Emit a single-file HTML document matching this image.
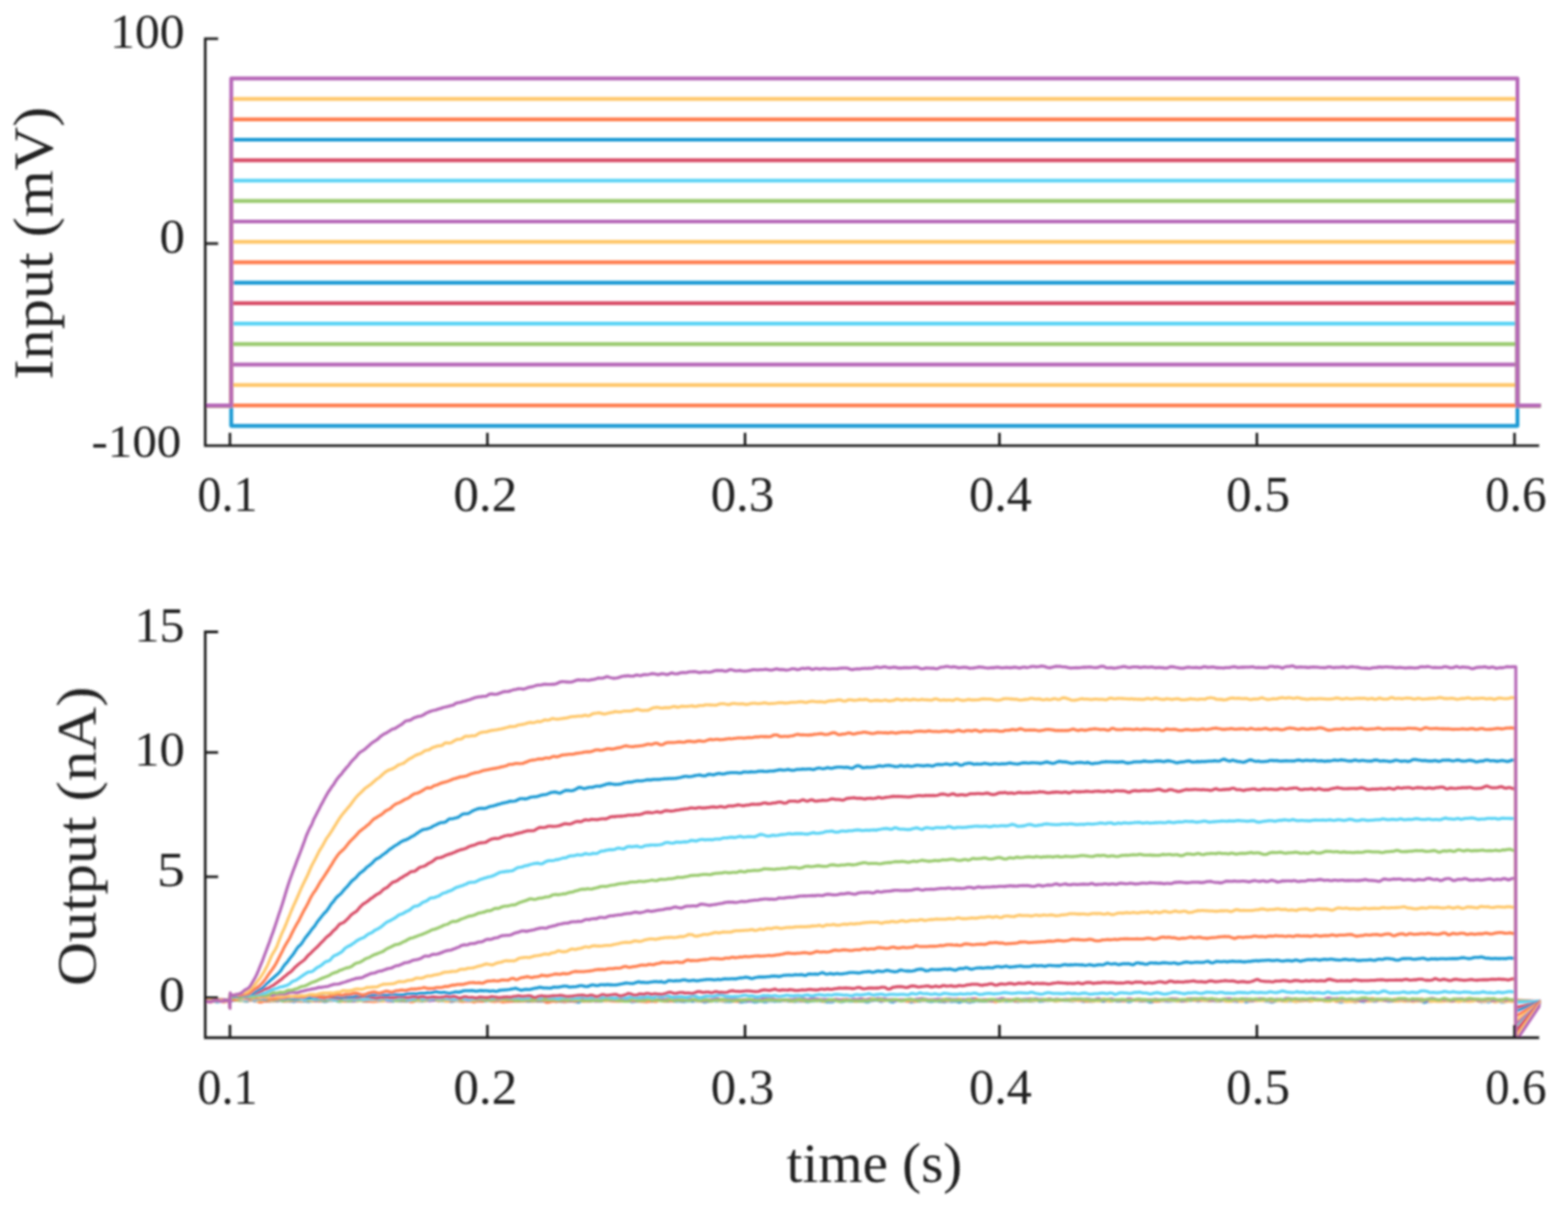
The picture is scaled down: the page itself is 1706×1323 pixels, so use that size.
<!DOCTYPE html><html><head><meta charset="utf-8"><title>Voltage clamp</title><style>html,body{margin:0;padding:0;background:#fff;}svg{display:block;}text{font-family:"Liberation Serif",serif;fill:#222;}</style></head><body>
<svg width="1706" height="1323" viewBox="0 0 1706 1323">
<rect width="1706" height="1323" fill="#fff"/>
<defs><clipPath id="ct"><rect x="223.3" y="0" width="1452.8" height="486.9"/></clipPath><clipPath id="cb"><rect x="223.3" y="667.5" width="1452.8" height="461.5"/></clipPath><filter id="bl" x="-1%" y="-1%" width="102%" height="102%"><feGaussianBlur stdDeviation="1.0"/></filter></defs>
<g filter="url(#bl)">
<g clip-path="url(#ct)" fill="none" stroke-width="4.2" stroke-linejoin="round" stroke-linecap="butt">
<path stroke="#1a9ad4" d="M221.3 441.1H251.6V463.3H1651.0V441.1H1678.6"/>
<path stroke="#ff7f4f" d="M221.3 441.1H251.6V441.1H1651.0V441.1H1678.6"/>
<path stroke="#ffc86c" d="M221.3 441.1H251.6V418.8H1651.0V441.1H1678.6"/>
<path stroke="#b668b8" d="M221.3 441.1H251.6V396.6H1651.0V441.1H1678.6"/>
<path stroke="#9aca6e" d="M221.3 441.1H251.6V374.4H1651.0V441.1H1678.6"/>
<path stroke="#5ad3f5" d="M221.3 441.1H251.6V352.1H1651.0V441.1H1678.6"/>
<path stroke="#d84d68" d="M221.3 441.1H251.6V329.9H1651.0V441.1H1678.6"/>
<path stroke="#1a9ad4" d="M221.3 441.1H251.6V307.7H1651.0V441.1H1678.6"/>
<path stroke="#ff7f4f" d="M221.3 441.1H251.6V285.4H1651.0V441.1H1678.6"/>
<path stroke="#ffc86c" d="M221.3 441.1H251.6V263.2H1651.0V441.1H1678.6"/>
<path stroke="#b668b8" d="M221.3 441.1H251.6V241.0H1651.0V441.1H1678.6"/>
<path stroke="#9aca6e" d="M221.3 441.1H251.6V218.7H1651.0V441.1H1678.6"/>
<path stroke="#5ad3f5" d="M221.3 441.1H251.6V196.5H1651.0V441.1H1678.6"/>
<path stroke="#d84d68" d="M221.3 441.1H251.6V174.3H1651.0V441.1H1678.6"/>
<path stroke="#1a9ad4" d="M221.3 441.1H251.6V152.0H1651.0V441.1H1678.6"/>
<path stroke="#ff7f4f" d="M221.3 441.1H251.6V129.8H1651.0V441.1H1678.6"/>
<path stroke="#ffc86c" d="M221.3 441.1H251.6V107.6H1651.0V441.1H1678.6"/>
<path stroke="#b668b8" d="M221.3 441.1H251.6V85.3H1651.0V441.1H1678.6"/>
</g>
<g clip-path="url(#cb)" fill="none" stroke-width="3.3" stroke-linejoin="round">
<path stroke="#1a9ad4" d="M221.3 1088.7l2 -0.0 2 -0.3 2 -0.3 2 -0.2 2 0.2 2 0.6 2 0.3 2 -0.3 2 -0.2 2 0.3 2 0.2 2 -0.4 2 -0.2 2 0.1 1.5 0.6 0.4 -0.1 2 -0.3 2 -0.6 2 -0.1 2 -0.3 2 0.4 2 0.2 2 0.5 2 0.2 2 0.3 2 -0.8 2 -0.4 2 0.2 2 0.8 2 -0.3 2 -0.3 2 -0.2 2 0.1 2 0.4 2 0.2 2 0.0 2 0.0 2 0.1 2 -0.2 2 -0.2 2 0.2 2 -0.3 2 -0.1 2 0.5 2 0.0 2 -0.1 2 -0.1 2 0.2 2 0.2 2 0.4 2 -0.3 2 -0.7 2 0.1 2 0.3 2 0.1 2 -0.1 2 0.2 2 0.3 2 -0.1 2 -0.3 2 -0.4 2 0.2 2 -0.3 2 -0.1 2 -0.0 2 0.6 2 0.6 2 -0.3 2 -0.7 2 -0.1 2 -0.1 2 -0.1 2 -0.1 2 0.9 2 0.4 2 -0.1 2 -0.5 2 -0.3 2 0.5 2 0.1 2 -0.2 2 -0.3 2 0.1 2 -0.0 2 -0.4 2 -0.1 2 0.0 2 0.6 2 0.3 2 0.1 2 -0.2 2 -0.2 2 0.2 2 -0.1 2 0.2 2 -0.6 2 -0.1 2 -0.5 2 -0.4 2 -0.2 2 0.4 2 0.5 2 0.8 2 0.2 2 -0.5 2 -0.5 2 0.4 2 0.1 2 -0.2 2 0.1 2 0.3 2 -0.2 2 -0.4 2 -0.0 2 0.0 2 -0.0 2 -0.1 2 0.4 2 0.1 2 0.2 2 -0.4 2 -0.1 2 -0.5 2 -0.3 2 0.2 2 0.1 2 0.3 2 -0.3 2 0.5 2 -0.2 2 0.5 2 -0.0 2 -0.2 2 -0.0 2 0.6 2 0.4 2 -0.5 2 -0.5 2 -0.2 2 0.3 2 0.1 2 0.1 2 -0.5 2 -0.1 2 -0.3 2 0.5 2 0.4 2 0.5 2 -0.2 2 -0.2 2 -0.4 2 -0.1 2 0.2 2 0.0 2 0.0 2 -0.4 2 -0.2 2 0.6 2 0.4 2 -0.3 2 -0.4 2 0.7 2 -0.0 2 -0.4 2 -0.4 2 -0.1 2 0.2 2 0.4 2 0.4 2 -0.4 2 0.1 2 -0.1 2 0.1 2 -0.4 2 -0.3 2 0.4 2 0.4 2 0.2 2 -0.3 2 -0.0 2 -0.3 2 0.2 2 0.1 2 0.0 2 -0.2 2 0.4 2 0.3 2 0.1 2 -0.5 2 -0.6 2 0.1 2 0.6 2 0.3 2 -0.2 2 0.0 2 0.3 2 0.1 2 -0.3 2 0.1 2 -0.4 2 0.1 2 -0.1 2 0.5 2 0.3 2 0.4 2 -0.6 2 -1.2 2 -0.2 2 0.3 2 0.3 2 0.1 2 -0.1 2 -0.8 2 -0.2 2 0.7 2 0.5 2 -0.1 2 -0.2 2 -0.4 2 -0.1 2 0.1 2 -0.1 2 0.1 2 0.4 2 0.5 2 -0.4 2 -0.3 2 -0.3 2 -0.0 2 0.2 2 0.2 2 0.2 2 0.1 2 0.8 2 -0.3 2 -0.2 2 -0.4 2 0.3 2 -0.6 2 -0.2 2 0.3 2 0.5 2 0.1 2 -0.3 2 0.3 2 0.1 2 -0.6 2 -0.7 2 -0.4 2 -0.4 2 -0.1 2 1.1 2 1.1 2 -0.3 2 -0.7 2 0.3 2 0.5 2 0.2 2 -0.3 2 -0.0 2 0.2 2 0.2 2 0.0 2 -0.5 2 -0.1 2 -0.1 2 0.5 2 -0.3 2 -0.1 2 -0.2 2 -0.0 2 0.4 2 0.7 2 0.2 2 -0.4 2 -0.2 2 -0.6 2 -0.4 2 0.1 2 0.7 2 -0.3 2 -0.2 2 0.0 2 0.6 2 0.3 2 -0.0 2 0.1 2 -0.1 2 -0.3 2 -0.9 2 0.4 2 0.7 2 0.7 2 -0.2 2 -0.3 2 -0.2 2 -0.2 2 -0.1 2 -0.0 2 0.5 2 0.3 2 -0.1 2 -0.6 2 -0.4 2 0.4 2 0.5 2 0.1 2 -0.6 2 -0.5 2 -0.1 2 0.4 2 0.3 2 -0.2 2 -0.3 2 0.1 2 -0.3 2 -0.2 2 -0.1 2 0.6 2 0.0 2 0.2 2 0.3 2 0.2 2 -0.5 2 -0.4 2 0.2 2 -0.1 2 -0.0 2 0.7 2 0.3 2 -0.4 2 -0.8 2 0.1 2 -0.2 2 -0.2 2 0.3 2 0.3 2 0.4 2 0.2 2 0.4 2 -0.3 2 0.1 2 0.0 2 -0.5 2 -0.9 2 -0.0 2 0.7 2 0.8 2 -0.3 2 -0.8 2 -0.4 2 0.4 2 0.2 2 0.1 2 0.0 2 -0.0 2 -0.1 2 -0.0 2 0.1 2 0.1 2 0.5 2 0.3 2 -0.2 2 -1.0 2 -0.2 2 -0.4 2 -0.1 2 0.2 2 0.9 2 0.3 2 -0.8 2 -0.4 2 -0.0 2 0.6 2 0.8 2 0.4 2 -0.6 2 -1.0 2 -0.1 2 0.3 2 -0.0 2 -0.0 2 -0.1 2 0.5 2 0.5 2 0.6 2 -0.4 2 -0.3 2 -0.2 2 -0.0 2 -0.3 2 -0.3 2 -0.4 2 0.3 2 0.5 2 0.4 2 0.1 2 -0.3 2 -0.5 2 -0.1 2 0.7 2 0.1 2 0.2 2 0.1 2 -0.3 2 -0.7 2 0.2 2 0.6 2 -0.3 2 -0.1 2 0.3 2 0.8 2 -0.4 2 -0.4 2 -0.7 2 0.7 2 0.4 2 0.5 2 -0.7 2 -0.1 2 -0.8 2 -0.1 2 0.3 2 0.2 2 0.2 2 0.0 2 -0.0 2 -0.5 2 -0.2 2 0.3 2 0.0 2 -0.1 2 -0.1 2 -0.1 2 -0.2 2 0.0 2 0.6 2 0.0 2 -0.2 2 -0.3 2 0.1 2 0.2 2 0.2 2 0.5 2 -0.3 2 0.0 2 -0.4 2 -0.0 2 0.0 2 0.1 2 0.3 2 -0.1 2 -0.3 2 -0.3 2 0.1 2 0.6 2 -0.1 2 -0.2 2 -0.6 2 0.3 2 -0.1 2 -0.2 2 -0.3 2 0.7 2 0.2 2 -0.5 2 -0.5 2 0.1 2 0.4 2 0.1 2 0.0 2 0.1 2 0.1 2 0.2 2 -0.3 2 -0.2 2 -0.6 2 0.7 2 0.6 2 0.4 2 -0.5 2 0.1 2 -0.0 2 0.5 2 -0.2 2 -0.7 2 -0.8 2 -0.0 2 0.6 2 0.7 2 0.1 2 -0.7 2 -0.4 2 0.7 2 -0.2 2 -0.1 2 -0.4 2 0.9 2 -0.2 2 0.0 2 -0.6 2 -0.1 2 0.5 2 0.8 2 0.1 2 -0.7 2 -0.8 2 -0.1 2 0.4 2 0.5 2 0.1 2 -0.3 2 -0.1 2 0.1 2 0.7 2 0.6 2 0.0 2 -0.7 2 -0.6 2 -0.1 2 -0.0 2 -0.0 2 -0.1 2 0.3 2 0.1 2 0.3 2 -0.2 2 -0.2 2 -0.4 2 -0.0 2 0.1 2 0.3 2 0.1 2 -0.2 2 -0.2 2 -0.2 2 0.1 2 -0.0 2 -0.2 2 0.0 2 0.3 2 0.5 2 -0.2 2 -0.2 2 -0.2 2 -0.0 2 0.0 2 0.3 2 -0.2 2 0.1 2 0.1 2 0.3 2 -0.2 2 0.1 2 -0.3 2 0.0 2 0.1 2 0.5 2 -0.0 2 -0.2 2 -0.2 2 0.1 2 0.4 2 0.1 2 -0.6 2 -0.1 2 0.4 2 0.7 2 -0.1 2 -0.8 2 -0.2 2 0.1 2 -0.4 2 -0.4 2 -0.1 2 0.2 2 -0.3 2 0.8 2 0.4 2 0.1 2 0.2 2 0.7 2 -0.1 2 -0.7 2 -0.8 2 -0.3 2 0.2 2 0.5 2 0.2 2 0.1 2 -0.2 2 -0.2 2 -0.0 2 0.4 2 0.3 2 -0.0 2 -0.3 2 -0.3 2 -0.3 2 -0.5 2 0.0 2 0.5 2 0.5 2 -0.6 2 -0.3 2 -0.1 2 0.2 2 -0.5 2 -0.1 2 0.6 2 0.8 2 -0.1 2 -0.3 2 0.2 2 -0.5 2 -0.3 2 0.2 2 1.0 2 0.5 2 0.3 2 -0.2 2 -0.5 2 -0.1 2 -0.2 2 -0.2 2 0.1 2 0.8 2 0.1 2 -0.4 2 -0.5 2 0.4 2 0.1 2 0.2 2 -0.5 2 -0.3 2 -0.4 2 0.5 2 0.4 2 -0.3 2 -0.7 2 -0.1 2 0.3 2 -0.3 2 0.1 2 0.5 2 0.5 2 -0.4 2 0.1 2 -0.1 2 0.3 2 -0.4 2 -0.3 2 -0.2 2 0.2 2 0.3 2 0.1 2 -0.1 2 -0.3 2 -0.1 2 0.5 2 -0.1 2 -0.2 2 0.1 2 0.9 2 0.8 2 -0.3 2 -0.7 2 -0.1 2 0.1 2 -0.5 2 -0.5 2 0.3 2 0.1 2 -0.6 2 -0.6 2 0.4 2 0.4 2 0.2 2 -0.1 2 0.4 2 -0.0 2 -0.0 2 -0.3 2 -0.1 2 -0.4 2 0.5 2 0.3 2 -0.0 2 -0.5 2 -0.0 2 0.4 2 -0.3 2 -0.4 2 -0.2 2 1.2 2 0.8 2 -0.1 2 -0.6 2 0.4 2 0.1 2 -0.5 2 -0.2 2 0.3 2 0.2 2 -0.4 2 0.3 2 0.5 2 0.3 2 -0.4 2 -1.0 2 -0.2 2 0.0 2 0.6 2 -0.1 2 0.0 0 -0.5 27.8 1.5"/>
<path stroke="#ff7f4f" d="M221.3 1088.8l2 -0.5 2 -0.2 2 0.1 2 0.3 2 -0.2 2 0.1 2 -0.5 2 0.3 2 0.5 2 0.8 2 0.3 2 0.0 2 -1.0 2 -0.7 1.5 0.6 0.4 -0.6 2 -0.2 2 0.3 2 -0.2 2 0.0 2 -0.2 2 0.5 2 0.0 2 0.3 2 -0.1 2 -0.1 2 -0.1 2 -0.4 2 0.0 2 0.8 2 1.2 2 0.4 2 -0.4 2 -0.8 2 -0.1 2 -0.0 2 0.0 2 -0.5 2 0.0 2 -0.1 2 0.0 2 -0.3 2 -0.1 2 0.7 2 0.5 2 -0.2 2 -0.5 2 0.3 2 -0.2 2 -0.4 2 0.1 2 0.5 2 0.0 2 0.2 2 -0.1 2 -0.2 2 -0.5 2 0.5 2 -0.4 2 -0.4 2 -0.4 2 0.7 2 0.5 2 0.5 2 -0.5 2 -0.2 2 -0.2 2 0.2 2 -0.1 2 -0.1 2 -0.5 2 -0.3 2 -0.0 2 0.3 2 0.3 2 0.6 2 0.6 2 -0.0 2 -0.7 2 -0.8 2 -0.1 2 0.1 2 0.3 2 0.2 2 -0.3 2 -0.0 2 0.4 2 0.6 2 -0.1 2 0.2 2 -0.0 2 0.3 2 0.1 2 0.0 2 -0.2 2 -0.5 2 -0.3 2 -0.1 2 0.4 2 -0.3 2 0.4 2 0.2 2 -0.1 2 -1.0 2 -0.1 2 0.4 2 0.3 2 0.0 2 -0.1 2 0.3 2 -0.1 2 0.0 2 0.2 2 1.0 2 -0.1 2 -0.7 2 -0.9 2 0.5 2 -0.0 2 -0.1 2 -0.2 2 0.1 2 -0.2 2 -0.1 2 -0.3 2 -0.3 2 0.1 2 0.7 2 0.4 2 -0.4 2 -0.3 2 0.4 2 0.7 2 0.1 2 -0.5 2 -0.1 2 0.0 2 -0.2 2 -0.4 2 0.6 2 0.6 2 0.4 2 -0.4 2 0.0 2 -0.3 2 -0.1 2 0.5 2 0.6 2 -0.2 2 -0.8 2 -0.1 2 0.5 2 -0.0 2 -0.7 2 -0.5 2 0.3 2 0.5 2 0.4 2 0.2 2 0.1 2 -0.6 2 -0.0 2 0.5 2 0.6 2 -0.3 2 -0.6 2 0.3 2 -0.2 2 -0.3 2 -0.3 2 0.5 2 -0.1 2 -0.1 2 -0.2 2 0.1 2 -0.1 2 -0.3 2 -0.1 2 0.4 2 0.1 2 -0.2 2 0.0 2 0.1 2 -0.0 2 -0.4 2 0.5 2 0.8 2 0.9 2 -0.4 2 -0.6 2 -0.4 2 0.0 2 0.2 2 -0.3 2 -0.0 2 -0.2 2 0.6 2 -0.1 2 -0.3 2 -0.4 2 0.2 2 0.2 2 -0.0 2 -0.3 2 -0.7 2 -0.0 2 0.6 2 0.6 2 -0.3 2 0.1 2 -0.1 2 -0.3 2 -0.4 2 0.5 2 -0.1 2 0.1 2 -0.3 2 -0.1 2 -0.0 2 0.4 2 -0.2 2 -0.5 2 0.4 2 0.8 2 0.0 2 -0.3 2 -0.1 2 -0.0 2 -0.1 2 -0.1 2 -0.0 2 -0.3 2 0.0 2 0.2 2 -0.0 2 -0.2 2 0.3 2 0.3 2 0.3 2 0.1 2 0.1 2 0.3 2 -0.4 2 -0.2 2 -0.6 2 0.6 2 0.4 2 -0.5 2 -1.1 2 -0.2 2 0.9 2 0.5 2 -0.2 2 -0.2 2 0.0 2 0.0 2 0.1 2 -0.7 2 -0.1 2 -0.3 2 0.7 2 -0.1 2 -0.1 2 -0.2 2 -0.1 2 -0.1 2 -0.5 2 0.2 2 0.5 2 0.7 2 0.0 2 0.0 2 -0.2 2 -0.1 2 -0.1 2 0.3 2 -0.0 2 -0.3 2 -0.3 2 0.1 2 -0.2 2 0.2 2 0.0 2 0.2 2 -0.4 2 0.1 2 0.1 2 0.1 2 0.4 2 0.2 2 0.4 2 -0.2 2 -0.4 2 -0.7 2 -0.1 2 0.3 2 0.1 2 -0.2 2 -0.5 2 -0.2 2 -0.4 2 0.4 2 0.1 2 0.3 2 -0.2 2 0.3 2 -0.1 2 -0.6 2 -0.4 2 -0.1 2 0.1 2 0.8 2 0.5 2 0.2 2 -0.6 2 0.2 2 -0.1 2 0.3 2 0.1 2 0.6 2 0.2 2 -0.3 2 -0.7 2 0.0 2 0.0 2 0.4 2 -0.1 2 0.5 2 -0.6 2 -0.4 2 -0.1 2 0.5 2 -0.2 2 -0.3 2 -0.2 2 0.1 2 0.9 2 0.9 2 -0.4 2 -1.1 2 -0.4 2 0.6 2 0.1 2 -0.2 2 -0.0 2 0.6 2 0.1 2 -0.7 2 -0.7 2 -0.1 2 -0.2 2 0.5 2 0.3 2 0.6 2 0.4 2 0.6 2 -0.5 2 -0.5 2 0.2 2 0.1 2 -0.7 2 -0.4 2 -0.2 2 0.5 2 -0.3 2 -0.2 2 -0.4 2 0.7 2 0.3 2 0.2 2 0.0 2 0.2 2 -0.5 2 -0.2 2 -0.3 2 0.5 2 0.1 2 -0.0 2 -0.3 2 0.2 2 0.5 2 -0.1 2 0.2 2 0.8 2 -0.2 2 -0.8 2 0.2 2 0.8 2 -0.2 2 -0.8 2 -0.4 2 -0.1 2 -0.1 2 0.3 2 0.1 2 -0.1 2 -0.5 2 0.0 2 -0.0 2 0.2 2 0.4 2 0.5 2 0.1 2 -0.2 2 -0.1 2 -0.2 2 -0.2 2 0.2 2 -0.2 2 0.3 2 0.0 2 -0.0 2 -0.6 2 -0.2 2 0.2 2 0.0 2 0.4 2 -0.1 2 -0.6 2 -0.6 2 -0.2 2 0.5 2 0.7 2 0.8 2 -0.4 2 -0.7 2 0.4 2 0.7 2 0.1 2 -0.2 2 0.7 2 0.5 2 -0.4 2 -0.7 2 -0.2 2 -0.2 2 -0.5 2 -0.2 2 0.0 2 0.2 2 0.1 2 0.9 2 -0.0 2 -0.3 2 -0.6 2 0.3 2 0.4 2 -0.0 2 -0.5 2 -0.8 2 -0.2 2 0.4 2 0.6 2 -0.1 2 -0.3 2 0.1 2 0.4 2 -0.0 2 -0.2 2 -0.6 2 -0.3 2 0.6 2 0.1 2 -0.1 2 -0.2 2 0.5 2 -0.2 2 -0.1 2 0.2 2 0.2 2 -0.5 2 -0.2 2 -0.1 2 0.3 2 0.1 2 0.5 2 0.4 2 -0.2 2 -0.0 2 0.2 2 0.5 2 0.1 2 -0.3 2 -0.5 2 -0.2 2 -0.2 2 -0.1 2 -0.2 2 0.2 2 -0.5 2 -0.2 2 0.2 2 0.8 2 0.6 2 -0.0 2 -0.4 2 -0.5 2 0.1 2 0.1 2 0.3 2 0.4 2 0.2 2 -0.7 2 -0.8 2 -0.3 2 0.0 2 0.6 2 0.7 2 -0.2 2 -0.3 2 0.5 2 0.4 2 -0.5 2 -0.5 2 0.2 2 0.4 2 0.4 2 0.3 2 0.1 2 0.0 2 -0.1 2 -0.8 2 -0.6 2 0.0 2 0.3 2 0.2 2 -0.1 2 -0.3 2 0.1 2 0.5 2 0.2 2 -0.2 2 0.2 2 0.0 2 -1.0 2 -0.7 2 -0.1 2 0.4 2 0.2 2 0.6 2 0.2 2 -0.5 2 0.2 2 0.3 2 -0.2 2 -0.6 2 0.4 2 0.2 2 0.0 2 -0.1 2 -0.2 2 -0.2 2 0.4 2 0.1 2 -0.1 2 -0.1 2 0.9 2 -0.0 2 0.1 2 -0.6 2 0.0 2 -0.2 2 0.3 2 0.4 2 -0.1 2 -0.5 2 -0.6 2 0.1 2 0.4 2 0.5 2 0.0 2 0.0 2 0.1 2 -0.0 2 -0.8 2 -0.9 2 -0.4 2 0.8 2 0.4 2 0.5 2 -0.1 2 0.6 2 0.0 2 -0.2 2 -0.6 2 -0.3 2 0.1 2 -0.1 2 -0.1 2 0.4 2 -0.2 2 -0.2 2 -0.5 2 0.4 2 0.3 2 0.3 2 0.1 2 -0.6 2 0.1 2 -0.1 2 0.4 2 -0.1 2 -0.6 2 -0.6 2 0.2 2 1.2 2 0.4 2 -0.1 2 -0.8 2 0.2 2 0.7 2 0.4 2 -0.6 2 -0.9 2 0.1 2 1.0 2 0.8 2 -0.1 2 -0.5 2 -0.5 2 -0.1 2 -0.3 2 -0.0 2 -0.2 2 0.6 2 0.2 2 -0.0 2 -0.4 2 -0.6 2 -0.1 2 0.1 2 -0.1 2 -0.4 2 0.1 2 -0.1 2 -0.1 2 -0.3 2 0.5 2 0.6 2 1.0 2 -0.3 2 -0.6 2 -0.2 2 0.5 2 -0.0 2 0.2 2 0.2 2 -0.4 2 -0.9 2 0.2 2 0.5 2 -0.0 2 -0.5 2 0.1 2 0.7 2 0.1 2 -0.1 2 0.1 2 -0.3 2 -0.5 2 0.1 2 0.4 2 -0.6 2 -0.3 2 0.5 2 1.1 2 -0.4 2 0.2 2 -0.3 2 0.5 2 -0.2 2 0.6 2 -0.2 2 -0.7 2 -0.2 2 -0.1 2 -0.5 2 0.4 2 0.9 2 1.0 2 -0.9 2 -0.0 2 0.2 2 0.7 2 -0.4 2 -0.9 2 -0.6 2 -0.5 2 -0.3 2 0.1 2 0.5 2 0.3 2 0.0 2 0.8 2 0.6 2 -0.0 2 -0.3 2 -0.4 2 -0.3 2 -0.0 2 -0.0 2 -0.2 2 -0.5 2 0.3 2 0.6 2 0.3 2 -0.2 2 -0.6 2 -0.2 2 -0.4 2 0.6 2 1.2 2 0.5 2 -0.6 2 0.0 0 -0.8 27.8 1.5"/>
<path stroke="#ffc86c" d="M221.3 1088.5l2 0.0 2 0.3 2 -0.0 2 0.1 2 -0.1 2 -0.2 2 -0.3 2 -0.6 2 -0.1 2 -0.2 2 0.3 2 -0.0 2 0.3 2 0.1 1.5 -0.2 0.4 -0.2 2 -0.4 2 -0.3 2 0.6 2 0.8 2 0.6 2 -0.4 2 -0.2 2 -0.5 2 0.2 2 -0.3 2 -0.5 2 0.1 2 1.1 2 0.4 2 -0.9 2 -0.4 2 0.3 2 -0.4 2 -0.3 2 0.2 2 0.6 2 0.5 2 -0.0 2 0.5 2 -0.3 2 -0.2 2 -1.1 2 -0.3 2 0.3 2 0.5 2 0.3 2 -0.2 2 -0.1 2 -0.3 2 -0.1 2 0.1 2 0.3 2 0.4 2 -0.0 2 -0.6 2 -0.1 2 0.2 2 0.5 2 0.7 2 0.4 2 -0.5 2 -0.8 2 -0.5 2 -0.3 2 -0.2 2 0.1 2 0.2 2 0.5 2 0.1 2 -0.0 2 -0.5 2 0.5 2 0.4 2 0.7 2 -0.1 2 0.2 2 -0.5 2 -0.2 2 0.4 2 -0.1 2 -0.2 2 -0.1 2 0.5 2 -0.2 2 -0.1 2 -0.2 2 -0.3 2 -0.5 2 -0.1 2 -0.3 2 0.2 2 0.3 2 0.3 2 -0.3 2 0.3 2 0.5 2 0.5 2 -0.7 2 -0.4 2 -0.0 2 0.3 2 -0.5 2 -0.1 2 0.9 2 0.2 2 -0.4 2 -0.4 2 0.4 2 0.1 2 -0.3 2 -0.2 2 0.1 2 0.4 2 -0.3 2 -0.4 2 -0.0 2 0.5 2 -0.1 2 0.1 2 -0.6 2 0.2 2 -0.1 2 -0.4 2 -0.4 2 -0.0 2 0.5 2 0.5 2 0.2 2 -0.4 2 -0.0 2 0.6 2 0.6 2 -0.2 2 -0.4 2 -0.6 2 0.3 2 0.6 2 -0.0 2 -0.4 2 -0.3 2 -0.2 2 0.5 2 0.3 2 -0.3 2 -0.8 2 0.3 2 0.6 2 0.1 2 -0.5 2 -0.2 2 -0.4 2 -0.3 2 0.2 2 0.5 2 0.3 2 0.2 2 0.4 2 -0.2 2 0.2 2 0.2 2 -0.2 2 -0.5 2 0.0 2 -0.2 2 -0.3 2 -0.1 2 -0.3 2 -0.2 2 0.1 2 0.4 2 -0.4 2 -0.1 2 0.2 2 0.5 2 -0.2 2 0.1 2 -0.2 2 0.1 2 0.3 2 0.3 2 -0.3 2 -0.0 2 0.2 2 -0.1 2 -0.2 2 0.4 2 -0.5 2 -0.6 2 -0.4 2 0.3 2 -0.0 2 0.1 2 0.4 2 0.1 2 0.2 2 0.1 2 0.1 2 -0.1 2 0.4 2 0.4 2 -0.3 2 -0.6 2 -0.3 2 0.2 2 0.4 2 0.1 2 -0.3 2 0.1 2 0.2 2 -0.0 2 -0.5 2 -0.2 2 -0.2 2 0.9 2 0.4 2 -0.2 2 -0.8 2 0.1 2 0.4 2 0.3 2 0.6 2 0.0 2 0.2 2 -0.4 2 0.0 2 -0.8 2 -0.3 2 -0.1 2 0.3 2 -0.6 2 0.1 2 0.2 2 0.3 2 -0.3 2 0.1 2 0.2 2 -0.2 2 -0.3 2 -0.0 2 0.5 2 0.1 2 -0.3 2 -0.3 2 0.1 2 0.5 2 0.1 2 0.2 2 0.1 2 0.1 2 -0.3 2 -0.5 2 -0.5 2 -0.6 2 0.3 2 0.5 2 0.2 2 0.1 2 -0.4 2 0.1 2 -0.2 2 0.2 2 -0.2 2 0.1 2 -0.3 2 -0.2 2 0.3 2 0.6 2 0.5 2 -0.3 2 -0.5 2 -0.4 2 0.4 2 -0.2 2 0.4 2 0.0 2 0.2 2 -0.3 2 0.5 2 0.4 2 0.1 2 -0.2 2 0.2 2 0.2 2 -0.1 2 -0.1 2 -0.2 2 -0.1 2 -0.6 2 -0.2 2 0.2 2 -0.0 2 0.1 2 0.1 2 0.4 2 -0.8 2 -0.3 2 0.3 2 0.5 2 -0.1 2 -0.7 2 0.2 2 0.1 2 0.8 2 -0.5 2 0.1 2 -0.1 2 0.6 2 -0.3 2 -0.3 2 0.4 2 0.3 2 -0.3 2 -0.7 2 -0.0 2 0.4 2 0.7 2 0.1 2 -1.0 2 -0.2 2 0.8 2 0.7 2 -0.0 2 -0.5 2 -0.4 2 -0.6 2 -0.3 2 0.3 2 0.4 2 0.8 2 0.0 2 -0.2 2 -0.5 2 0.6 2 0.4 2 -0.7 2 -0.5 2 0.4 2 0.3 2 -0.5 2 -0.1 2 0.3 2 -0.2 2 -0.5 2 -0.2 2 0.3 2 0.2 2 0.5 2 0.2 2 -0.5 2 -0.4 2 0.2 2 0.6 2 0.1 2 -0.3 2 -0.5 2 -0.1 2 0.0 2 -0.5 2 -0.1 2 0.4 2 0.3 2 -0.6 2 -0.3 2 -0.2 2 0.3 2 0.5 2 -0.2 2 0.1 2 -0.1 2 0.2 2 -0.0 2 0.5 2 -0.2 2 0.2 2 0.1 2 0.2 2 -0.3 2 0.6 2 -0.1 2 0.1 2 -0.4 2 0.3 2 -0.3 2 -0.1 2 0.2 2 0.5 2 -0.0 2 0.1 2 0.2 2 -0.4 2 -0.5 2 -0.3 2 0.4 2 0.3 2 0.2 2 -0.6 2 -0.3 2 0.2 2 -0.1 2 0.0 2 -0.4 2 -0.1 2 -0.1 2 0.5 2 0.2 2 -0.2 2 0.1 2 0.0 2 0.1 2 -0.6 2 -0.3 2 0.3 2 0.2 2 0.2 2 0.3 2 0.6 2 0.4 2 -0.3 2 -0.7 2 -0.2 2 0.4 2 0.5 2 -0.2 2 0.1 2 0.0 2 0.2 2 -0.2 2 -0.1 2 -0.1 2 -0.1 2 0.2 2 -0.1 2 0.3 2 -0.1 2 0.2 2 -0.4 2 -0.1 2 0.3 2 0.1 2 -0.5 2 -0.8 2 0.0 2 1.0 2 0.5 2 0.2 2 -0.8 2 -0.1 2 0.1 2 0.8 2 -0.2 2 -0.2 2 -0.3 2 -0.1 2 -0.3 2 -0.1 2 -0.4 2 -0.0 2 0.5 2 0.5 2 -0.6 2 0.2 2 0.4 2 0.5 2 0.0 2 -0.2 2 -0.2 2 -0.3 2 0.0 2 -0.2 2 0.1 2 0.3 2 0.2 2 -0.1 2 -0.4 2 0.0 2 -0.1 2 -0.2 2 -0.1 2 0.1 2 0.1 2 -0.1 2 0.6 2 0.6 2 0.2 2 -0.6 2 0.2 2 0.2 2 -0.2 2 -0.5 2 0.0 2 0.4 2 0.0 2 0.4 2 -0.4 2 -0.1 2 -0.7 2 0.6 2 -0.0 2 0.1 2 -0.2 2 0.5 2 -0.3 2 -0.6 2 -0.6 2 0.2 2 0.2 2 0.3 2 -0.2 2 -0.1 2 -0.1 2 0.3 2 0.6 2 -0.2 2 -0.5 2 -0.4 2 0.6 2 -0.1 2 -0.1 2 -0.3 2 0.4 2 0.2 2 0.2 2 -0.1 2 -0.0 2 -0.4 2 -0.1 2 0.3 2 0.4 2 0.1 2 0.4 2 -0.2 2 -0.7 2 0.1 2 0.9 2 -0.0 2 -0.9 2 -0.6 2 0.1 2 -0.1 2 0.1 2 -0.1 2 -0.0 2 0.2 2 0.4 2 0.2 2 -0.0 2 0.5 2 -0.1 2 -0.3 2 -0.4 2 0.5 2 0.4 2 -0.2 2 -0.6 2 0.1 2 0.5 2 0.5 2 0.3 2 -0.3 2 -0.7 2 -0.7 2 0.1 2 0.2 2 1.1 2 0.2 2 -0.8 2 -1.1 2 0.1 2 0.3 2 -0.2 2 -0.1 2 0.5 2 0.3 2 -0.2 2 0.1 2 0.0 2 -0.0 2 -0.6 2 -0.1 2 0.4 2 0.1 2 -0.0 2 0.2 2 0.4 2 -0.0 2 -0.4 2 0.3 2 0.5 2 0.3 2 -0.9 2 -0.8 2 0.3 2 1.1 2 0.4 2 -0.1 2 -0.5 2 -0.3 2 -0.3 2 0.3 2 -0.3 2 0.1 2 0.5 2 0.1 2 -0.8 2 -0.3 2 0.3 2 -0.4 2 -0.0 2 0.5 2 0.5 2 0.3 2 0.2 2 -0.3 2 -0.6 2 -0.2 2 -0.1 2 0.1 2 0.2 2 -0.0 2 0.4 2 0.6 2 0.3 2 -0.3 2 -0.1 2 0.2 2 -0.1 2 0.2 2 -0.5 2 -0.3 2 -0.8 2 0.1 2 0.3 2 0.8 2 -0.0 2 -0.3 2 -0.4 2 -0.1 2 -0.4 2 0.1 2 -0.2 2 0.2 2 0.2 2 0.3 2 -0.4 2 -0.4 2 0.6 2 0.2 2 0.5 2 -0.1 2 0.2 2 -0.8 2 0.0 2 0.8 2 0.1 2 -0.6 2 -0.1 2 0.5 2 0.6 2 -0.3 2 -0.2 2 -0.8 2 0.6 2 -0.0 2 -0.5 2 -0.7 2 0.3 2 1.1 2 0.1 2 -0.2 2 -0.3 2 0.6 2 0.1 2 -0.0 2 -0.2 2 -0.1 2 -0.3 2 -0.1 2 -0.2 2 0.2 2 -0.2 2 0.3 2 0.2 2 0.3 2 -0.6 2 -0.4 2 0.2 2 0.5 2 0.2 2 0.1 2 -0.3 2 -0.2 2 -0.6 2 0.2 2 0.2 2 0.3 2 0.1 2 0.3 2 -0.7 2 -0.6 2 -0.3 2 0.9 2 0.9 2 0.4 2 -0.5 2 -0.7 2 0.2 2 0.2 2 0.4 2 -0.3 2 0.0 2 -0.4 2 0.1 2 -0.3 2 0.0 0 0.8 27.8 1.2"/>
<path stroke="#b668b8" d="M221.3 1089.2l2 -0.3 2 -0.7 2 -0.3 2 0.3 2 0.5 2 -0.1 2 -0.1 2 0.0 2 0.5 2 -0.0 2 0.2 2 0.1 2 0.0 2 -0.4 0.9 0.6 0.3 -2.1 0.3 0.3 0.4 0.7 2 -0.4 2 -0.1 2 -0.3 2 0.3 2 -0.6 2 -0.5 2 -0.1 2 0.2 2 0.6 2 -0.2 2 0.4 2 0.2 2 0.2 2 -0.6 2 -0.3 2 -0.2 2 0.0 2 0.3 2 0.3 2 -0.3 2 -0.2 2 -0.1 2 0.4 2 0.7 2 0.6 2 -0.2 2 -1.0 2 -0.7 2 -0.4 2 0.6 2 0.4 2 0.3 2 -0.3 2 0.2 2 0.4 2 0.1 2 -0.3 2 -0.6 2 0.4 2 -0.0 2 -0.3 2 -0.6 2 -0.1 2 0.4 2 1.2 2 0.3 2 -0.2 2 -0.5 2 -0.1 2 -0.5 2 -0.1 2 0.1 2 0.6 2 -0.2 2 -0.1 2 -0.2 2 0.4 2 -0.1 2 0.2 2 0.3 2 0.0 2 -0.0 2 -0.6 2 0.0 2 0.7 2 0.9 2 -0.2 2 -1.0 2 -0.5 2 -0.4 2 0.2 2 0.3 2 0.1 2 -0.0 2 -0.7 2 0.0 2 0.2 2 0.3 2 -0.2 2 0.5 2 0.1 2 -0.4 2 -0.7 2 0.7 2 1.0 2 0.4 2 -0.7 2 -0.8 2 0.2 2 0.1 2 0.3 2 0.3 2 0.3 2 -0.3 2 -0.1 2 0.4 2 -0.4 2 -0.1 2 -0.3 2 -0.1 2 -0.3 2 0.1 2 -0.1 2 -0.5 2 -0.3 2 0.7 2 1.2 2 0.5 2 -0.2 2 -0.6 2 -0.3 2 -0.2 2 -0.1 2 -0.4 2 -0.0 2 0.3 2 -0.1 2 0.0 2 0.1 2 0.5 2 0.0 2 -0.1 2 -0.3 2 -0.0 2 -0.1 2 -0.2 2 0.3 2 0.5 2 0.4 2 -0.6 2 -0.5 2 -0.3 2 0.5 2 0.0 2 -0.1 2 0.2 2 0.3 2 -0.2 2 0.0 2 0.4 2 0.1 2 -0.3 2 -0.3 2 0.3 2 -0.1 2 -0.1 2 -0.5 2 -0.1 2 0.2 2 0.2 2 0.2 2 -0.2 2 -1.1 2 -0.3 2 -0.0 2 0.9 2 0.5 2 0.7 2 -0.2 2 -0.4 2 -0.1 2 -0.0 2 -0.1 2 -0.2 2 0.4 2 0.3 2 0.4 2 -0.3 2 -0.1 2 -0.3 2 0.2 2 0.3 2 0.1 2 -0.4 2 -0.5 2 0.4 2 0.3 2 -0.0 2 -0.1 2 0.5 2 0.2 2 -0.6 2 0.3 2 0.2 2 0.1 2 -0.7 2 -0.6 2 -0.6 2 0.2 2 0.6 2 0.3 2 -0.5 2 -0.6 2 -0.0 2 0.0 2 0.5 2 0.6 2 1.2 2 0.1 2 -0.6 2 -1.1 2 -1.2 2 -0.2 2 0.4 2 1.2 2 0.4 2 0.2 2 -0.2 2 -0.0 2 0.3 2 -0.3 2 -0.5 2 -0.7 2 0.6 2 0.7 2 0.5 2 -0.8 2 -0.5 2 -0.1 2 0.3 2 -0.1 2 0.2 2 -0.1 2 0.2 2 0.0 2 -0.0 2 -0.3 2 -0.2 2 0.3 2 0.1 2 0.1 2 -0.3 2 -0.4 2 0.1 2 0.0 2 0.4 2 0.0 2 -0.2 2 -0.6 2 -0.2 2 0.3 2 -0.1 2 0.3 2 0.3 2 0.3 2 -0.3 2 0.1 2 -0.2 2 0.0 2 0.1 2 0.3 2 -0.2 2 -0.5 2 -0.0 2 0.3 2 0.2 2 -0.3 2 0.0 2 0.9 2 0.3 2 -0.3 2 -0.5 2 -0.6 2 -0.3 2 -0.1 2 1.0 2 0.1 2 -0.2 2 -0.5 2 0.2 2 0.1 2 -0.0 2 -0.4 2 -0.0 2 0.3 2 1.0 2 0.4 2 -0.2 2 -0.3 2 0.2 2 0.4 2 0.0 2 -0.4 2 -0.5 2 -0.2 2 0.1 2 -0.0 2 -0.3 2 -0.7 2 -0.4 2 -0.2 2 0.5 2 0.4 2 0.1 2 0.0 2 0.4 2 0.5 2 0.2 2 0.4 2 -0.3 2 -0.4 2 -0.2 2 0.4 2 -0.0 2 -0.3 2 -0.4 2 -0.5 2 -0.0 2 0.1 2 -0.1 2 -0.2 2 0.2 2 0.5 2 0.3 2 -0.6 2 -0.4 2 -0.2 2 0.5 2 0.1 2 0.3 2 0.1 2 0.1 2 -0.2 2 0.2 2 -0.1 2 0.2 2 0.1 2 0.1 2 -0.3 2 0.0 2 0.3 2 0.3 2 -0.0 2 -0.1 2 -0.2 2 0.2 2 -0.1 2 -0.7 2 -0.2 2 0.3 2 0.1 2 -0.5 2 -0.2 2 0.8 2 0.5 2 -0.3 2 -0.6 2 -0.1 2 0.9 2 -0.2 2 -0.8 2 -0.6 2 0.4 2 0.5 2 -0.6 2 0.1 2 0.8 2 0.2 2 -0.1 2 -0.3 2 1.0 2 0.1 2 -0.1 2 -0.4 2 0.1 2 -0.2 2 -0.2 2 -0.2 2 -0.4 2 0.2 2 0.4 2 0.1 2 -0.5 2 -0.2 2 -0.4 2 -0.2 2 0.4 2 0.4 2 0.5 2 0.1 2 -0.0 2 -0.1 2 -0.2 2 -0.2 2 -0.3 2 0.5 2 0.2 2 0.2 2 -0.7 2 -0.2 2 -0.1 2 0.5 2 0.1 2 -0.1 2 -0.0 2 0.4 2 0.0 2 -0.1 2 -0.1 2 -0.1 2 -0.3 2 -0.1 2 -0.1 2 -0.0 2 0.6 2 0.7 2 -0.0 2 -0.1 2 -0.2 2 0.0 2 -0.2 2 0.1 2 0.5 2 0.0 2 -0.6 2 -0.4 2 0.0 2 0.1 2 -1.2 2 0.1 2 0.7 2 1.0 2 -0.0 2 0.3 2 -0.2 2 -0.2 2 -0.6 2 -0.2 2 0.1 2 0.4 2 -0.3 2 -0.3 2 -0.0 2 0.1 2 -0.0 2 0.1 2 -0.3 2 -0.5 2 0.6 2 0.3 2 0.1 2 -0.2 2 0.6 2 -0.4 2 -0.4 2 -0.1 2 0.6 2 -0.0 2 -0.5 2 0.0 2 0.7 2 0.4 2 -0.5 2 -0.3 2 0.0 2 0.4 2 -0.4 2 -0.2 2 -0.1 2 0.0 2 -0.1 2 0.2 2 0.2 2 0.0 2 -0.3 2 -0.1 2 0.1 2 0.5 2 0.3 2 -0.4 2 -0.7 2 -0.3 2 0.6 2 1.0 2 0.3 2 -0.5 2 -0.5 2 -0.2 2 -0.3 2 0.4 2 0.7 2 0.4 2 -0.5 2 0.4 2 -0.0 2 0.0 2 -0.7 2 -0.7 2 0.0 2 0.9 2 0.5 2 -0.4 2 -0.4 2 -0.3 2 0.3 2 0.3 2 0.2 2 -0.3 2 0.1 2 0.1 2 0.1 2 -0.6 2 -0.2 2 0.5 2 0.3 2 -0.4 2 -0.3 2 0.5 2 0.2 2 -0.7 2 -0.3 2 -0.3 2 0.1 2 0.0 2 0.4 2 0.4 2 0.8 2 0.5 2 -0.2 2 -1.1 2 -0.5 2 -0.5 2 0.1 2 -0.1 2 0.1 2 0.1 2 0.1 2 -0.3 2 -0.3 2 0.4 2 0.6 2 0.6 2 0.2 2 -0.1 2 -0.2 2 -0.6 2 0.5 2 0.5 2 0.2 2 -1.1 2 -0.3 2 -0.3 2 -0.1 2 0.2 2 0.7 2 0.0 2 0.0 2 -0.2 2 0.0 2 -0.3 2 -0.0 2 0.0 2 -0.0 2 0.6 2 -0.0 2 0.6 2 -0.6 2 0.0 2 -0.7 2 -0.2 2 -0.1 2 0.6 2 0.1 2 0.1 2 -0.2 2 0.2 2 -0.1 2 0.4 2 -0.5 2 0.1 2 0.3 2 0.3 2 -0.8 2 -0.7 2 -0.3 2 0.5 2 0.5 2 -0.0 2 -0.4 2 0.6 2 0.4 2 -0.2 2 -0.1 2 0.4 2 0.1 2 -0.6 2 -0.6 2 -0.4 2 0.1 2 0.4 2 0.4 2 0.3 2 0.1 2 -0.1 2 -0.4 2 -0.8 2 -0.3 2 0.2 2 0.4 2 0.1 2 -0.0 2 -0.2 2 0.1 2 0.5 2 0.1 2 0.1 2 0.0 2 -0.2 2 -0.2 2 0.7 2 0.3 2 0.1 2 0.0 2 0.6 2 -0.5 2 -0.0 2 -0.1 2 -0.0 2 -0.6 2 0.1 2 0.2 2 -0.0 2 0.2 2 -0.1 2 -0.4 2 -0.2 2 0.6 2 0.6 2 -0.5 2 -0.1 2 0.0 2 0.7 2 -0.5 2 -0.3 2 -0.4 2 -0.1 2 -0.4 2 0.5 2 0.5 2 -0.1 2 -0.1 2 0.5 2 0.5 2 -0.4 2 -0.4 2 0.1 2 0.1 2 -0.3 2 -0.1 2 0.7 2 -0.0 2 -1.2 2 -0.9 2 0.1 2 0.7 2 0.6 2 0.3 2 -0.2 2 -0.2 2 -0.1 2 0.1 2 -0.1 2 0.9 2 0.5 2 -0.2 2 -1.1 2 -0.4 2 -0.2 2 -0.0 2 0.0 2 0.7 2 0.2 2 -0.1 2 -0.6 2 -0.3 2 0.2 2 0.4 2 0.6 2 -0.0 2 0.2 2 -0.1 2 0.1 2 -0.9 2 -0.6 2 0.3 2 1.1 2 0.5 2 -0.1 2 -0.4 2 -0.3 2 -0.4 2 0.3 2 0.3 2 0.1 2 -0.4 2 0.0 2 0.2 2 0.1 2 0.0 0 0.9 27.8 1.1"/>
<path stroke="#9aca6e" d="M221.3 1088.8l2 0.3 2 0.1 2 -0.1 2 0.3 2 -0.1 2 -0.4 2 -0.5 2 -0.3 2 -0.7 2 0.5 2 -0.0 2 0.5 2 -0.3 2 0.4 0.9 1.7 0.3 -3.2 0.3 0.5 0.4 -0.4 2 0.1 2 0.5 2 0.6 2 0.1 2 -0.1 2 -0.6 2 -0.0 2 -0.1 2 -0.0 2 -0.3 2 -0.0 2 0.2 2 0.2 2 -0.1 2 -0.3 2 0.1 2 -0.2 2 -0.2 2 0.3 2 -0.1 2 -0.4 2 -0.1 2 0.4 2 0.7 2 -0.5 2 0.4 2 0.1 2 1.0 2 -0.5 2 -0.4 2 -0.4 2 0.2 2 -0.2 2 -0.0 2 0.1 2 0.1 2 -0.2 2 -0.2 2 -0.0 2 0.3 2 0.3 2 -0.1 2 -0.5 2 -0.2 2 0.2 2 0.0 2 0.1 2 0.4 2 -0.1 2 0.3 2 -0.1 2 0.3 2 -0.3 2 -0.3 2 -0.5 2 0.2 2 0.5 2 0.9 2 0.3 2 -0.3 2 -0.7 2 -0.3 2 -0.0 2 0.4 2 0.3 2 -0.3 2 -0.7 2 0.1 2 0.5 2 0.0 2 -0.1 2 -0.1 2 -0.2 2 -0.4 2 -0.4 2 0.2 2 0.1 2 0.2 2 -0.4 2 0.5 2 0.3 2 0.1 2 -0.6 2 -0.2 2 -0.3 2 0.4 2 0.3 2 0.4 2 0.4 2 0.2 2 0.0 2 -0.5 2 -0.2 2 0.1 2 0.4 2 -0.3 2 -0.2 2 0.1 2 0.6 2 -0.1 2 -0.5 2 -0.7 2 0.4 2 0.7 2 -0.2 2 -0.5 2 -0.0 2 -0.2 2 -0.8 2 -0.4 2 0.6 2 0.8 2 0.3 2 -0.0 2 0.2 2 -0.5 2 -0.4 2 -0.2 2 0.2 2 -0.1 2 0.3 2 0.3 2 -0.3 2 -0.2 2 0.7 2 0.3 2 -0.6 2 -0.5 2 0.6 2 0.6 2 -0.4 2 -0.0 2 -0.1 2 -0.2 2 -0.5 2 0.2 2 0.5 2 0.4 2 0.0 2 0.0 2 -0.1 2 0.2 2 -0.6 2 -0.7 2 -0.0 2 0.2 2 0.1 2 -0.1 2 0.3 2 -0.1 2 0.4 2 -0.4 2 0.0 2 0.6 2 0.8 2 -0.4 2 -0.4 2 0.6 2 -0.2 2 -0.4 2 -0.4 2 0.4 2 0.1 2 0.2 2 -0.2 2 -0.1 2 -0.3 2 -0.1 2 -0.1 2 0.2 2 -0.1 2 0.4 2 0.2 2 -0.2 2 -0.2 2 0.1 2 0.3 2 -0.2 2 0.2 2 -0.1 2 -0.2 2 -0.1 2 0.6 2 -0.3 2 -0.4 2 -0.2 2 0.4 2 -0.5 2 0.4 2 0.5 2 0.7 2 -0.2 2 -0.0 2 -0.5 2 0.1 2 0.3 2 0.0 2 -0.2 2 -0.3 2 0.3 2 0.3 2 -0.4 2 -0.7 2 -0.1 2 0.2 2 -0.0 2 -0.3 2 0.0 2 0.3 2 0.6 2 0.1 2 0.4 2 -0.1 2 0.7 2 0.0 2 -0.0 2 -1.0 2 -1.1 2 -0.4 2 0.4 2 1.3 2 -0.2 2 0.2 2 -0.3 2 0.4 2 -1.1 2 -0.2 2 -0.0 2 0.8 2 0.1 2 -0.3 2 -0.0 2 0.4 2 0.4 2 0.0 2 0.1 2 -0.2 2 -0.7 2 -0.8 2 0.4 2 0.8 2 0.3 2 -0.5 2 -0.2 2 0.0 2 0.0 2 -0.2 2 0.5 2 0.4 2 -0.1 2 -1.0 2 -0.3 2 0.4 2 0.7 2 0.1 2 -0.3 2 -0.3 2 -0.3 2 0.3 2 0.4 2 0.9 2 -0.4 2 -0.4 2 -0.4 2 0.2 2 -0.4 2 -0.6 2 0.1 2 0.6 2 0.3 2 0.2 2 0.3 2 0.1 2 -0.3 2 -0.4 2 0.0 2 0.3 2 0.1 2 -0.1 2 -0.3 2 -0.5 2 -0.5 2 0.3 2 0.7 2 0.7 2 -0.1 2 -0.0 2 0.0 2 0.3 2 -0.4 2 -0.6 2 -0.2 2 -0.1 2 0.1 2 0.4 2 0.2 2 0.3 2 -0.1 2 -0.1 2 -0.6 2 -0.1 2 0.1 2 0.2 2 0.6 2 0.2 2 0.0 2 -0.5 2 -0.6 2 -0.3 2 -0.1 2 0.6 2 0.2 2 0.6 2 0.1 2 0.2 2 -0.4 2 -0.2 2 -0.1 2 0.2 2 -0.2 2 -0.2 2 0.6 2 0.4 2 -0.4 2 -0.9 2 -0.4 2 0.3 2 0.4 2 0.4 2 0.2 2 0.8 2 -0.3 2 -0.5 2 -0.3 2 0.3 2 -0.2 2 -0.2 2 0.3 2 0.2 2 0.0 2 -0.1 2 0.2 2 -0.0 2 -0.3 2 0.2 2 0.1 2 -0.2 2 -0.8 2 -0.3 2 -0.2 2 0.2 2 0.3 2 -0.3 2 -0.2 2 0.3 2 0.7 2 -0.3 2 0.1 2 -0.0 2 -0.3 2 -0.7 2 0.2 2 0.7 2 0.7 2 0.1 2 -0.7 2 -0.6 2 -0.3 2 0.3 2 -0.2 2 0.1 2 0.4 2 0.5 2 0.0 2 -0.4 2 -0.5 2 -0.3 2 0.6 2 0.8 2 0.0 2 -0.1 2 -0.2 2 0.4 2 -0.0 2 -0.1 2 -0.3 2 -0.2 2 -0.3 2 -0.6 2 0.2 2 0.4 2 0.3 2 -0.2 2 0.4 2 0.1 2 -0.3 2 -0.1 2 0.7 2 0.3 2 -0.9 2 -0.7 2 0.2 2 0.6 2 0.5 2 -0.4 2 -0.1 2 -0.4 2 0.6 2 -0.0 2 0.3 2 -0.4 2 -0.5 2 -0.6 2 0.0 2 0.1 2 0.6 2 0.7 2 0.4 2 -0.7 2 -0.5 2 -0.2 2 0.6 2 0.3 2 0.2 2 -0.5 2 -0.7 2 -0.5 2 -0.1 2 0.6 2 0.4 2 0.1 2 -0.3 2 0.4 2 0.1 2 -0.4 2 -0.5 2 0.1 2 0.1 2 0.2 2 0.7 2 -0.3 2 -0.5 2 -0.3 2 0.5 2 -0.1 2 -0.1 2 0.3 2 0.0 2 -0.1 2 -0.2 2 0.2 2 -0.0 2 0.2 2 0.1 2 0.0 2 -0.3 2 -0.3 2 -0.4 2 -0.3 2 0.3 2 0.1 2 -0.1 2 -0.0 2 0.5 2 -0.2 2 0.2 2 0.2 2 0.3 2 -0.2 2 0.1 2 -0.2 2 0.2 2 -0.1 2 -0.2 2 -0.3 2 0.1 2 -0.2 2 -0.0 2 1.0 2 -0.0 2 -0.4 2 -0.4 2 0.3 2 -0.4 2 -0.2 2 0.2 2 0.4 2 0.2 2 0.3 2 -0.0 2 -0.3 2 -0.6 2 -0.3 2 0.1 2 0.2 2 0.0 2 -0.2 2 0.4 2 0.8 2 0.2 2 -0.5 2 -0.6 2 0.4 2 0.1 2 0.0 2 -0.4 2 -0.1 2 -0.3 2 0.1 2 -0.1 2 0.3 2 -0.0 2 0.5 2 -0.1 2 0.1 2 -0.5 2 -0.0 2 -0.2 2 0.2 2 -0.1 2 0.3 2 -0.5 2 -0.2 2 -0.4 2 0.7 2 -0.4 2 -0.2 2 -0.7 2 0.9 2 0.2 2 0.2 2 -0.5 2 -0.2 2 -0.2 2 0.5 2 0.5 2 0.3 2 -0.2 2 -0.1 2 -0.3 2 0.2 2 0.6 2 0.3 2 -0.2 2 -0.7 2 -0.4 2 0.3 2 0.1 2 -0.3 2 -0.4 2 0.3 2 0.7 2 -0.4 2 -0.2 2 -0.1 2 0.4 2 -0.4 2 -0.0 2 0.8 2 0.0 2 -0.8 2 -0.2 2 0.9 2 0.4 2 -1.0 2 -0.2 2 0.4 2 0.8 2 -0.3 2 -0.2 2 -0.5 2 0.4 2 0.7 2 -0.5 2 -1.0 2 0.2 2 0.7 2 -0.3 2 -0.6 2 0.2 2 0.3 2 -0.1 2 -0.1 2 -0.1 2 0.2 2 -0.1 2 -0.1 2 -0.1 2 0.6 2 0.3 2 -0.1 2 -0.3 2 0.1 2 0.3 2 0.1 2 0.3 2 0.2 2 -0.2 2 -0.7 2 -0.2 2 0.3 2 0.1 2 -0.7 2 -0.8 2 0.1 2 0.8 2 0.7 2 -0.4 2 -0.1 2 -0.2 2 0.3 2 -0.1 2 -0.1 2 -0.4 2 -0.7 2 -0.2 2 -0.2 2 0.6 2 0.5 2 0.7 2 0.1 2 -0.2 2 -0.2 2 -0.1 2 0.3 2 0.1 2 -0.2 2 -0.3 2 0.0 2 0.2 2 0.2 2 0.6 2 0.1 2 -0.5 2 -1.1 2 -0.1 2 0.2 2 -0.0 2 -0.0 2 0.5 2 0.4 2 -0.3 2 -0.4 2 0.4 2 -0.2 2 -0.0 2 0.4 2 0.6 2 0.0 2 -0.5 2 -0.4 2 -0.2 2 0.3 2 0.1 2 -0.0 2 0.3 2 0.6 2 -0.5 2 -0.8 2 -0.7 2 0.7 2 0.7 2 0.6 2 -0.5 2 -0.6 2 -0.2 2 0.4 2 0.1 2 -0.1 2 0.2 2 0.3 2 -0.4 2 -0.9 2 -0.2 2 0.5 2 0.5 2 -0.1 2 -0.2 2 0.2 2 0.2 2 0.2 2 -0.4 2 -0.3 2 0.0 2 0.1 2 -0.3 2 -0.2 2 0.7 2 0.5 2 0.4 2 -0.2 2 -0.3 2 -0.8 2 -0.2 2 0.5 2 0.6 2 0.3 2 -0.4 2 0.0 0 1.3 27.8 1.0"/>
<path stroke="#5ad3f5" d="M221.3 1088.9l2 -0.1 2 -0.2 2 0.2 2 0.2 2 0.1 2 -0.1 2 -0.4 2 -0.3 2 -0.3 2 0.4 2 -0.3 2 -0.1 2 0.5 2 0.8 0.9 1.3 0.3 -4.2 0.3 0.6 0.4 -0.4 2 -0.1 2 0.5 2 0.4 2 0.0 2 -0.3 2 -0.1 2 0.6 2 0.3 2 -0.3 2 -1.0 2 0.1 2 0.3 2 0.3 2 -0.0 2 -0.6 2 -0.2 2 0.1 2 0.2 2 -0.5 2 -0.2 2 -0.0 2 0.4 2 -0.2 2 0.1 2 0.2 2 0.1 2 -0.3 2 -0.2 2 0.5 2 -0.4 2 -0.2 2 -0.5 2 0.4 2 0.4 2 0.4 2 0.0 2 -0.4 2 0.6 2 0.5 2 0.4 2 -0.9 2 -0.8 2 0.0 2 0.5 2 0.1 2 -0.2 2 -0.2 2 0.1 2 0.1 2 0.4 2 -0.3 2 0.0 2 -0.2 2 0.3 2 0.3 2 0.5 2 -0.1 2 -0.2 2 -1.0 2 -0.2 2 0.1 2 0.7 2 -0.3 2 -0.3 2 -0.3 2 0.3 2 0.9 2 0.0 2 -0.6 2 -0.0 2 0.1 2 0.6 2 -0.1 2 -0.2 2 -0.4 2 0.6 2 -0.1 2 -0.1 2 -0.3 2 0.6 2 -0.4 2 -0.5 2 -0.4 2 0.5 2 1.0 2 0.4 2 -0.1 2 -0.7 2 -0.7 2 -0.3 2 -0.1 2 0.0 2 -0.6 2 0.1 2 0.3 2 1.4 2 0.4 2 -0.3 2 -0.7 2 -0.4 2 -0.2 2 -0.6 2 0.6 2 0.6 2 0.1 2 -0.6 2 0.2 2 0.5 2 0.1 2 -0.5 2 -0.4 2 -0.1 2 0.5 2 0.0 2 -0.5 2 0.0 2 0.2 2 0.4 2 -0.1 2 0.4 2 0.2 2 0.2 2 -0.1 2 -0.7 2 -0.5 2 -0.0 2 0.8 2 0.6 2 0.4 2 -0.3 2 -0.5 2 -0.4 2 -0.0 2 -0.2 2 -0.6 2 0.2 2 -0.1 2 0.2 2 -0.5 2 0.4 2 -0.2 2 0.4 2 -0.6 2 -0.1 2 0.2 2 0.4 2 -0.0 2 -0.4 2 -0.5 2 -0.1 2 0.5 2 0.3 2 -0.1 2 -0.2 2 -0.1 2 -0.2 2 0.1 2 0.8 2 -0.2 2 0.0 2 -0.2 2 -0.1 2 -0.9 2 -0.1 2 0.6 2 0.5 2 0.2 2 0.1 2 -0.5 2 -1.1 2 -0.0 2 0.3 2 0.7 2 0.1 2 -0.1 2 0.2 2 0.5 2 0.5 2 -0.8 2 -0.6 2 -0.3 2 0.2 2 -0.2 2 0.2 2 0.3 2 0.4 2 -0.3 2 0.2 2 0.1 2 -0.7 2 -0.8 2 0.1 2 1.0 2 0.2 2 -0.2 2 -0.4 2 0.2 2 0.1 2 -0.1 2 -0.4 2 0.2 2 0.1 2 -0.4 2 -0.1 2 0.1 2 0.4 2 0.0 2 0.5 2 0.2 2 -0.3 2 -0.5 2 -0.6 2 0.5 2 0.4 2 0.6 2 -0.5 2 -0.8 2 -0.1 2 0.4 2 0.4 2 -0.4 2 0.1 2 0.1 2 -0.5 2 -0.1 2 -0.1 2 0.1 2 0.2 2 0.6 2 -0.1 2 -1.1 2 -0.4 2 0.4 2 0.5 2 -0.5 2 -0.5 2 -0.3 2 0.3 2 0.6 2 0.7 2 -0.3 2 -0.3 2 -0.1 2 0.1 2 -0.2 2 0.4 2 0.4 2 0.1 2 -0.6 2 -0.2 2 -0.7 2 -0.1 2 0.4 2 1.1 2 0.4 2 -0.2 2 -0.6 2 -0.6 2 -0.3 2 0.2 2 0.0 2 0.2 2 -0.3 2 -0.5 2 -0.6 2 -0.1 2 0.0 2 0.6 2 0.6 2 0.3 2 0.0 2 0.5 2 -0.2 2 -0.1 2 -0.1 2 0.0 2 -0.3 2 -0.5 2 -0.4 2 -0.1 2 0.6 2 0.2 2 -0.1 2 0.1 2 0.6 2 0.3 2 0.0 2 -0.5 2 -0.5 2 -0.3 2 0.1 2 -0.1 2 0.3 2 0.2 2 -0.3 2 -0.4 2 0.7 2 0.4 2 0.0 2 -0.5 2 -0.3 2 -0.5 2 0.0 2 0.7 2 0.0 2 0.2 2 -0.5 2 -0.0 2 -0.2 2 0.5 2 0.1 2 -0.7 2 -0.3 2 -0.2 2 1.0 2 0.1 2 0.1 2 -1.0 2 -0.2 2 -0.4 2 0.5 2 0.2 2 0.4 2 -0.4 2 -0.2 2 0.2 2 0.1 2 -0.6 2 -0.3 2 0.1 2 0.2 2 0.2 2 0.2 2 0.2 2 -0.3 2 0.5 2 0.3 2 0.0 2 -0.6 2 -0.6 2 0.1 2 0.4 2 -0.1 2 -0.1 2 -0.5 2 -0.1 2 -0.7 2 0.8 2 0.6 2 0.3 2 -0.8 2 0.2 2 -0.5 2 -0.1 2 0.5 2 0.6 2 -0.3 2 -0.4 2 -0.1 2 -0.1 2 0.1 2 0.3 2 0.0 2 -0.4 2 -0.0 2 -0.0 2 0.4 2 0.2 2 -0.2 2 -1.2 2 -0.2 2 0.5 2 0.4 2 -0.9 2 -0.6 2 0.6 2 0.4 2 -0.0 2 -0.2 2 0.7 2 0.2 2 -0.2 2 -0.5 2 0.4 2 0.5 2 0.1 2 -0.9 2 -0.6 2 0.2 2 0.3 2 0.3 2 0.1 2 0.2 2 -0.1 2 0.1 2 -0.3 2 -0.4 2 0.5 2 0.1 2 -0.4 2 -0.3 2 0.4 2 -0.2 2 -0.7 2 0.1 2 0.6 2 0.8 2 -0.1 2 -0.1 2 -0.6 2 -0.2 2 -0.4 2 0.2 2 0.2 2 0.5 2 -0.3 2 -0.1 2 -0.2 2 -0.2 2 -0.5 2 -0.2 2 0.1 2 0.2 2 0.4 2 0.1 2 -0.1 2 -0.0 2 -0.5 2 -0.0 2 -0.1 2 0.2 2 -0.0 2 0.3 2 -0.3 2 -0.6 2 -0.1 2 0.7 2 0.6 2 0.3 2 0.3 2 0.1 2 -0.3 2 -0.7 2 -0.5 2 -0.1 2 0.4 2 0.4 2 0.1 2 -0.1 2 0.1 2 0.1 2 0.1 2 -0.1 2 -0.2 2 -0.4 2 -0.0 2 0.4 2 0.2 2 -0.3 2 0.5 2 0.1 2 -0.2 2 -0.5 2 -0.1 2 -0.0 2 0.5 2 0.7 2 0.0 2 -0.4 2 -0.2 2 0.0 2 -0.1 2 -0.3 2 -0.3 2 0.3 2 0.3 2 0.1 2 -0.8 2 -0.0 2 0.7 2 1.0 2 -0.5 2 -1.0 2 -0.3 2 -0.1 2 0.3 2 -0.1 2 0.4 2 0.3 2 -0.4 2 -0.5 2 -0.4 2 0.1 2 -0.3 2 0.2 2 0.7 2 -0.1 2 0.1 2 0.5 2 0.6 2 -0.3 2 -0.6 2 -0.5 2 -0.1 2 0.3 2 0.5 2 0.6 2 0.2 2 -0.3 2 -0.3 2 -0.5 2 -0.7 2 -0.5 2 0.2 2 0.5 2 0.1 2 0.5 2 0.4 2 0.3 2 -0.7 2 -0.4 2 0.1 2 -0.2 2 -0.3 2 0.1 2 0.4 2 0.3 2 0.2 2 -0.3 2 -0.6 2 -0.5 2 0.3 2 -0.1 2 0.3 2 0.1 2 0.4 2 -0.2 2 -0.6 2 0.1 2 0.3 2 0.6 2 -0.2 2 0.1 2 0.1 2 0.1 2 0.1 2 -0.8 2 -0.1 2 -0.2 2 0.3 2 -0.2 2 0.2 2 0.5 2 -0.4 2 -0.4 2 -0.5 2 0.7 2 0.0 2 0.2 2 -0.4 2 0.2 2 0.2 2 0.0 2 -0.3 2 -0.6 2 0.0 2 0.4 2 0.3 2 0.1 2 -0.6 2 -0.6 2 -0.7 2 0.5 2 0.6 2 0.4 2 0.1 2 0.2 2 -0.0 2 -0.4 2 -0.6 2 0.7 2 0.0 2 -0.1 2 0.0 2 0.9 2 -0.3 2 -0.5 2 0.2 2 0.6 2 -0.2 2 -0.2 2 -0.1 2 0.5 2 0.2 2 -0.1 2 -0.9 2 -0.4 2 0.7 2 0.7 2 -0.1 2 0.1 2 -0.3 2 -0.1 2 -0.6 2 0.2 2 -0.2 2 0.6 2 -0.1 2 -0.4 2 -0.8 2 0.3 2 0.2 2 0.5 2 -0.3 2 -0.1 2 0.2 2 0.4 2 0.2 2 -0.1 2 -0.1 2 -0.7 2 0.0 2 0.4 2 0.6 2 -0.7 2 -0.8 2 -0.8 2 0.3 2 0.8 2 0.9 2 0.2 2 -0.3 2 0.1 2 -0.0 2 -0.0 2 -0.1 2 -0.5 2 -0.4 2 0.5 2 0.6 2 -0.1 2 -0.5 2 -0.1 2 0.3 2 0.2 2 -0.3 2 -1.2 2 -0.3 2 -0.0 2 0.2 2 0.4 2 1.0 2 -0.0 2 -0.2 2 0.2 2 0.3 2 -0.1 2 -0.4 2 -0.3 2 -0.6 2 0.1 2 0.6 2 0.2 2 -0.2 2 -0.5 2 0.4 2 0.3 2 0.4 2 -0.1 2 -0.4 2 -0.4 2 0.3 2 0.1 2 0.1 2 0.6 2 0.2 2 -0.3 2 -0.1 2 0.1 2 -0.4 2 -0.7 2 0.3 2 0.5 2 0.3 2 -0.2 2 0.2 2 0.4 2 -0.4 2 -0.6 2 -0.1 2 0.6 2 -0.0 2 -0.3 2 -0.4 2 -0.4 2 0.0 2 0.1 2 0.4 2 -0.0 0 11.3 27.8 -1.5"/>
<path stroke="#d84d68" d="M221.3 1088.5l2 -0.3 2 -0.3 2 -0.1 2 0.3 2 0.3 2 0.3 2 -0.4 2 0.0 2 -0.5 2 0.0 2 -0.1 2 0.6 2 0.3 2 0.1 0.9 2.5 0.3 -5.3 0.3 0.8 0.4 0.1 2 0.1 2 0.1 2 -0.1 2 -0.2 2 -0.4 2 -0.2 2 -0.1 2 0.0 2 0.2 2 0.3 2 -0.3 2 -0.8 2 -0.4 2 0.1 2 0.6 2 -0.0 2 -0.2 2 -0.1 2 0.0 2 -0.1 2 0.3 2 0.7 2 0.2 2 -0.5 2 -0.7 2 -0.1 2 0.1 2 0.3 2 -0.3 2 -0.1 2 -0.1 2 0.2 2 0.4 2 0.2 2 -0.6 2 -0.8 2 -0.5 2 0.2 2 0.5 2 0.7 2 0.0 2 -0.2 2 -0.2 2 -0.3 2 -0.5 2 -0.0 2 0.8 2 0.2 2 0.3 2 0.2 2 0.3 2 -0.5 2 -0.5 2 -0.0 2 0.2 2 0.2 2 0.2 2 0.2 2 0.1 2 -0.3 2 -0.3 2 -0.0 2 -0.4 2 -0.0 2 0.1 2 0.0 2 0.4 2 -0.0 2 -0.3 2 -0.5 2 -0.2 2 -0.2 2 -0.4 2 0.2 2 0.2 2 0.6 2 0.6 2 0.3 2 0.2 2 -0.1 2 -0.4 2 -0.1 2 -0.2 2 -0.2 2 0.1 2 0.5 2 0.2 2 -0.3 2 0.1 2 -0.4 2 -0.4 2 -0.4 2 0.3 2 -0.0 2 0.6 2 0.3 2 -0.1 2 -0.5 2 -0.4 2 0.1 2 0.3 2 0.4 2 -0.6 2 -0.4 2 0.2 2 0.7 2 0.4 2 -0.4 2 -0.2 2 -0.3 2 0.3 2 0.0 2 0.4 2 -0.2 2 -0.2 2 -0.4 2 -0.4 2 0.1 2 0.5 2 -0.1 2 -0.5 2 0.1 2 0.9 2 0.6 2 0.2 2 -0.9 2 -0.6 2 0.1 2 0.6 2 0.1 2 -0.2 2 0.3 2 0.4 2 -0.0 2 -0.9 2 0.1 2 0.1 2 0.3 2 0.1 2 -0.1 2 -0.5 2 -0.5 2 0.3 2 0.1 2 0.6 2 0.1 2 -0.2 2 -0.3 2 -0.2 2 -0.2 2 0.3 2 0.1 2 -0.3 2 -0.6 2 -0.0 2 -0.6 2 0.2 2 0.3 2 0.2 2 -0.4 2 -0.1 2 -0.2 2 0.1 2 1.0 2 0.7 2 -0.0 2 -1.1 2 -0.4 2 -0.4 2 0.5 2 0.1 2 0.2 2 -0.2 2 -0.1 2 -0.5 2 0.1 2 -0.1 2 -0.1 2 -0.3 2 0.2 2 0.3 2 0.4 2 0.3 2 -0.1 2 -0.3 2 0.1 2 -0.5 2 -0.2 2 -0.3 2 0.0 2 -0.2 2 0.2 2 0.4 2 0.3 2 -0.5 2 -0.5 2 0.4 2 1.0 2 0.3 2 -0.5 2 -0.8 2 -0.9 2 0.1 2 0.8 2 0.1 2 -0.5 2 -0.2 2 -0.3 2 -0.3 2 0.4 2 1.2 2 0.1 2 -0.2 2 -0.6 2 -0.5 2 -1.2 2 0.2 2 0.4 2 1.1 2 0.0 2 -0.1 2 -1.2 2 0.1 2 0.1 2 0.2 2 -1.0 2 0.1 2 0.5 2 0.4 2 -0.4 2 -0.2 2 0.4 2 0.0 2 0.2 2 -0.2 2 -0.4 2 -0.7 2 -0.7 2 -0.3 2 0.5 2 0.9 2 -0.1 2 -0.3 2 -0.6 2 -0.1 2 0.1 2 0.7 2 -0.2 2 -0.1 2 0.4 2 0.1 2 -0.3 2 -0.9 2 -0.7 2 -0.1 2 0.6 2 0.5 2 -0.4 2 -0.2 2 0.1 2 0.7 2 0.0 2 -0.9 2 -0.3 2 0.4 2 0.5 2 -0.3 2 0.4 2 -0.0 2 -0.2 2 -1.1 2 -0.4 2 -0.3 2 0.4 2 0.3 2 -0.0 2 0.3 2 -0.2 2 -0.2 2 -0.4 2 -0.0 2 0.1 2 0.2 2 0.2 2 0.2 2 -0.0 2 -0.1 2 -0.8 2 -0.6 2 -0.4 2 0.2 2 0.3 2 0.3 2 -0.5 2 -0.5 2 -0.6 2 0.9 2 0.4 2 0.1 2 -0.7 2 0.3 2 0.1 2 0.2 2 -0.8 2 0.2 2 0.3 2 0.6 2 -0.0 2 -0.2 2 -0.4 2 -0.2 2 0.2 2 -0.1 2 -0.3 2 -0.3 2 0.2 2 0.3 2 0.1 2 0.2 2 -0.6 2 -0.4 2 0.0 2 0.4 2 -0.6 2 -0.2 2 0.5 2 -0.0 2 -0.4 2 -0.3 2 -0.3 2 -0.3 2 0.2 2 -0.0 2 -0.2 2 -0.1 2 0.2 2 0.1 2 0.4 2 -0.1 2 -0.5 2 -0.7 2 0.0 2 0.8 2 0.7 2 -0.2 2 -0.3 2 -0.5 2 0.2 2 -0.2 2 0.3 2 -0.1 2 -0.0 2 -0.3 2 -0.5 2 -0.1 2 0.2 2 1.5 2 0.4 2 -0.6 2 -1.5 2 -0.1 2 -0.3 2 -0.2 2 -0.2 2 0.2 2 0.4 2 0.4 2 0.1 2 -0.8 2 -0.7 2 -0.3 2 0.2 2 0.6 2 0.4 2 -0.1 2 -0.4 2 -0.1 2 -0.4 2 -0.1 2 0.4 2 0.8 2 -0.2 2 -0.7 2 -0.0 2 0.7 2 -0.3 2 -0.8 2 -0.4 2 0.7 2 -0.1 2 -0.1 2 -0.3 2 0.7 2 0.1 2 -0.2 2 -0.8 2 0.1 2 0.3 2 -0.3 2 -0.4 2 -0.5 2 -0.1 2 -0.4 2 -0.1 2 -0.0 2 0.1 2 0.4 2 0.5 2 0.2 2 -0.6 2 -0.1 2 -0.4 2 -0.5 2 -0.1 2 0.9 2 0.7 2 -0.3 2 -0.7 2 -0.5 2 0.2 2 0.2 2 -0.2 2 -0.6 2 -0.2 2 0.4 2 0.6 2 -0.1 2 -0.7 2 -0.3 2 0.5 2 0.0 2 -0.1 2 -0.7 2 -0.2 2 0.2 2 0.9 2 0.0 2 -0.5 2 -0.0 2 0.3 2 -0.1 2 -0.1 2 0.2 2 0.4 2 0.1 2 -0.3 2 -0.5 2 -0.2 2 -0.2 2 -0.4 2 0.3 2 0.1 2 0.3 2 0.0 2 0.3 2 -0.2 2 0.1 2 0.3 2 -0.2 2 -0.4 2 -0.4 2 0.6 2 0.5 2 -0.3 2 -0.8 2 -0.4 2 0.2 2 0.2 2 0.8 2 -0.3 2 -0.2 2 -0.3 2 0.2 2 -0.5 2 -0.2 2 0.1 2 0.3 2 -0.2 2 0.1 2 -0.1 2 0.6 2 -0.1 2 0.3 2 -0.2 2 0.1 2 -0.3 2 -0.5 2 -0.2 2 0.3 2 0.8 2 -0.6 2 -0.6 2 -0.1 2 0.3 2 -0.2 2 0.4 2 0.9 2 -0.3 2 -0.4 2 0.1 2 0.4 2 -0.3 2 -0.3 2 -0.5 2 -0.4 2 0.1 2 0.4 2 0.6 2 -0.2 2 -0.9 2 -0.8 2 0.3 2 0.8 2 0.1 2 -0.3 2 0.2 2 -0.0 2 0.2 2 -0.4 2 -0.3 2 0.1 2 -0.4 2 -0.3 2 -0.1 2 0.7 2 0.3 2 -0.1 2 -0.1 2 0.3 2 0.2 2 -0.2 2 -0.9 2 -0.2 2 0.2 2 0.6 2 0.2 2 -0.4 2 -0.1 2 -0.4 2 -0.1 2 -0.2 2 0.2 2 0.1 2 -0.0 2 -0.1 2 0.4 2 0.6 2 0.4 2 -0.5 2 -0.1 2 -0.0 2 0.3 2 0.4 2 -0.2 2 -0.5 2 -0.6 2 -0.9 2 -0.8 2 0.2 2 1.2 2 0.3 2 0.2 2 0.3 2 0.0 2 -0.1 2 0.3 2 0.2 2 -0.8 2 -0.2 2 0.0 2 -0.0 2 -0.4 2 -0.1 2 0.3 2 0.3 2 0.4 2 -0.1 2 -0.5 2 -0.5 2 0.1 2 0.2 2 0.7 2 -0.0 2 -0.3 2 -0.5 2 0.4 2 0.1 2 -0.5 2 -0.1 2 0.3 2 0.3 2 -0.2 2 -0.2 2 0.1 2 0.3 2 -1.0 2 -0.8 2 -0.2 2 0.8 2 0.3 2 0.5 2 0.3 2 -0.1 2 -0.3 2 0.3 2 0.0 2 -0.2 2 0.0 2 0.4 2 -0.8 2 -0.5 2 0.0 2 0.4 2 0.2 2 0.3 2 -0.1 2 -0.1 2 0.1 2 0.0 2 -0.2 2 -0.0 2 -0.1 2 -0.3 2 -0.1 2 -0.1 2 -0.3 2 0.3 2 0.4 2 0.2 2 -0.4 2 0.0 2 0.0 2 0.0 2 -0.2 2 0.2 2 -0.1 2 0.3 2 -0.6 2 -0.4 2 0.1 2 0.7 2 -0.0 2 -0.2 2 -0.2 2 0.1 2 -0.6 2 -0.1 2 -0.0 2 0.7 2 0.5 2 -0.0 2 0.1 2 -0.2 2 -0.5 2 -1.2 2 0.5 2 0.9 2 0.3 2 -0.7 2 -0.3 2 0.5 2 0.4 2 0.6 2 -0.3 2 -0.8 2 -0.5 2 0.2 2 0.5 2 0.2 2 0.2 2 0.2 2 -0.3 2 -0.2 2 -0.3 2 -0.1 2 0.4 2 0.3 2 0.1 2 -0.3 2 -0.1 2 -0.1 2 -0.0 2 -0.1 2 0.1 2 -0.4 2 -0.1 2 0.0 2 0.1 2 -0.3 2 -0.2 2 0.4 2 0.0 2 0.1 2 0.3 2 0.4 2 -0.7 2 -0.6 2 0.1 2 -0.0 0 31.0 27.8 -5.9"/>
<path stroke="#1a9ad4" d="M221.3 1088.9l2 0.2 2 0.0 2 0.1 2 -0.4 2 -0.4 2 -0.2 2 0.1 2 0.3 2 0.2 2 -0.1 2 -0.2 2 0.0 2 -0.3 2 -0.2 0.9 3.7 0.3 -6.4 0.3 0.9 0.4 -0.5 2 -0.1 2 0.2 2 0.1 2 -0.2 2 0.2 2 0.3 2 -0.3 2 -0.4 2 -0.2 2 0.8 2 0.1 2 -0.0 2 -0.5 2 0.1 2 0.0 2 0.4 2 0.2 2 0.1 2 -0.1 2 -0.3 2 0.0 2 0.1 2 0.4 2 -0.7 2 -0.2 2 -0.0 2 0.0 2 0.3 2 0.3 2 -0.1 2 -0.7 2 0.1 2 0.4 2 0.1 2 -0.0 2 0.1 2 -0.5 2 -0.8 2 -0.6 2 0.3 2 0.6 2 0.5 2 -0.4 2 -0.7 2 0.1 2 0.2 2 -0.1 2 -0.2 2 -0.4 2 -0.0 2 0.2 2 0.5 2 -0.5 2 -0.5 2 -0.4 2 0.3 2 0.2 2 0.1 2 0.4 2 0.4 2 -0.3 2 -0.9 2 0.0 2 0.3 2 0.3 2 0.1 2 -0.1 2 -0.7 2 -0.5 2 -0.1 2 -0.3 2 -0.2 2 0.4 2 0.2 2 -0.1 2 -0.4 2 -0.3 2 0.3 2 -0.3 2 -0.2 2 -0.2 2 0.3 2 0.1 2 0.3 2 0.1 2 -0.4 2 -0.6 2 0.2 2 0.0 2 0.2 2 0.2 2 0.1 2 0.1 2 -0.2 2 -0.6 2 -0.5 2 0.0 2 -0.1 2 0.0 2 0.1 2 0.3 2 -0.7 2 -0.2 2 -0.0 2 0.1 2 -0.1 2 -0.7 2 0.2 2 -0.1 2 -0.3 2 -0.8 2 0.1 2 0.7 2 0.1 2 0.1 2 -0.4 2 0.6 2 0.3 2 0.6 2 -0.8 2 -0.3 2 -0.7 2 0.2 2 0.1 2 -0.3 2 -0.8 2 -0.5 2 -0.1 2 -0.0 2 0.0 2 -0.1 2 0.1 2 0.5 2 -0.0 2 -0.4 2 -0.2 2 0.3 2 -0.2 2 0.1 2 0.3 2 0.3 2 -0.4 2 0.1 2 0.4 2 -0.2 2 -0.9 2 -0.2 2 -0.1 2 -0.1 2 -0.3 2 -0.1 2 -0.3 2 -0.5 2 -0.2 2 -0.5 2 0.8 2 0.8 2 0.7 2 -0.7 2 -0.3 2 -0.0 2 0.1 2 -0.1 2 -0.7 2 -0.4 2 -0.4 2 -0.3 2 -0.6 2 0.2 2 0.6 2 -0.1 2 0.0 2 0.3 2 0.1 2 -0.9 2 -0.5 2 0.3 2 0.0 2 -0.5 2 -0.3 2 -0.4 2 0.0 2 0.3 2 0.6 2 -0.0 2 -0.2 2 -0.0 2 -0.3 2 -0.5 2 -0.4 2 -0.1 2 0.5 2 0.5 2 0.1 2 -0.8 2 -0.8 2 -0.3 2 0.5 2 0.3 2 -0.2 2 -0.7 2 -0.0 2 0.1 2 0.0 2 -0.3 2 0.3 2 0.0 2 0.2 2 -0.1 2 -0.1 2 -0.4 2 -0.4 2 -0.4 2 -0.5 2 -0.3 2 0.2 2 0.1 2 0.3 2 0.0 2 -0.9 2 -0.5 2 -0.5 2 0.6 2 -0.2 2 0.3 2 0.3 2 -0.2 2 -0.4 2 -0.3 2 -0.2 2 -0.1 2 0.2 2 0.2 2 -0.5 2 0.7 2 0.3 2 -0.7 2 -1.3 2 -0.0 2 0.3 2 0.1 2 -0.3 2 0.1 2 -0.1 2 -0.3 2 -0.5 2 -0.0 2 0.5 2 0.4 2 -0.1 2 -0.4 2 -0.1 2 0.6 2 -0.1 2 -0.3 2 -0.4 2 -0.2 2 -0.3 2 -0.1 2 0.0 2 -0.1 2 0.2 2 0.4 2 -0.3 2 -0.4 2 0.3 2 -0.2 2 -0.4 2 -0.4 2 0.3 2 -0.0 2 -0.2 2 0.0 2 0.1 2 -0.2 2 -0.4 2 -0.4 2 -0.2 2 -0.2 2 -0.4 2 0.1 2 0.5 2 0.8 2 0.0 2 -0.9 2 -0.3 2 -0.4 2 -0.1 2 0.1 2 -0.0 2 -0.1 2 -0.3 2 0.1 2 -0.6 2 -0.1 2 -0.1 2 0.3 2 0.3 2 -0.3 2 -0.7 2 -0.4 2 -0.0 2 -0.3 2 0.0 2 0.3 2 -0.3 2 -0.4 2 0.2 2 0.1 2 -0.4 2 0.2 2 0.8 2 -0.3 2 -1.1 2 -0.3 2 0.2 2 0.1 2 -0.2 2 0.4 2 -0.6 2 -0.8 2 -0.5 2 1.0 2 0.7 2 -0.3 2 -0.4 2 0.3 2 0.3 2 -0.4 2 -0.2 2 0.4 2 0.1 2 -0.2 2 -0.4 2 -0.3 2 -0.5 2 -0.1 2 0.0 2 0.0 2 0.1 2 0.2 2 0.2 2 -0.7 2 -0.3 2 -0.3 2 0.0 2 -0.5 2 0.4 2 0.5 2 -0.1 2 -0.9 2 -0.3 2 0.1 2 0.6 2 -0.3 2 -0.7 2 -0.6 2 0.5 2 0.5 2 0.2 2 0.5 2 -0.1 2 -0.6 2 -1.1 2 -0.0 2 0.5 2 0.4 2 0.1 2 -0.2 2 0.3 2 -0.2 2 -0.5 2 -0.8 2 -0.5 2 -0.3 2 0.2 2 0.8 2 1.0 2 -0.1 2 -0.6 2 -0.9 2 0.1 2 0.3 2 0.0 2 -0.2 2 0.1 2 -0.4 2 -0.3 2 0.0 2 0.3 2 -0.4 2 0.4 2 0.6 2 0.5 2 -0.8 2 -0.9 2 -0.3 2 0.1 2 -0.3 2 -0.8 2 0.7 2 0.7 2 0.5 2 -0.6 2 -0.5 2 -0.4 2 0.0 2 -0.1 2 0.3 2 -0.2 2 -0.3 2 -0.1 2 0.2 2 0.2 2 -0.5 2 -0.7 2 -0.2 2 -0.1 2 0.7 2 -0.4 2 -0.4 2 -0.3 2 0.7 2 0.5 2 -0.5 2 -0.1 2 -0.3 2 -0.1 2 -0.4 2 0.2 2 0.3 2 0.1 2 0.1 2 0.0 2 -0.3 2 -0.7 2 -0.3 2 0.3 2 0.3 2 -0.4 2 0.1 2 0.3 2 0.4 2 -0.7 2 -0.4 2 -0.0 2 0.4 2 0.0 2 0.2 2 -0.3 2 0.3 2 -0.7 2 -0.5 2 -0.2 2 0.3 2 0.2 2 -0.3 2 0.2 2 -0.4 2 0.1 2 0.0 2 0.2 2 -0.1 2 0.5 2 0.2 2 -0.4 2 -0.5 2 0.3 2 0.5 2 0.2 2 -0.5 2 -0.3 2 -0.0 2 0.2 2 -0.4 2 -1.1 2 -0.5 2 0.6 2 0.5 2 -0.4 2 -0.3 2 0.7 2 0.6 2 -0.5 2 -0.5 2 -0.1 2 0.2 2 -0.3 2 0.3 2 0.8 2 0.1 2 -1.3 2 -0.7 2 0.1 2 0.6 2 -0.1 2 0.7 2 0.3 2 -0.6 2 -0.9 2 0.0 2 0.1 2 -0.1 2 0.3 2 0.2 2 -0.4 2 -0.4 2 0.1 2 0.2 2 0.2 2 0.2 2 -0.2 2 -0.4 2 0.4 2 0.8 2 -0.2 2 -0.5 2 -0.6 2 -0.6 2 -0.2 2 0.4 2 0.5 2 -0.2 2 -0.1 2 -0.3 2 0.0 2 0.2 2 0.1 2 -0.0 2 -0.7 2 -0.5 2 0.2 2 1.1 2 0.3 2 -0.6 2 -0.9 2 -0.1 2 0.4 2 -0.1 2 -0.2 2 0.1 2 0.5 2 -0.5 2 -0.2 2 -0.4 2 0.5 2 0.1 2 -0.1 2 -0.2 2 0.5 2 0.1 2 0.0 2 -0.4 2 -0.1 2 -0.2 2 -0.3 2 -0.2 2 -0.1 2 0.5 2 -0.6 2 -0.0 2 -0.2 2 -0.1 2 -0.2 2 -0.0 2 0.6 2 -0.0 2 -0.2 2 -0.5 2 0.4 2 0.4 2 0.3 2 -0.1 2 -0.4 2 -0.2 2 0.3 2 0.3 2 -0.2 2 -0.9 2 0.2 2 0.7 2 0.5 2 -0.6 2 -0.4 2 -0.4 2 -0.3 2 0.1 2 0.1 2 -0.4 2 -0.1 2 0.4 2 0.3 2 -0.0 2 -0.7 2 -0.1 2 0.1 2 0.2 2 -0.5 2 0.1 2 0.3 2 0.5 2 -0.1 2 0.3 2 -0.2 2 -0.4 2 -0.3 2 0.1 2 0.5 2 -0.0 2 -0.1 2 0.0 2 0.5 2 0.3 2 -0.0 2 -0.2 2 -0.1 2 -0.0 2 -0.0 2 -0.3 2 -0.3 2 0.5 2 0.2 2 -0.3 2 -0.8 2 -0.0 2 0.1 2 -0.2 2 -0.7 2 -0.1 2 0.1 2 0.4 2 0.1 2 0.7 2 0.5 2 0.1 2 -0.6 2 -0.9 2 -0.4 2 0.2 2 -0.2 2 0.0 2 0.2 2 0.7 2 -0.1 2 -0.1 2 -0.4 2 -0.1 2 -0.5 2 0.1 2 0.7 2 0.6 2 -0.1 2 -0.7 2 0.2 2 -0.1 2 0.3 2 -0.2 2 -0.1 2 -0.1 2 0.1 2 0.2 2 -0.2 2 -0.0 2 -0.2 2 -0.0 2 -0.0 2 0.0 2 -0.3 2 -0.4 2 -0.3 2 0.1 2 0.4 2 0.5 2 -0.2 2 -0.2 2 -0.8 2 -0.1 2 -0.1 2 0.0 2 -0.4 2 0.2 2 0.8 2 0.4 2 -0.3 2 0.5 2 0.2 2 -0.2 2 -0.2 2 0.4 2 0.0 2 -0.2 2 0.0 2 0.2 2 -0.2 2 -0.4 2 -0.0 2 0.1 2 0.2 2 -0.0 0 57.5 27.8 -11.0"/>
<path stroke="#ff7f4f" d="M221.3 1088.0l2 0.3 2 0.3 2 0.1 2 -0.0 2 0.2 2 -0.5 2 -0.2 2 0.4 2 0.7 2 0.3 2 -0.1 2 -0.1 2 0.0 2 -0.0 0.9 2.9 0.3 -7.4 0.3 1.1 0.4 0.4 2 0.6 2 0.3 2 -0.1 2 -0.2 2 -0.5 2 -0.4 2 0.0 2 0.3 2 -0.3 2 0.2 2 0.1 2 -0.3 2 -0.4 2 0.1 2 -0.0 2 -0.4 2 -0.3 2 -0.0 2 0.2 2 0.4 2 0.7 2 0.3 2 -0.1 2 -0.3 2 -0.0 2 -0.4 2 -0.3 2 -0.2 2 -0.0 2 -0.4 2 -0.3 2 -0.1 2 -0.3 2 0.1 2 0.2 2 0.2 2 -0.1 2 0.2 2 -0.2 2 -0.3 2 -0.7 2 -0.7 2 -0.6 2 0.8 2 0.3 2 0.3 2 0.1 2 0.4 2 0.0 2 0.2 2 0.3 2 0.0 2 -0.3 2 -0.7 2 -0.7 2 -0.3 2 -0.3 2 -0.7 2 0.6 2 0.4 2 -0.0 2 -0.9 2 0.0 2 -0.1 2 -0.1 2 -0.5 2 -0.5 2 -0.2 2 0.3 2 0.9 2 0.5 2 0.2 2 -0.5 2 -0.6 2 -1.0 2 -0.4 2 -0.6 2 -0.1 2 0.5 2 0.7 2 0.1 2 -0.6 2 -0.7 2 -0.7 2 -0.1 2 0.5 2 0.6 2 -0.2 2 -0.8 2 -0.7 2 -0.0 2 -0.4 2 -0.2 2 0.1 2 0.3 2 -0.5 2 -0.4 2 -0.7 2 0.2 2 -0.2 2 0.0 2 -0.5 2 -0.1 2 -0.4 2 -0.6 2 0.4 2 0.5 2 0.2 2 -0.1 2 -0.1 2 -0.3 2 -0.7 2 0.1 2 -0.1 2 -0.2 2 -0.6 2 -0.3 2 0.1 2 -0.6 2 -0.6 2 -0.5 2 0.2 2 -0.7 2 -0.0 2 -0.1 2 0.1 2 -0.5 2 -0.5 2 -0.4 2 -0.5 2 -0.1 2 -0.1 2 0.3 2 0.1 2 -0.2 2 0.3 2 0.1 2 -0.7 2 -1.1 2 -0.5 2 0.1 2 -0.2 2 -0.3 2 0.3 2 0.2 2 -0.2 2 -0.8 2 -0.3 2 0.2 2 0.1 2 0.1 2 -1.4 2 -0.6 2 0.1 2 1.2 2 -0.2 2 -1.1 2 -0.8 2 -0.2 2 -0.3 2 -0.7 2 0.3 2 0.7 2 0.2 2 -0.8 2 -0.0 2 -0.4 2 -0.3 2 -1.2 2 0.3 2 0.2 2 0.3 2 -0.5 2 -0.4 2 -0.4 2 -0.7 2 -0.1 2 0.2 2 0.2 2 -0.6 2 -0.3 2 0.3 2 0.0 2 -0.4 2 -0.8 2 -0.8 2 -0.5 2 0.0 2 0.2 2 -0.1 2 -0.0 2 0.0 2 -0.2 2 -0.2 2 -0.2 2 -0.3 2 -0.3 2 -0.7 2 -0.1 2 -0.4 2 0.3 2 -0.4 2 0.4 2 -0.3 2 -0.6 2 -0.3 2 0.0 2 0.0 2 -0.5 2 0.0 2 0.1 2 -0.2 2 -0.9 2 -0.7 2 -0.1 2 0.8 2 0.2 2 -0.4 2 -0.4 2 -0.2 2 -0.3 2 -0.5 2 -0.6 2 -0.1 2 0.1 2 0.1 2 -0.8 2 -0.3 2 0.4 2 0.1 2 -0.7 2 -0.5 2 -0.3 2 -0.7 2 -0.5 2 0.2 2 0.3 2 -0.2 2 0.1 2 -0.1 2 -0.2 2 -0.4 2 0.1 2 0.3 2 0.2 2 -0.2 2 -1.3 2 -1.0 2 -0.2 2 0.8 2 -0.3 2 0.1 2 0.1 2 -0.0 2 -0.6 2 -0.3 2 -0.2 2 -0.1 2 -0.1 2 -0.4 2 -0.6 2 -0.0 2 -0.0 2 0.3 2 -0.2 2 0.4 2 -0.0 2 -0.2 2 -0.8 2 0.0 2 0.1 2 -0.6 2 -0.5 2 0.6 2 -0.1 2 -0.3 2 -0.5 2 0.2 2 -0.4 2 -0.3 2 0.2 2 0.2 2 -0.4 2 -0.1 2 -0.4 2 0.0 2 -0.3 2 0.5 2 -0.1 2 0.0 2 -0.4 2 -0.1 2 -0.2 2 0.4 2 -0.4 2 -0.2 2 -0.4 2 0.0 2 -0.6 2 -0.2 2 -0.5 2 -0.5 2 -0.1 2 0.0 2 0.4 2 -0.1 2 0.2 2 -0.4 2 0.0 2 -0.2 2 -0.3 2 -0.3 2 0.3 2 0.4 2 0.3 2 -0.3 2 -0.6 2 -1.0 2 -0.2 2 0.4 2 0.2 2 -0.2 2 0.1 2 0.1 2 -0.2 2 -0.3 2 -0.7 2 -0.7 2 -0.2 2 0.5 2 -0.1 2 -0.2 2 -0.5 2 0.1 2 0.1 2 0.4 2 0.2 2 -0.1 2 -0.4 2 -0.3 2 -0.1 2 0.2 2 -0.7 2 -0.5 2 -0.2 2 0.9 2 -0.3 2 -0.3 2 -0.0 2 0.1 2 -0.8 2 -0.6 2 -0.2 2 0.5 2 -0.1 2 0.6 2 0.0 2 -0.2 2 -0.8 2 -0.4 2 0.2 2 0.6 2 0.2 2 -0.1 2 -0.6 2 -0.1 2 0.4 2 -0.0 2 -0.2 2 -0.2 2 -0.2 2 -1.1 2 -0.6 2 0.7 2 0.4 2 0.0 2 -0.1 2 0.1 2 -0.0 2 -0.4 2 0.1 2 -0.2 2 0.3 2 -0.3 2 -0.3 2 -0.4 2 0.3 2 -0.4 2 -0.4 2 -0.4 2 0.1 2 0.1 2 0.2 2 0.1 2 -0.3 2 0.6 2 0.0 2 -0.5 2 -1.0 2 -0.3 2 0.3 2 0.3 2 0.4 2 0.0 2 -0.1 2 -0.3 2 -0.1 2 -0.1 2 0.1 2 0.2 2 -0.3 2 -0.9 2 -0.6 2 0.2 2 -0.2 2 -0.2 2 0.2 2 0.5 2 -0.3 2 0.2 2 0.7 2 0.1 2 -0.3 2 0.0 2 -0.3 2 0.1 2 -0.3 2 -0.2 2 -1.0 2 0.1 2 -0.2 2 0.1 2 0.3 2 0.4 2 -0.2 2 0.0 2 -0.2 2 0.0 2 -0.4 2 0.1 2 -0.3 2 0.0 2 -0.1 2 -0.3 2 -0.3 2 0.1 2 0.2 2 -0.3 2 -0.5 2 -0.2 2 0.2 2 0.2 2 0.2 2 -0.2 2 -0.2 2 -0.4 2 -0.8 2 -0.2 2 0.1 2 0.3 2 -0.3 2 0.5 2 0.0 2 0.2 2 -0.2 2 -0.1 2 -0.6 2 0.2 2 0.6 2 0.6 2 0.3 2 0.0 2 -0.3 2 -0.6 2 -0.1 2 -0.2 2 -0.3 2 0.4 2 -0.2 2 -0.1 2 -0.3 2 0.5 2 -0.4 2 -0.3 2 -0.1 2 -0.1 2 -0.1 2 0.1 2 0.1 2 0.1 2 -0.1 2 0.1 2 -0.3 2 0.3 2 -0.1 2 0.1 2 -0.4 2 -0.4 2 -0.3 2 0.3 2 0.5 2 0.5 2 -0.2 2 -0.4 2 -0.7 2 -0.7 2 -0.4 2 0.3 2 0.2 2 -0.4 2 0.3 2 0.4 2 -0.1 2 0.4 2 0.6 2 0.1 2 -0.5 2 -0.2 2 0.3 2 -0.4 2 -0.5 2 -0.5 2 0.3 2 0.6 2 -0.2 2 -0.3 2 -0.3 2 0.6 2 0.5 2 0.0 2 0.3 2 -0.3 2 -0.3 2 -0.3 2 0.1 2 -0.3 2 -0.4 2 -0.1 2 -0.3 2 -0.1 2 -0.2 2 0.3 2 -0.1 2 0.8 2 0.6 2 0.7 2 -0.7 2 -0.8 2 -0.0 2 0.2 2 0.2 2 -0.5 2 0.1 2 -0.2 2 0.0 2 -0.7 2 -0.2 2 0.2 2 0.4 2 -0.1 2 0.0 2 0.2 2 0.3 2 -0.8 2 -0.2 2 0.0 2 0.2 2 -0.7 2 0.1 2 0.3 2 -0.0 2 -0.1 2 0.3 2 0.2 2 -0.4 2 0.0 2 0.2 2 0.4 2 -0.8 2 -0.4 2 0.2 2 0.3 2 0.1 2 -0.3 2 0.4 2 -0.3 2 0.6 2 -0.3 2 -0.4 2 -0.5 2 0.2 2 0.5 2 0.2 2 -0.3 2 -0.2 2 0.0 2 0.2 2 -0.5 2 -0.5 2 0.2 2 0.6 2 0.0 2 -0.7 2 0.0 2 0.0 2 0.1 2 -0.4 2 -0.2 2 -0.1 2 0.3 2 0.8 2 0.7 2 0.0 2 -0.4 2 -0.2 2 -0.1 2 -0.7 2 0.1 2 0.2 2 0.0 2 -0.5 2 0.0 2 -0.2 2 0.2 2 0.5 2 0.1 2 -0.7 2 -0.4 2 -0.2 2 0.0 2 0.4 2 1.2 2 0.3 2 -0.8 2 -0.6 2 -0.6 2 -0.2 2 0.3 2 1.0 2 -0.3 2 -1.1 2 -0.0 2 0.6 2 0.2 2 -0.2 2 -0.1 2 -0.5 2 -0.0 2 0.2 2 0.1 2 -0.6 2 0.2 2 0.2 2 0.4 2 -0.0 2 0.4 2 -0.2 2 -0.3 2 -0.9 2 -0.3 2 0.4 2 1.5 2 0.1 2 -0.9 2 -0.7 2 0.6 2 0.1 2 -0.2 2 -0.5 2 -0.1 2 0.3 2 1.0 2 0.1 2 -0.5 2 -0.3 2 0.4 2 0.2 2 -0.4 2 -0.3 2 0.2 2 0.0 2 -0.6 2 -0.2 2 0.4 2 0.6 2 -0.1 2 -0.4 2 -0.5 2 -0.3 2 -0.2 2 -0.0 2 0.2 2 0.5 2 -0.1 2 -0.1 2 -0.4 2 0.7 2 0.2 2 -0.0 0 89.9 27.8 -16.2"/>
<path stroke="#ffc86c" d="M221.3 1088.6l2 0.1 2 0.1 2 -0.1 2 0.1 2 0.4 2 0.5 2 -0.0 2 -0.0 2 -0.5 2 -0.7 2 -0.1 2 0.1 2 0.4 2 -0.1 0.9 4.0 0.3 -8.5 0.3 1.2 0.4 -0.2 2 -0.3 2 0.2 2 0.7 2 0.2 2 -0.2 2 0.1 2 -0.1 2 -0.4 2 -0.7 2 0.4 2 0.3 2 0.0 2 -0.9 2 -0.3 2 0.5 2 0.4 2 -0.2 2 -0.2 2 -0.2 2 -0.1 2 0.0 2 0.1 2 -0.4 2 -0.2 2 0.2 2 0.0 2 -0.1 2 0.0 2 -0.3 2 -0.4 2 -0.0 2 0.5 2 0.5 2 -0.5 2 -0.3 2 -0.1 2 0.1 2 -0.4 2 -0.1 2 0.4 2 -0.5 2 -0.5 2 -0.5 2 -0.0 2 -0.0 2 0.2 2 -0.4 2 -0.7 2 -0.3 2 -0.3 2 -0.0 2 -0.1 2 0.1 2 -0.3 2 0.3 2 -0.1 2 -0.6 2 -0.3 2 -0.2 2 -0.5 2 -1.1 2 0.1 2 0.2 2 0.2 2 -0.5 2 -0.4 2 -0.6 2 -0.6 2 -0.1 2 0.1 2 0.3 2 -0.5 2 -0.7 2 -1.0 2 0.2 2 -0.3 2 -0.1 2 -0.1 2 0.0 2 -0.5 2 -1.2 2 -0.7 2 -0.8 2 0.1 2 -0.1 2 -0.1 2 -0.2 2 -0.1 2 -0.4 2 -0.8 2 -0.9 2 -0.4 2 0.4 2 0.0 2 -0.5 2 -1.0 2 -0.1 2 -0.3 2 -0.3 2 -1.1 2 -0.8 2 0.1 2 0.2 2 -0.2 2 -0.8 2 -0.9 2 -0.6 2 0.0 2 -0.1 2 -0.7 2 -0.4 2 -0.4 2 -0.3 2 -0.5 2 -0.9 2 -0.7 2 -0.3 2 -0.0 2 -0.3 2 -0.3 2 -0.1 2 -0.1 2 -0.2 2 -1.0 2 -1.0 2 -0.1 2 0.1 2 -0.5 2 -0.7 2 -0.1 2 -0.1 2 -0.2 2 -0.7 2 -0.7 2 -0.6 2 -0.2 2 -0.9 2 -0.6 2 -0.6 2 0.4 2 0.3 2 0.4 2 -0.5 2 -1.0 2 -0.7 2 -0.5 2 -0.2 2 -0.8 2 -0.6 2 -0.4 2 0.4 2 -0.1 2 -0.0 2 0.1 2 -0.7 2 -1.3 2 -1.2 2 -0.1 2 -0.4 2 -0.1 2 -0.0 2 0.1 2 -0.3 2 -0.7 2 -0.6 2 -0.4 2 -0.2 2 -0.3 2 -0.3 2 -0.8 2 -0.3 2 0.2 2 0.2 2 -1.1 2 -0.6 2 -0.2 2 -0.9 2 -1.0 2 0.2 2 0.7 2 0.1 2 -0.2 2 -0.4 2 -1.2 2 -1.0 2 -0.2 2 0.5 2 -0.2 2 -0.7 2 -0.3 2 -0.4 2 -0.9 2 -0.5 2 0.4 2 0.2 2 -0.9 2 -0.5 2 -0.3 2 0.4 2 -0.1 2 0.1 2 -0.2 2 -0.3 2 -0.2 2 0.0 2 0.0 2 -0.2 2 -0.7 2 -0.3 2 -0.4 2 -0.4 2 -0.6 2 -0.4 2 -0.2 2 -0.2 2 0.2 2 -0.1 2 -0.4 2 -0.9 2 -0.3 2 0.2 2 0.5 2 -0.2 2 -0.7 2 -0.8 2 -0.4 2 -0.4 2 -0.4 2 0.1 2 0.1 2 0.4 2 -0.6 2 -0.1 2 -0.8 2 0.1 2 -0.5 2 0.0 2 -0.2 2 -0.1 2 -0.1 2 0.3 2 -0.2 2 -0.3 2 -0.5 2 -0.1 2 0.1 2 -0.6 2 -0.8 2 -1.1 2 0.2 2 0.1 2 1.3 2 0.3 2 0.0 2 -0.7 2 -0.4 2 -0.7 2 -0.0 2 0.1 2 -0.4 2 -0.5 2 -0.6 2 -0.6 2 -0.2 2 0.5 2 -0.2 2 -0.5 2 -0.3 2 0.1 2 0.1 2 -0.0 2 -0.1 2 -0.7 2 -0.6 2 -0.1 2 -0.1 2 0.0 2 -0.3 2 -0.0 2 -0.1 2 -0.0 2 -0.3 2 -0.5 2 0.1 2 0.9 2 -0.3 2 -0.6 2 -0.8 2 0.7 2 -0.1 2 -0.9 2 -0.2 2 -0.0 2 0.3 2 -0.8 2 -0.3 2 -0.2 2 0.5 2 0.5 2 -0.2 2 -0.4 2 -0.4 2 -0.0 2 -0.2 2 0.1 2 -0.3 2 -0.3 2 -0.2 2 0.1 2 -0.3 2 0.2 2 -0.1 2 0.1 2 -0.4 2 0.3 2 -0.8 2 0.1 2 -0.1 2 -0.1 2 -0.7 2 0.7 2 0.5 2 -0.6 2 -1.0 2 0.2 2 -0.0 2 -0.3 2 -0.4 2 0.8 2 0.1 2 0.1 2 -0.7 2 -0.4 2 -0.2 2 0.4 2 -0.4 2 -0.4 2 0.1 2 0.2 2 -0.3 2 -0.1 2 -0.1 2 -0.4 2 -0.4 2 -0.1 2 -0.3 2 -0.0 2 -0.3 2 0.1 2 0.0 2 0.0 2 0.0 2 0.6 2 0.6 2 -0.8 2 -0.5 2 -0.2 2 0.2 2 -0.6 2 -0.2 2 0.3 2 0.3 2 -0.3 2 -0.7 2 -0.4 2 0.2 2 0.7 2 -0.2 2 -0.5 2 -0.6 2 -0.0 2 -0.0 2 0.3 2 -0.3 2 -0.7 2 0.1 2 0.6 2 0.2 2 -0.5 2 -0.4 2 -0.1 2 -0.0 2 -0.4 2 -0.3 2 0.4 2 0.0 2 0.0 2 0.0 2 -0.1 2 -0.5 2 -0.2 2 0.3 2 0.2 2 -0.4 2 -0.8 2 0.0 2 0.5 2 0.3 2 -0.2 2 0.3 2 -0.4 2 -0.1 2 -0.5 2 0.3 2 0.1 2 -0.2 2 -0.4 2 -0.4 2 0.2 2 -0.2 2 -0.3 2 -0.4 2 0.1 2 0.6 2 0.0 2 -0.8 2 0.2 2 0.7 2 0.3 2 -1.0 2 -0.6 2 -0.1 2 0.0 2 0.4 2 0.1 2 0.2 2 -0.8 2 -0.5 2 -0.4 2 0.3 2 0.2 2 0.0 2 -0.1 2 0.1 2 0.4 2 -0.1 2 -0.5 2 -0.5 2 0.5 2 0.2 2 -0.2 2 -0.5 2 0.2 2 0.1 2 -0.2 2 -0.3 2 0.2 2 0.5 2 0.3 2 -0.1 2 -0.4 2 -0.5 2 -0.0 2 -0.2 2 -0.2 2 -0.7 2 -0.0 2 -0.1 2 0.1 2 0.2 2 0.1 2 0.0 2 -0.2 2 -0.0 2 0.4 2 0.1 2 0.0 2 -0.7 2 -0.2 2 -0.1 2 0.2 2 -0.1 2 0.0 2 0.5 2 0.2 2 -0.3 2 -0.6 2 0.6 2 0.7 2 0.1 2 -0.6 2 -0.7 2 -0.4 2 -0.1 2 0.2 2 -0.2 2 -0.4 2 0.1 2 0.4 2 -0.4 2 -0.4 2 0.4 2 0.4 2 -0.2 2 -0.7 2 0.2 2 -0.2 2 -0.2 2 -0.4 2 1.0 2 0.4 2 -0.6 2 -0.6 2 0.3 2 0.7 2 -0.4 2 -0.8 2 -0.6 2 0.5 2 0.5 2 0.3 2 -0.5 2 -0.6 2 -0.3 2 0.6 2 0.4 2 -0.2 2 -0.6 2 0.0 2 0.5 2 1.0 2 -0.2 2 -0.1 2 -0.9 2 -0.4 2 -0.6 2 0.1 2 -0.1 2 -0.0 2 0.1 2 0.1 2 0.2 2 0.0 2 0.0 2 0.2 2 0.2 2 -0.1 2 -0.4 2 -0.1 2 0.1 2 -0.2 2 0.1 2 0.4 2 0.5 2 -0.5 2 -1.0 2 -0.6 2 0.2 2 0.7 2 0.1 2 -0.2 2 0.1 2 -0.0 2 0.1 2 -0.0 2 -0.2 2 -0.4 2 -0.3 2 -0.0 2 -0.6 2 -0.4 2 0.4 2 0.5 2 0.4 2 -0.4 2 -0.1 2 -0.1 2 -0.2 2 -0.5 2 0.1 2 0.6 2 0.1 2 -0.3 2 0.2 2 0.8 2 -0.1 2 -0.3 2 0.2 2 0.4 2 0.0 2 -1.2 2 -0.0 2 -0.1 2 0.0 2 -0.4 2 0.5 2 0.8 2 0.1 2 -0.3 2 -0.7 2 -0.5 2 -0.0 2 0.3 2 0.0 2 -0.1 2 0.1 2 0.3 2 0.5 2 0.5 2 -0.4 2 -1.1 2 -0.9 2 -0.1 2 0.3 2 0.2 2 -0.1 2 -0.2 2 0.5 2 0.3 2 -0.2 2 0.0 2 0.3 2 0.1 2 -0.0 2 -0.4 2 -0.3 2 -0.3 2 0.4 2 0.3 2 -0.2 2 -0.1 2 -0.3 2 0.3 2 -0.1 2 -0.0 2 -0.7 2 -0.2 2 0.3 2 0.1 2 0.1 2 -0.3 2 -0.0 2 -0.0 2 -0.1 2 -0.1 2 -0.2 2 -0.3 2 -0.4 2 0.4 2 0.9 2 0.1 2 0.3 2 0.3 2 0.4 2 -0.1 2 -0.3 2 -0.5 2 -0.3 2 0.2 2 0.2 2 -0.3 2 -0.7 2 -0.0 2 0.3 2 0.0 2 -0.3 2 0.2 2 0.4 2 0.1 2 0.1 2 -0.4 2 -0.5 2 0.0 2 0.7 2 0.5 2 -0.6 2 -0.6 2 -0.0 2 0.9 2 0.5 2 -0.4 2 -0.7 2 -0.7 2 0.4 2 -0.1 2 0.4 2 0.2 2 0.4 2 -1.0 2 -0.7 2 0.2 2 0.3 2 -0.1 2 -0.1 2 0.6 2 0.2 2 0.0 2 -0.4 2 -0.2 2 -0.1 2 0.3 2 0.0 2 0.2 2 -0.6 2 0.1 2 -0.1 2 0.6 2 -0.2 2 -0.0 0 123.9 27.8 -20.7"/>
<path stroke="#b668b8" d="M221.3 1088.8l2 0.5 2 -0.1 2 -0.4 2 -0.4 2 0.2 2 -0.4 2 -0.2 2 0.0 2 0.2 2 -0.1 2 -0.3 2 0.5 2 0.4 2 0.3 0.9 4.3 0.3 -9.6 0.3 1.4 0.4 0.4 2 -0.6 2 -0.5 2 -0.1 2 0.2 2 -0.1 2 0.2 2 -0.0 2 0.2 2 0.5 2 0.2 2 -0.6 2 -0.5 2 -0.4 2 0.0 2 -0.6 2 -0.1 2 0.2 2 0.2 2 -0.3 2 -0.7 2 -0.1 2 0.4 2 -0.2 2 -0.7 2 -0.4 2 -0.2 2 -0.2 2 0.0 2 0.3 2 -0.4 2 -0.8 2 -0.5 2 -0.3 2 -0.0 2 0.4 2 0.2 2 -0.5 2 -1.0 2 -0.4 2 -0.5 2 -0.5 2 -0.5 2 -0.2 2 -0.6 2 -0.2 2 -0.4 2 -0.6 2 -0.6 2 0.1 2 -0.5 2 -0.1 2 -0.3 2 -0.3 2 -0.9 2 -0.6 2 -0.7 2 -0.1 2 -0.1 2 -0.4 2 -0.6 2 -0.7 2 -0.5 2 -0.7 2 -0.7 2 -0.6 2 -0.8 2 -0.4 2 -0.8 2 -0.2 2 -0.3 2 -0.1 2 -0.9 2 -1.1 2 -0.8 2 -0.8 2 -1.0 2 -0.5 2 -0.1 2 -0.8 2 -0.9 2 -0.5 2 -0.1 2 -0.9 2 -0.6 2 -0.8 2 -0.4 2 -0.3 2 -0.8 2 -1.1 2 -0.8 2 -0.0 2 -0.9 2 -0.9 2 -1.0 2 -0.5 2 -0.3 2 -0.4 2 -1.0 2 -0.9 2 -0.4 2 -0.3 2 -0.5 2 -0.6 2 -1.0 2 -1.4 2 -0.6 2 0.4 2 -0.2 2 -1.2 2 -0.8 2 0.1 2 -0.2 2 -0.4 2 -0.8 2 -0.8 2 -0.8 2 -0.7 2 -0.4 2 -0.4 2 -0.2 2 -1.0 2 -0.6 2 -1.0 2 -0.5 2 -1.4 2 -0.8 2 -0.3 2 0.2 2 -0.3 2 -1.1 2 -0.2 2 -0.1 2 -0.2 2 -0.9 2 -0.5 2 -0.1 2 -0.5 2 -1.1 2 -1.1 2 -0.1 2 0.2 2 -0.6 2 -0.7 2 -0.5 2 -0.2 2 -1.0 2 -0.9 2 -0.4 2 0.0 2 -0.2 2 -0.1 2 -0.3 2 -0.7 2 -1.1 2 -0.6 2 -0.5 2 -0.6 2 -0.9 2 -0.1 2 0.2 2 0.3 2 -0.6 2 -0.4 2 -0.5 2 -0.2 2 -0.8 2 -0.4 2 -0.6 2 -0.2 2 0.1 2 0.1 2 -0.2 2 -1.0 2 -0.4 2 -0.7 2 -0.2 2 -0.7 2 -0.7 2 -0.4 2 -0.4 2 -0.5 2 -0.2 2 0.0 2 -0.5 2 -0.8 2 -0.2 2 -0.1 2 -0.0 2 -0.4 2 0.2 2 -0.3 2 -1.0 2 -0.9 2 -0.0 2 0.2 2 -0.8 2 -0.2 2 -0.1 2 0.0 2 -1.0 2 -0.3 2 -0.1 2 0.4 2 -0.4 2 -0.8 2 -0.7 2 -0.3 2 0.1 2 -0.5 2 -0.2 2 -0.4 2 -0.0 2 -0.4 2 -0.5 2 -0.3 2 -0.2 2 -0.1 2 -0.3 2 -0.7 2 -0.5 2 0.4 2 0.5 2 -0.2 2 -0.5 2 -0.5 2 -0.8 2 -0.2 2 0.3 2 0.3 2 -0.4 2 -0.4 2 -0.4 2 -0.3 2 -0.3 2 -0.2 2 -0.5 2 -0.5 2 -0.1 2 0.0 2 -0.8 2 -0.5 2 -0.5 2 0.7 2 0.3 2 0.4 2 -0.9 2 -0.8 2 -0.5 2 0.0 2 -0.1 2 -0.2 2 0.0 2 0.2 2 -0.5 2 -1.1 2 -0.5 2 0.1 2 0.4 2 0.3 2 0.5 2 -0.2 2 -0.5 2 -0.1 2 -0.2 2 -0.5 2 -0.4 2 -0.2 2 -0.5 2 -0.6 2 -0.2 2 -0.2 2 0.2 2 -0.1 2 0.3 2 0.1 2 -0.4 2 -0.5 2 -0.4 2 0.4 2 -0.2 2 -0.2 2 -0.4 2 -0.4 2 -0.2 2 -0.2 2 -0.1 2 -0.2 2 -0.5 2 -0.1 2 -0.4 2 0.1 2 -0.0 2 0.3 2 -0.4 2 0.4 2 -0.1 2 -0.3 2 -1.1 2 0.2 2 -0.1 2 0.1 2 -0.6 2 -0.1 2 -0.4 2 0.3 2 -0.2 2 -0.4 2 -0.3 2 -0.3 2 -0.3 2 -0.0 2 -0.2 2 0.1 2 -0.2 2 0.0 2 -0.3 2 0.2 2 -0.0 2 -0.3 2 -0.1 2 0.3 2 -0.1 2 -0.6 2 -0.6 2 -0.3 2 0.3 2 0.4 2 0.1 2 0.0 2 -0.3 2 -0.4 2 -0.6 2 0.4 2 -0.4 2 -0.3 2 -0.3 2 0.4 2 0.4 2 0.3 2 -0.0 2 -1.0 2 -0.4 2 -0.3 2 0.1 2 -0.2 2 -0.1 2 -0.0 2 0.3 2 0.4 2 -0.3 2 -1.1 2 -0.3 2 0.4 2 0.3 2 -0.6 2 -0.2 2 -0.2 2 0.1 2 -0.4 2 -0.3 2 -0.3 2 -0.1 2 0.0 2 0.2 2 -0.0 2 -0.0 2 -0.2 2 0.3 2 -0.2 2 -0.1 2 -0.4 2 -0.6 2 -0.3 2 -0.1 2 0.8 2 0.5 2 -0.3 2 -0.5 2 -0.1 2 0.1 2 -0.2 2 0.1 2 -0.1 2 -0.4 2 -0.2 2 -0.2 2 -0.1 2 -0.0 2 -0.0 2 -0.4 2 0.0 2 0.4 2 0.3 2 -0.4 2 -0.2 2 0.0 2 0.2 2 0.1 2 -0.3 2 -0.4 2 -0.5 2 -0.1 2 0.4 2 0.6 2 -0.4 2 -0.7 2 -0.3 2 0.6 2 -0.0 2 -0.1 2 -0.3 2 0.0 2 -0.0 2 -0.2 2 -0.2 2 0.1 2 -0.2 2 -0.2 2 -0.1 2 0.1 2 0.1 2 -0.3 2 -0.2 2 -0.4 2 0.4 2 0.0 2 0.1 2 -0.1 2 -0.3 2 -0.1 2 -0.2 2 0.2 2 -0.2 2 0.3 2 0.3 2 0.4 2 -0.1 2 -0.5 2 -0.7 2 0.1 2 0.6 2 0.2 2 -0.5 2 -0.5 2 -0.0 2 0.1 2 -0.3 2 -0.8 2 -0.4 2 0.6 2 0.8 2 -0.5 2 -0.5 2 -0.4 2 0.8 2 0.3 2 -0.0 2 -0.5 2 -0.1 2 0.3 2 -0.1 2 -0.2 2 -0.1 2 -0.2 2 0.4 2 0.0 2 -0.1 2 -0.9 2 0.3 2 0.9 2 0.1 2 -0.3 2 -0.1 2 0.1 2 -0.5 2 -0.1 2 0.4 2 0.2 2 -0.6 2 -0.0 2 0.5 2 0.0 2 -0.8 2 -0.4 2 0.2 2 0.2 2 0.3 2 -0.2 2 -0.4 2 0.1 2 0.2 2 0.6 2 -0.3 2 -0.1 2 -0.5 2 -0.1 2 0.0 2 0.2 2 -0.2 2 -0.5 2 0.2 2 -0.0 2 0.2 2 0.1 2 0.1 2 -0.1 2 0.4 2 0.2 2 -0.4 2 -0.0 2 0.3 2 -0.3 2 -0.8 2 -0.4 2 0.1 2 -0.4 2 0.2 2 0.3 2 0.3 2 0.1 2 -0.1 2 -0.2 2 -0.3 2 0.0 2 -0.1 2 0.1 2 0.1 2 0.3 2 -0.3 2 -0.2 2 -0.7 2 -0.0 2 -0.2 2 0.6 2 0.4 2 0.2 2 0.1 2 0.3 2 -0.0 2 -0.7 2 -0.9 2 -0.3 2 0.2 2 0.1 2 -0.1 2 -0.3 2 0.4 2 0.0 2 -0.0 2 -0.2 2 -0.0 2 0.2 2 0.3 2 0.3 2 -0.6 2 -0.5 2 -0.4 2 0.5 2 0.4 2 0.1 2 -0.7 2 0.1 2 0.7 2 -0.0 2 -0.6 2 -0.8 2 0.4 2 0.4 2 1.0 2 -0.0 2 -0.4 2 -0.8 2 0.2 2 -0.2 2 0.1 2 0.0 2 0.2 2 -0.5 2 0.1 2 0.7 2 0.2 2 -0.4 2 0.0 2 0.0 2 -0.4 2 -0.7 2 0.0 2 0.1 2 0.2 2 -0.2 2 -0.4 2 -0.3 2 -0.1 2 0.6 2 0.3 2 -0.1 2 -0.0 2 0.4 2 -0.0 2 -0.5 2 0.0 2 0.4 2 -0.1 2 -0.2 2 -0.0 2 0.5 2 -0.2 2 0.0 2 -0.0 2 -0.1 2 -0.1 2 0.3 2 -0.1 2 0.0 2 -0.3 2 -0.2 2 -0.6 2 0.5 2 0.5 2 0.0 2 0.1 2 0.1 2 0.3 2 0.4 2 0.1 2 -1.3 2 -1.1 2 -0.2 2 0.6 2 0.2 2 -0.1 2 -0.5 2 -0.1 2 0.3 2 -0.4 2 0.1 2 0.4 2 0.6 2 -0.2 2 -0.3 2 -0.1 2 0.3 2 0.6 2 0.1 2 -0.4 2 -0.6 2 0.2 2 0.4 2 0.0 2 -1.0 2 -0.5 2 -0.3 2 0.8 2 0.5 2 0.2 2 -0.5 2 0.7 2 0.8 2 -0.4 2 -1.0 2 -0.6 2 -0.2 2 0.0 2 1.1 2 1.0 2 -0.1 2 -0.9 2 -0.4 2 0.3 2 -0.2 2 -0.8 2 0.2 2 0.8 2 0.8 2 -0.3 2 0.2 2 -0.5 2 -0.1 2 0.1 2 0.5 2 -0.3 2 -0.3 2 -0.3 2 -0.4 2 -0.2 2 0.7 2 0.7 2 -0.5 2 -0.3 2 0.1 2 0.2 2 -1.0 2 -0.1 2 0.7 2 0.8 2 -0.8 2 -0.8 2 -0.1 2 -0.0 0 159.1 27.8 -24.5"/>
<path stroke="#9aca6e" d="M221.3 1089.2l2 0.1 2 -0.4 2 -0.2 2 -0.2 2 -0.1 2 -0.3 2 0.2 2 0.1 2 0.4 2 0.2 2 -0.1 2 0.1 2 -0.3 2 -0.0 0.9 5.2 0.3 -10.6 0.3 1.6 0.4 0.5 2 0.4 2 -0.7 2 -0.4 2 0.2 2 1.0 2 -0.9 2 -0.9 2 -0.3 2 0.4 2 0.4 2 -0.1 2 0.1 2 -0.2 2 -0.4 2 -1.0 2 -0.4 2 0.2 2 0.3 2 -0.1 2 -0.2 2 -0.9 2 -1.3 2 -0.8 2 0.4 2 0.4 2 -0.7 2 -0.5 2 0.3 2 -0.1 2 -1.0 2 -1.3 2 -0.0 2 -0.1 2 -0.4 2 -0.8 2 -0.3 2 -1.1 2 -0.9 2 -0.6 2 -0.3 2 -0.7 2 -1.1 2 -1.0 2 -1.1 2 -0.5 2 -0.8 2 -0.7 2 -1.2 2 -0.8 2 -1.0 2 -0.6 2 -0.8 2 -0.8 2 -0.9 2 -1.5 2 -0.7 2 -0.7 2 -0.6 2 -1.4 2 -0.5 2 -0.9 2 -0.7 2 -0.8 2 -0.2 2 -0.7 2 -1.1 2 -1.8 2 -1.1 2 -0.6 2 -0.4 2 -1.1 2 -1.2 2 -1.4 2 -0.9 2 -0.5 2 -1.1 2 -1.2 2 -1.0 2 -0.5 2 -1.0 2 -0.7 2 -0.8 2 -0.8 2 -1.6 2 -1.2 2 -0.9 2 -0.9 2 -1.0 2 -1.1 2 -0.5 2 -0.4 2 -0.6 2 -1.1 2 -1.1 2 -0.6 2 -1.5 2 -1.0 2 -0.8 2 -0.3 2 -0.9 2 -0.6 2 -0.8 2 -0.7 2 -0.7 2 -0.8 2 -0.8 2 -1.0 2 -0.8 2 -1.2 2 -0.7 2 -0.5 2 -0.6 2 -0.9 2 -0.9 2 -1.0 2 -1.0 2 -0.4 2 -0.5 2 -1.4 2 -1.1 2 -0.6 2 0.2 2 -0.5 2 -0.7 2 -1.3 2 -0.6 2 -0.7 2 -0.8 2 -0.8 2 -0.6 2 -0.1 2 -0.7 2 -0.6 2 -1.1 2 -0.7 2 -0.2 2 -0.7 2 -0.2 2 -1.1 2 -0.2 2 -0.2 2 -0.6 2 -1.3 2 -0.7 2 0.3 2 -0.4 2 -1.0 2 -0.8 2 -0.4 2 -0.0 2 -0.2 2 -0.7 2 -0.5 2 0.2 2 -0.6 2 -1.0 2 -1.1 2 -0.6 2 -0.7 2 -0.5 2 -0.8 2 -1.0 2 -0.5 2 0.2 2 0.5 2 -0.3 2 -0.7 2 -0.5 2 -0.0 2 -0.4 2 -0.7 2 -0.1 2 -0.3 2 -0.7 2 -1.3 2 -0.3 2 -0.2 2 0.5 2 -0.4 2 -0.3 2 -0.5 2 0.2 2 -0.9 2 -0.5 2 -0.5 2 -0.2 2 -0.9 2 -0.5 2 -0.4 2 -0.9 2 -0.3 2 0.0 2 -0.0 2 -0.6 2 0.3 2 0.2 2 -0.6 2 -0.5 2 -0.4 2 -0.5 2 -0.8 2 -0.2 2 -0.0 2 0.1 2 -0.4 2 -0.6 2 -0.4 2 -0.2 2 -0.3 2 -0.5 2 -0.4 2 -0.3 2 -0.3 2 -0.1 2 -0.2 2 -0.3 2 -0.6 2 -0.3 2 -0.0 2 -0.0 2 -0.2 2 -0.5 2 0.0 2 0.2 2 -0.0 2 -0.4 2 -0.3 2 -0.4 2 -0.5 2 0.4 2 0.3 2 -0.1 2 -1.0 2 -0.5 2 0.2 2 0.1 2 -0.3 2 -0.4 2 -0.1 2 -0.1 2 -0.4 2 -0.4 2 -0.8 2 0.3 2 0.0 2 -0.2 2 -0.5 2 -0.3 2 -0.4 2 -0.7 2 -0.1 2 -0.2 2 0.1 2 -0.1 2 -0.3 2 -0.4 2 -0.2 2 -0.1 2 0.1 2 0.2 2 -0.0 2 -0.8 2 -0.3 2 -0.4 2 0.0 2 -0.2 2 -0.0 2 -0.5 2 -0.4 2 0.5 2 0.2 2 -0.2 2 -0.4 2 0.1 2 0.1 2 -0.7 2 -0.8 2 0.4 2 0.5 2 -0.2 2 -1.0 2 0.2 2 -0.3 2 -0.3 2 -0.3 2 0.3 2 -0.1 2 -0.3 2 -0.6 2 -0.9 2 0.1 2 -0.0 2 0.2 2 0.1 2 0.3 2 -0.1 2 -0.5 2 0.1 2 -0.2 2 -0.3 2 -0.0 2 -0.0 2 -0.5 2 -0.7 2 0.2 2 0.0 2 0.0 2 0.1 2 0.7 2 -0.4 2 -0.4 2 -1.0 2 -0.3 2 -0.2 2 0.5 2 0.0 2 -0.2 2 -0.4 2 -0.3 2 0.0 2 0.3 2 0.2 2 0.1 2 0.1 2 -0.7 2 -0.8 2 -0.4 2 0.2 2 0.3 2 0.3 2 0.0 2 -0.4 2 0.0 2 -0.1 2 -0.4 2 -0.2 2 0.2 2 0.3 2 -0.2 2 -0.1 2 -0.6 2 -0.6 2 -0.3 2 -0.6 2 0.0 2 0.4 2 0.7 2 -0.3 2 -0.1 2 -0.0 2 0.1 2 0.3 2 0.2 2 -0.2 2 -0.5 2 -0.3 2 -0.3 2 -0.2 2 0.1 2 -0.5 2 -0.4 2 -0.1 2 0.2 2 -0.2 2 -0.4 2 0.2 2 0.3 2 0.5 2 -0.0 2 -0.6 2 -0.5 2 0.0 2 0.5 2 -0.6 2 -0.4 2 -0.7 2 0.5 2 0.2 2 0.5 2 -0.0 2 -0.1 2 -0.4 2 -0.3 2 0.2 2 0.1 2 -0.3 2 -0.7 2 0.1 2 -0.0 2 -0.1 2 -0.5 2 -0.1 2 0.0 2 0.4 2 0.5 2 0.3 2 0.0 2 -0.5 2 -0.5 2 0.1 2 0.8 2 -0.5 2 -1.1 2 -0.5 2 0.4 2 -0.0 2 -0.1 2 -0.1 2 -0.5 2 -0.3 2 0.4 2 0.7 2 0.2 2 -0.0 2 -0.4 2 -0.5 2 -0.6 2 -0.2 2 0.5 2 0.7 2 0.6 2 -0.2 2 -0.9 2 -0.5 2 0.5 2 0.1 2 -0.9 2 -0.3 2 0.6 2 0.1 2 -0.3 2 -0.4 2 -0.1 2 -0.3 2 0.2 2 0.3 2 0.1 2 -0.8 2 0.3 2 0.2 2 0.4 2 -0.7 2 0.2 2 -0.3 2 0.1 2 -0.1 2 0.5 2 -0.3 2 -0.3 2 -0.3 2 0.8 2 -0.1 2 -0.2 2 -0.6 2 0.3 2 0.1 2 0.2 2 -0.1 2 -0.1 2 -0.2 2 -0.2 2 -0.5 2 -0.1 2 -0.1 2 0.3 2 0.3 2 0.3 2 0.1 2 0.1 2 -0.7 2 -0.4 2 -0.1 2 0.5 2 -0.5 2 0.0 2 0.4 2 0.6 2 -0.2 2 -0.3 2 -0.0 2 0.5 2 0.2 2 -0.3 2 -0.6 2 -0.3 2 -0.0 2 -0.2 2 0.1 2 -0.2 2 -0.2 2 -0.2 2 0.1 2 0.0 2 -0.6 2 0.2 2 0.3 2 0.4 2 -0.1 2 0.1 2 -0.2 2 0.3 2 0.0 2 0.2 2 0.0 2 -0.0 2 -0.5 2 -0.7 2 0.3 2 0.0 2 -0.2 2 -0.0 2 0.5 2 -0.0 2 -0.2 2 -0.0 2 0.8 2 0.3 2 -0.3 2 -1.0 2 -0.7 2 0.1 2 0.1 2 0.4 2 0.0 2 -0.5 2 -0.6 2 0.4 2 0.8 2 0.1 2 -0.5 2 -0.4 2 0.0 2 -0.4 2 0.1 2 0.0 2 0.3 2 -0.8 2 -0.0 2 0.5 2 0.1 2 -0.0 2 0.1 2 0.3 2 -0.9 2 0.1 2 0.5 2 0.5 2 -0.4 2 -0.4 2 -0.0 2 -0.1 2 0.3 2 -0.5 2 -0.2 2 -0.6 2 0.7 2 -0.0 2 -0.2 2 -0.1 2 0.6 2 0.8 2 0.4 2 0.0 2 -0.5 2 -1.0 2 -0.6 2 -0.2 2 0.4 2 -0.1 2 -0.3 2 -0.2 2 0.6 2 0.5 2 0.1 2 -0.4 2 -0.1 2 -0.1 2 -0.1 2 -0.5 2 0.2 2 0.5 2 0.5 2 -0.1 2 -0.2 2 0.4 2 0.1 2 -0.6 2 -1.0 2 0.1 2 0.7 2 0.5 2 -0.0 2 -0.2 2 -0.7 2 -0.6 2 -0.5 2 0.2 2 -0.1 2 0.4 2 0.2 2 -0.2 2 -0.0 2 0.5 2 0.1 2 -0.4 2 0.1 2 0.3 2 0.1 2 -0.1 2 0.3 2 -0.1 2 -0.2 2 -0.2 2 0.2 2 0.1 2 -0.3 2 -0.5 2 -0.2 2 -0.0 2 0.2 2 0.2 2 0.1 2 -0.1 2 -0.0 2 0.4 2 0.4 2 -0.2 2 -0.5 2 -0.3 2 0.0 2 -0.2 2 -0.1 2 -0.4 2 -0.7 2 0.1 2 0.9 2 0.5 2 -0.1 2 -0.3 2 0.2 2 -0.3 2 -0.1 2 -0.1 2 -0.4 2 -0.1 2 0.2 2 -0.1 2 -0.1 2 0.3 2 0.6 2 -0.1 2 -0.1 2 -0.4 2 -0.3 2 0.0 2 0.8 2 0.8 2 -0.1 2 -0.9 2 -0.4 2 0.3 2 -0.1 2 -0.5 2 0.3 2 0.7 2 -0.2 2 -1.2 2 -0.5 2 0.5 2 0.7 2 0.1 2 -0.6 2 -0.2 2 0.4 2 0.4 2 -0.3 2 -0.1 2 0.1 2 -0.2 2 -0.2 2 -0.2 2 0.4 2 0.3 2 0.0 2 -0.3 2 0.3 2 -0.2 2 -0.4 2 0.3 2 0.3 2 -0.3 2 -0.7 2 0.3 2 -0.5 2 -0.3 2 -0.1 2 0.8 2 0.5 2 -0.0 0 192.9 27.8 -27.9"/>
<path stroke="#5ad3f5" d="M221.3 1088.8l2 0.3 2 0.1 2 0.0 2 -0.6 2 -0.4 2 0.7 2 1.1 2 0.2 2 -0.8 2 -0.3 2 -0.3 2 0.2 2 -0.2 2 -0.1 0.9 5.5 0.3 -11.7 0.3 1.7 0.4 0.5 2 -0.4 2 -0.3 2 -0.8 2 0.1 2 -0.1 2 0.3 2 0.1 2 -0.3 2 -0.2 2 -0.5 2 -0.2 2 -0.5 2 0.1 2 -0.4 2 -0.0 2 -0.5 2 -0.3 2 -0.4 2 -0.3 2 -1.1 2 -1.0 2 -1.2 2 -0.4 2 -0.7 2 -0.4 2 -0.9 2 -0.7 2 0.0 2 -0.8 2 -0.5 2 -0.9 2 -1.1 2 -1.9 2 -1.1 2 -0.7 2 -0.9 2 -1.5 2 -1.4 2 -1.4 2 -1.3 2 -1.3 2 -1.2 2 -0.4 2 -0.2 2 -1.2 2 -1.8 2 -1.5 2 -0.9 2 -1.2 2 -1.6 2 -1.8 2 -1.1 2 -0.3 2 -1.2 2 -2.5 2 -1.9 2 -0.9 2 -0.8 2 -1.2 2 -1.2 2 -1.8 2 -2.3 2 -1.4 2 -1.1 2 -0.8 2 -1.5 2 -1.2 2 -1.7 2 -1.2 2 -1.2 2 -0.8 2 -0.7 2 -1.2 2 -1.8 2 -1.2 2 -0.9 2 -1.0 2 -1.6 2 -1.0 2 -1.1 2 -1.2 2 -1.4 2 -1.7 2 -1.7 2 -1.4 2 -0.9 2 -1.0 2 -1.1 2 -1.1 2 -1.3 2 -1.7 2 -1.0 2 -0.6 2 -0.9 2 -1.3 2 -1.0 2 -0.8 2 -1.7 2 -1.6 2 -1.2 2 -0.0 2 -0.7 2 -1.2 2 -1.7 2 -1.0 2 -0.7 2 -1.1 2 -1.8 2 -0.9 2 -0.0 2 -0.4 2 -0.9 2 -0.5 2 -1.3 2 -1.5 2 -0.7 2 -0.4 2 -1.0 2 -0.8 2 -0.6 2 -1.2 2 -1.3 2 -1.0 2 -0.4 2 -0.9 2 -0.3 2 -1.1 2 -0.5 2 -1.3 2 -0.5 2 -0.4 2 0.1 2 -0.3 2 -1.0 2 -1.1 2 -0.9 2 -0.5 2 -0.8 2 -0.5 2 -0.6 2 -0.3 2 -0.7 2 -0.6 2 -1.1 2 -1.0 2 -1.1 2 -0.5 2 -0.4 2 0.0 2 -0.7 2 0.2 2 -0.4 2 -0.2 2 -1.0 2 -1.2 2 -1.3 2 -0.2 2 -0.3 2 -0.6 2 -0.9 2 -0.1 2 -0.6 2 -0.7 2 -0.5 2 -0.5 2 -0.2 2 -0.3 2 0.8 2 0.1 2 -0.8 2 -1.4 2 -0.8 2 -0.6 2 0.1 2 -0.0 2 -0.4 2 -0.8 2 0.1 2 -0.8 2 -0.5 2 -0.7 2 0.1 2 -0.9 2 -0.9 2 -0.5 2 0.1 2 -0.3 2 -0.7 2 -0.2 2 0.4 2 -0.2 2 -0.8 2 -0.8 2 0.5 2 0.3 2 -0.3 2 -0.8 2 0.3 2 0.1 2 -1.1 2 -1.2 2 -0.6 2 -0.0 2 -0.6 2 -0.4 2 -0.4 2 0.1 2 -0.0 2 -0.4 2 -1.0 2 -0.4 2 0.4 2 0.4 2 -0.2 2 -1.4 2 -0.8 2 -0.2 2 0.5 2 -0.4 2 -0.2 2 -0.3 2 0.8 2 0.4 2 -0.3 2 -1.1 2 -0.4 2 -0.1 2 -0.3 2 -0.2 2 0.0 2 0.2 2 -0.1 2 -0.2 2 -0.3 2 -0.7 2 -1.1 2 -0.5 2 0.1 2 0.4 2 0.3 2 -0.3 2 -0.7 2 -0.3 2 0.4 2 -0.1 2 -0.4 2 -0.1 2 0.1 2 -0.4 2 -1.1 2 -0.1 2 0.3 2 0.4 2 -0.7 2 -0.7 2 -0.3 2 0.0 2 0.5 2 -0.4 2 0.1 2 -0.2 2 0.4 2 -0.7 2 -0.3 2 -0.0 2 0.2 2 -0.7 2 -0.7 2 0.1 2 -0.0 2 -0.6 2 -0.2 2 0.1 2 0.3 2 -0.4 2 -0.5 2 -0.6 2 0.7 2 0.3 2 -0.1 2 -0.4 2 -0.1 2 0.1 2 0.0 2 0.2 2 -0.9 2 -0.8 2 -1.0 2 0.2 2 0.5 2 0.8 2 0.4 2 -0.1 2 -0.5 2 -0.4 2 0.4 2 -0.2 2 -0.3 2 -0.5 2 -0.1 2 -0.1 2 -0.2 2 -0.5 2 -0.2 2 0.3 2 0.0 2 -0.3 2 0.0 2 -0.1 2 0.1 2 -0.0 2 0.4 2 0.1 2 -0.0 2 -0.6 2 -0.5 2 -0.5 2 0.7 2 0.1 2 -0.1 2 -0.4 2 -0.3 2 -0.7 2 -0.5 2 0.0 2 -0.3 2 -0.2 2 0.6 2 0.6 2 0.0 2 -0.5 2 -0.7 2 -0.1 2 0.2 2 0.0 2 -0.4 2 -0.1 2 0.0 2 -0.4 2 -0.3 2 -0.2 2 0.3 2 0.3 2 0.2 2 -0.3 2 -0.3 2 0.4 2 -0.3 2 0.0 2 -0.3 2 0.4 2 -0.6 2 -0.3 2 -0.4 2 -0.4 2 -0.1 2 -0.1 2 0.4 2 0.5 2 -0.5 2 -1.1 2 -0.1 2 1.1 2 0.4 2 -0.0 2 0.1 2 0.2 2 0.3 2 -0.2 2 -0.2 2 -0.9 2 -0.3 2 -0.5 2 0.6 2 0.8 2 0.5 2 -1.0 2 -0.9 2 -0.1 2 0.4 2 0.3 2 0.3 2 -0.8 2 -0.3 2 -0.1 2 0.3 2 -0.1 2 0.2 2 -0.4 2 -0.9 2 0.0 2 0.7 2 0.8 2 -0.1 2 -0.6 2 -0.1 2 0.0 2 0.3 2 -0.3 2 0.0 2 -0.5 2 -0.1 2 -0.2 2 -0.2 2 -0.2 2 -0.1 2 0.2 2 0.1 2 0.0 2 -0.2 2 -0.1 2 0.5 2 0.2 2 -0.3 2 -0.7 2 0.2 2 0.1 2 -0.1 2 -0.3 2 0.0 2 0.1 2 0.2 2 -0.5 2 -0.6 2 -0.8 2 0.5 2 0.8 2 1.0 2 -0.2 2 -0.1 2 -0.3 2 -0.2 2 -0.8 2 -0.4 2 -0.1 2 0.6 2 0.7 2 0.1 2 -0.4 2 -0.3 2 -0.1 2 -0.7 2 -0.4 2 -0.1 2 0.3 2 0.2 2 0.3 2 -0.0 2 0.1 2 -0.2 2 0.1 2 -0.5 2 -0.0 2 -0.0 2 0.2 2 -0.6 2 -0.0 2 0.2 2 0.5 2 0.1 2 0.1 2 -0.3 2 0.0 2 0.1 2 -0.3 2 -0.4 2 0.1 2 0.3 2 -0.1 2 -0.2 2 -0.2 2 -0.3 2 -0.5 2 0.2 2 0.3 2 0.2 2 -0.7 2 0.0 2 -0.2 2 1.1 2 -0.0 2 -0.4 2 -0.6 2 0.7 2 -0.3 2 -0.5 2 0.1 2 0.3 2 -0.1 2 -0.2 2 -0.1 2 -0.4 2 0.0 2 -0.2 2 0.6 2 0.3 2 -0.1 2 -0.4 2 0.2 2 0.4 2 -0.2 2 -0.1 2 -0.3 2 0.1 2 -0.2 2 -0.1 2 0.4 2 -0.0 2 -0.4 2 -0.6 2 0.3 2 0.3 2 0.3 2 -0.5 2 -0.3 2 -0.2 2 0.2 2 -0.1 2 -0.5 2 -0.1 2 0.2 2 0.1 2 -0.3 2 0.5 2 0.4 2 -0.0 2 -0.4 2 -0.2 2 -0.5 2 -0.1 2 0.6 2 0.6 2 -0.2 2 -0.2 2 -0.1 2 -0.1 2 -0.2 2 -0.1 2 -0.4 2 0.1 2 -0.0 2 0.3 2 -0.6 2 0.3 2 -0.1 2 0.2 2 -0.6 2 -0.2 2 0.3 2 0.3 2 -0.1 2 0.3 2 0.1 2 -0.1 2 -0.5 2 0.1 2 0.2 2 1.0 2 0.3 2 -0.2 2 -0.4 2 -0.4 2 -0.1 2 -0.4 2 -0.1 2 -0.0 2 0.3 2 0.4 2 -0.6 2 -0.3 2 -0.4 2 0.2 2 -0.6 2 0.2 2 0.4 2 0.2 2 -0.7 2 -0.3 2 0.7 2 0.5 2 -0.0 2 -0.3 2 0.1 2 0.1 2 0.1 2 0.1 2 0.1 2 -0.5 2 -0.3 2 -0.2 2 0.3 2 -0.0 2 -0.1 2 -0.2 2 0.3 2 0.1 2 -0.4 2 -0.2 2 0.5 2 0.3 2 -0.3 2 -0.5 2 -0.1 2 0.3 2 0.5 2 0.0 2 -0.4 2 -0.7 2 -0.1 2 0.3 2 0.7 2 0.5 2 0.0 2 -0.2 2 -0.8 2 0.0 2 0.2 2 0.6 2 -0.1 2 -0.2 2 -0.0 2 -0.3 2 -0.2 2 -0.0 2 -0.0 2 -0.7 2 -0.2 2 0.4 2 0.4 2 0.1 2 -0.2 2 -0.2 2 0.2 2 0.2 2 -0.3 2 -0.6 2 0.2 2 0.7 2 0.0 2 -0.3 2 -0.1 2 0.2 2 -0.4 2 -0.5 2 -0.1 2 0.1 2 0.5 2 0.3 2 0.1 2 -0.1 2 -0.4 2 0.0 2 0.5 2 0.1 2 -0.1 2 0.0 2 0.1 2 -0.0 2 -0.6 2 -0.9 2 -0.3 2 0.8 2 0.1 2 0.1 2 0.4 2 -0.2 2 -0.7 2 0.1 2 0.9 2 -0.3 2 -0.5 2 -0.4 2 -0.0 2 -0.2 2 -0.2 2 0.2 2 0.5 2 0.7 2 0.2 2 -0.3 2 -0.1 2 0.0 2 -0.4 2 -0.4 2 0.0 2 0.2 2 -0.2 2 0.1 2 0.7 2 -0.0 2 -0.7 2 -0.3 2 0.3 2 -0.0 2 -0.1 2 0.2 2 0.2 2 -0.2 2 -0.0 0 229.2 27.8 -31.1"/>
<path stroke="#d84d68" d="M221.3 1090.0l2 0.1 2 -0.6 2 0.4 2 0.2 2 -0.6 2 -0.9 2 -0.2 2 0.0 2 -0.1 2 0.1 2 0.1 2 -0.2 2 0.1 2 0.1 0.9 6.2 0.3 -12.8 0.3 1.9 0.4 -0.3 2 0.2 2 0.4 2 -0.9 2 0.1 2 -0.3 2 -0.1 2 -0.4 2 0.2 2 -0.3 2 -1.1 2 -0.5 2 -0.2 2 0.3 2 -0.5 2 -0.8 2 -0.8 2 -0.9 2 -1.2 2 -0.6 2 -0.8 2 -0.8 2 -1.5 2 -0.7 2 -1.7 2 -1.4 2 -1.6 2 -1.4 2 -1.6 2 -1.8 2 -1.6 2 -1.8 2 -1.3 2 -1.6 2 -2.1 2 -2.2 2 -1.7 2 -1.7 2 -1.5 2 -1.5 2 -1.5 2 -2.4 2 -2.3 2 -1.8 2 -2.0 2 -1.9 2 -2.0 2 -1.7 2 -2.1 2 -2.2 2 -1.9 2 -2.2 2 -2.1 2 -1.6 2 -1.5 2 -2.3 2 -2.1 2 -1.6 2 -2.4 2 -2.4 2 -1.1 2 -0.7 2 -1.4 2 -2.0 2 -1.9 2 -2.4 2 -1.8 2 -1.4 2 -1.2 2 -1.8 2 -2.6 2 -2.1 2 -1.9 2 -1.0 2 -1.5 2 -1.3 2 -1.9 2 -1.0 2 -1.7 2 -1.5 2 -1.2 2 -0.9 2 -1.9 2 -2.0 2 -1.1 2 -0.9 2 -2.0 2 -1.8 2 -1.9 2 -0.5 2 -1.0 2 -1.0 2 -1.6 2 -1.0 2 -1.4 2 -1.1 2 -1.1 2 -1.5 2 -1.3 2 -0.3 2 -0.3 2 -1.3 2 -1.8 2 -1.2 2 -0.5 2 -0.5 2 -0.9 2 -1.6 2 -1.1 2 -1.0 2 -1.1 2 -1.8 2 -1.3 2 -0.4 2 -0.2 2 -0.7 2 -0.9 2 -1.0 2 -0.7 2 -0.6 2 -0.6 2 -0.8 2 -0.9 2 -1.0 2 -0.6 2 -0.8 2 -0.3 2 -0.7 2 -0.6 2 -1.3 2 -0.8 2 -0.7 2 -0.4 2 -0.7 2 -1.0 2 -0.7 2 -0.3 2 -0.1 2 -0.2 2 -0.6 2 -1.4 2 -1.1 2 -0.8 2 -0.5 2 -0.2 2 0.3 2 -0.4 2 -1.1 2 -0.7 2 -0.8 2 -0.3 2 -0.4 2 0.4 2 -0.7 2 -0.4 2 -1.0 2 -0.1 2 -0.8 2 -0.2 2 -0.7 2 -0.5 2 -0.7 2 -0.1 2 -0.0 2 0.0 2 -0.2 2 -1.3 2 -1.2 2 -1.0 2 0.1 2 0.0 2 -0.1 2 -0.8 2 -0.5 2 0.0 2 0.3 2 -0.1 2 -0.2 2 -0.3 2 -0.5 2 -0.7 2 -1.0 2 -0.2 2 0.1 2 0.4 2 -0.4 2 -0.9 2 -0.9 2 -0.7 2 -0.1 2 0.4 2 -0.5 2 -1.3 2 -0.3 2 0.2 2 0.1 2 -0.8 2 0.2 2 0.0 2 0.1 2 -0.3 2 -0.4 2 -0.2 2 0.0 2 0.1 2 -0.7 2 -1.1 2 -0.6 2 -0.1 2 -0.0 2 -0.3 2 -0.1 2 -0.1 2 -0.0 2 -0.4 2 -0.1 2 -0.6 2 0.0 2 -0.1 2 0.1 2 -0.5 2 -0.0 2 -0.1 2 -0.4 2 -0.6 2 -0.9 2 -0.4 2 -0.1 2 0.1 2 0.4 2 -0.4 2 -0.5 2 -0.4 2 0.7 2 0.1 2 -0.8 2 -0.9 2 -0.3 2 0.2 2 0.4 2 -0.1 2 -0.2 2 -0.5 2 -0.3 2 -0.3 2 -0.4 2 -0.2 2 -0.3 2 0.0 2 -0.5 2 -0.6 2 -0.1 2 0.4 2 -0.0 2 -0.5 2 -0.4 2 0.6 2 -0.2 2 0.3 2 -0.6 2 0.1 2 -0.6 2 -0.1 2 -0.0 2 0.3 2 -0.1 2 -0.7 2 0.1 2 0.6 2 0.1 2 -0.9 2 -0.5 2 -0.1 2 0.2 2 -0.4 2 -0.4 2 -0.6 2 0.4 2 0.5 2 0.1 2 -0.5 2 -0.2 2 -0.1 2 -0.7 2 -0.3 2 0.3 2 0.0 2 -0.1 2 -0.1 2 -0.7 2 -0.6 2 -0.0 2 0.8 2 -0.0 2 -0.3 2 -0.5 2 0.0 2 -0.5 2 -0.4 2 -0.1 2 0.6 2 0.7 2 -0.2 2 -1.1 2 -1.0 2 0.0 2 -0.0 2 0.1 2 0.4 2 -0.2 2 -0.8 2 -0.9 2 0.5 2 0.9 2 -0.0 2 -1.1 2 -0.4 2 0.8 2 0.7 2 -0.1 2 -0.3 2 -0.2 2 -0.3 2 0.2 2 0.0 2 -0.4 2 -0.8 2 -0.5 2 0.1 2 0.5 2 0.1 2 -0.0 2 0.4 2 0.4 2 -0.9 2 -1.0 2 -0.3 2 -0.1 2 -0.3 2 -0.1 2 0.3 2 0.4 2 -0.3 2 0.3 2 0.3 2 0.4 2 -0.8 2 -0.0 2 -0.2 2 0.4 2 -0.1 2 -0.3 2 -0.9 2 0.2 2 0.6 2 -0.1 2 -0.6 2 -0.3 2 -0.2 2 -0.3 2 -0.3 2 -0.0 2 0.1 2 -0.1 2 0.1 2 -0.0 2 0.3 2 0.0 2 0.2 2 -0.1 2 -0.2 2 -0.4 2 -0.2 2 -0.4 2 -0.2 2 0.0 2 0.3 2 0.0 2 -0.5 2 0.2 2 -0.1 2 0.2 2 -0.4 2 0.3 2 -0.2 2 -0.4 2 -0.9 2 -0.1 2 0.0 2 0.5 2 0.6 2 -0.3 2 -0.9 2 -0.3 2 1.0 2 0.5 2 -0.1 2 -0.3 2 0.0 2 0.3 2 0.1 2 -0.6 2 -0.8 2 -0.1 2 0.1 2 -0.1 2 -0.2 2 -0.0 2 0.2 2 0.1 2 -0.3 2 -0.5 2 0.1 2 0.9 2 0.4 2 0.2 2 -0.4 2 -0.8 2 -0.6 2 -0.2 2 0.1 2 -0.5 2 0.7 2 0.2 2 -0.2 2 -0.1 2 0.7 2 -0.4 2 -0.6 2 -0.2 2 0.3 2 0.2 2 0.0 2 -0.2 2 0.2 2 -0.2 2 -0.4 2 -0.2 2 0.2 2 -0.3 2 -0.5 2 0.3 2 0.1 2 0.5 2 0.3 2 0.2 2 -0.4 2 -0.3 2 0.0 2 -0.3 2 0.1 2 0.2 2 0.4 2 -0.6 2 -0.1 2 0.5 2 0.6 2 -0.8 2 -0.8 2 -0.1 2 0.4 2 -0.1 2 0.1 2 -0.2 2 0.0 2 -0.3 2 0.0 2 0.2 2 0.1 2 -0.0 2 -0.4 2 -0.1 2 -0.2 2 0.6 2 -0.0 2 0.2 2 -0.6 2 -0.1 2 0.0 2 0.7 2 -0.3 2 -0.8 2 0.0 2 0.1 2 0.3 2 -0.2 2 0.2 2 0.5 2 0.7 2 0.1 2 -1.1 2 -0.6 2 -0.1 2 0.3 2 0.2 2 -0.4 2 -0.2 2 -0.2 2 0.2 2 0.3 2 -0.2 2 -0.1 2 -0.4 2 -0.3 2 -0.6 2 -0.2 2 0.8 2 0.8 2 0.4 2 -0.2 2 -0.9 2 -0.3 2 -0.0 2 0.8 2 0.4 2 0.7 2 -0.1 2 -0.3 2 -0.9 2 -0.4 2 -0.5 2 0.4 2 -0.2 2 0.1 2 -0.4 2 0.1 2 0.2 2 0.1 2 0.1 2 -0.3 2 0.4 2 -0.0 2 0.3 2 0.3 2 -0.4 2 -1.0 2 -0.5 2 1.0 2 0.2 2 -0.0 2 -0.5 2 0.2 2 -0.3 2 0.2 2 -0.8 2 -0.6 2 0.4 2 1.2 2 0.1 2 -0.0 2 0.5 2 0.4 2 -0.7 2 -0.3 2 -0.1 2 -0.4 2 -0.2 2 -0.0 2 0.7 2 0.3 2 -0.1 2 -0.7 2 -0.3 2 0.4 2 0.1 2 -0.2 2 -0.0 2 0.3 2 0.3 2 -0.0 2 -0.5 2 -0.9 2 0.1 2 0.4 2 0.3 2 -0.3 2 -0.4 2 -0.1 2 -0.5 2 0.1 2 0.0 2 1.2 2 0.5 2 0.0 2 -0.5 2 0.1 2 -0.1 2 -0.3 2 -0.3 2 0.9 2 0.3 2 -0.7 2 -0.7 2 0.9 2 0.4 2 0.4 2 -0.3 2 0.2 2 -1.0 2 -0.2 2 -0.6 2 -0.2 2 -0.5 2 0.5 2 0.3 2 0.5 2 -0.1 2 0.1 2 -0.2 2 -0.1 2 0.0 2 -0.0 2 0.1 2 -0.2 2 -0.5 2 -0.3 2 0.3 2 0.8 2 0.8 2 0.1 2 -0.2 2 -0.3 2 0.1 2 -0.1 2 -0.0 2 -0.4 2 -0.1 2 0.4 2 -0.1 2 -0.3 2 -0.6 2 0.5 2 0.6 2 0.1 2 -1.2 2 -0.6 2 0.6 2 0.3 2 -0.5 2 -0.1 2 -0.2 2 0.0 2 0.4 2 0.7 2 -0.5 2 -0.5 2 -0.2 2 0.4 2 0.0 2 0.4 2 0.2 2 -0.4 2 -0.2 2 0.3 2 0.3 2 -0.5 2 -0.5 2 0.0 2 -0.5 2 -0.0 2 0.5 2 1.3 2 0.2 2 -0.8 2 -0.2 2 0.3 2 0.2 2 -0.1 2 -0.3 2 -0.0 2 -0.6 2 0.4 2 -0.3 2 0.1 2 -0.5 2 0.6 2 0.5 2 0.3 2 -0.1 2 -0.1 2 -0.1 2 -0.7 2 -1.0 2 -0.7 2 0.5 2 0.8 2 0.6 2 0.1 2 0.0 2 -0.3 2 -0.6 2 -0.5 2 0.6 2 1.0 2 0.1 2 -0.6 2 -0.0 2 0.9 2 0.2 2 -0.0 0 263.9 27.8 -33.6"/>
<path stroke="#1a9ad4" d="M221.3 1088.4l2 0.4 2 -0.2 2 -0.5 2 -0.2 2 0.4 2 0.7 2 0.5 2 0.1 2 -0.9 2 -0.1 2 0.3 2 0.1 2 -0.5 2 -0.2 0.9 7.2 0.3 -13.8 0.3 2.0 0.4 -0.6 2 0.4 2 0.7 2 0.1 2 -0.2 2 -0.6 2 -0.7 2 -0.2 2 0.1 2 -0.6 2 -0.9 2 -0.4 2 -0.3 2 -1.0 2 -1.4 2 -1.3 2 -0.7 2 -1.0 2 -1.9 2 -2.0 2 -2.0 2 -1.7 2 -1.9 2 -1.4 2 -2.0 2 -1.8 2 -1.7 2 -2.2 2 -3.1 2 -3.0 2 -2.3 2 -2.3 2 -2.8 2 -2.5 2 -2.5 2 -3.1 2 -3.1 2 -2.4 2 -1.7 2 -2.7 2 -3.2 2 -2.7 2 -2.5 2 -2.6 2 -2.8 2 -2.3 2 -2.7 2 -3.1 2 -2.6 2 -2.5 2 -2.5 2 -2.3 2 -1.9 2 -2.7 2 -3.3 2 -2.7 2 -2.3 2 -2.8 2 -2.1 2 -1.6 2 -1.7 2 -2.6 2 -2.4 2 -2.0 2 -2.3 2 -2.4 2 -2.3 2 -1.5 2 -1.7 2 -2.2 2 -2.4 2 -1.4 2 -1.5 2 -1.8 2 -2.3 2 -1.2 2 -1.6 2 -1.7 2 -2.3 2 -1.7 2 -1.1 2 -0.9 2 -1.8 2 -1.5 2 -1.4 2 -1.5 2 -1.9 2 -1.4 2 -1.3 2 -1.5 2 -1.1 2 -1.2 2 -1.6 2 -1.2 2 -1.0 2 -0.5 2 -1.0 2 -0.9 2 -1.4 2 -0.9 2 -1.2 2 -1.5 2 -1.3 2 -1.5 2 -1.1 2 -0.8 2 -0.2 2 -0.5 2 -0.6 2 -0.8 2 -1.4 2 -0.8 2 -0.9 2 -1.0 2 -0.9 2 -0.3 2 -0.1 2 -0.9 2 -1.7 2 -1.3 2 -0.1 2 -0.2 2 -0.6 2 -0.4 2 -0.8 2 -1.5 2 -1.5 2 -0.4 2 -0.1 2 -0.1 2 -1.1 2 -1.2 2 -1.1 2 -0.8 2 -0.8 2 -0.6 2 -0.2 2 0.1 2 0.1 2 -0.5 2 -0.9 2 -0.8 2 -0.3 2 -0.4 2 -0.6 2 -0.7 2 -0.6 2 -0.5 2 -0.7 2 -0.1 2 -0.7 2 -0.3 2 -0.9 2 0.2 2 -0.1 2 -0.4 2 -1.1 2 -1.0 2 -0.3 2 -0.1 2 0.6 2 -0.6 2 -0.5 2 -1.0 2 -0.1 2 -0.4 2 -0.0 2 -0.4 2 -0.7 2 -0.6 2 -0.4 2 0.0 2 -0.7 2 -0.8 2 -0.9 2 -0.3 2 -0.4 2 0.3 2 0.7 2 0.4 2 -1.0 2 -1.1 2 -0.9 2 0.0 2 0.2 2 0.2 2 -0.3 2 -0.7 2 -1.1 2 -1.3 2 -0.3 2 0.6 2 0.7 2 -0.3 2 -0.6 2 -0.5 2 0.1 2 -0.2 2 -0.8 2 -0.4 2 0.1 2 0.1 2 -0.9 2 -0.5 2 -0.7 2 -0.6 2 -0.3 2 0.3 2 0.4 2 0.3 2 -0.1 2 -0.0 2 -0.6 2 -0.2 2 -1.0 2 -0.2 2 -0.4 2 0.0 2 -0.1 2 -0.6 2 -0.4 2 -0.4 2 0.2 2 -0.1 2 -0.1 2 -0.4 2 -0.6 2 -0.0 2 -0.1 2 0.1 2 -0.6 2 0.2 2 -0.3 2 0.3 2 -0.5 2 0.1 2 -0.5 2 0.1 2 -0.3 2 0.1 2 -0.1 2 -0.1 2 -0.1 2 -0.5 2 -0.2 2 -0.4 2 -0.5 2 -0.5 2 -0.1 2 0.6 2 -0.3 2 -0.3 2 -0.5 2 -0.5 2 -0.2 2 -0.3 2 0.6 2 0.4 2 0.1 2 -1.1 2 -0.7 2 0.1 2 0.5 2 -0.2 2 -0.6 2 -0.5 2 -0.2 2 0.6 2 -0.1 2 -0.3 2 -0.6 2 -0.2 2 -0.2 2 -0.1 2 0.1 2 -0.1 2 0.3 2 0.3 2 -0.5 2 -0.8 2 0.0 2 0.2 2 -0.1 2 -0.3 2 0.2 2 -0.1 2 -0.2 2 -0.5 2 -0.0 2 -0.2 2 0.5 2 0.0 2 -0.1 2 -0.4 2 -0.0 2 -0.1 2 -0.3 2 -0.3 2 -0.5 2 -0.3 2 0.4 2 0.1 2 -0.2 2 -0.5 2 0.3 2 0.7 2 -0.1 2 -0.4 2 -0.5 2 0.0 2 -0.1 2 -0.4 2 0.1 2 0.0 2 -0.1 2 0.0 2 0.3 2 0.4 2 -0.9 2 -0.6 2 -0.4 2 0.5 2 0.5 2 -0.4 2 -0.6 2 -0.3 2 0.7 2 0.0 2 -0.5 2 -0.5 2 -0.3 2 -0.0 2 0.0 2 0.2 2 0.2 2 -0.4 2 0.5 2 0.5 2 0.4 2 -1.1 2 -1.2 2 -0.6 2 0.3 2 1.2 2 0.8 2 -0.2 2 -0.5 2 0.1 2 0.1 2 -0.2 2 -0.2 2 -0.3 2 -0.8 2 -0.2 2 0.5 2 -0.0 2 -0.7 2 -0.2 2 -0.2 2 0.6 2 0.1 2 0.7 2 0.1 2 -0.2 2 -0.9 2 0.1 2 0.6 2 -0.0 2 -0.6 2 0.3 2 0.4 2 -0.1 2 -0.6 2 -0.5 2 0.0 2 0.4 2 0.1 2 0.3 2 -0.5 2 -0.2 2 0.1 2 0.7 2 -0.1 2 -0.9 2 -0.7 2 -0.2 2 0.3 2 0.1 2 -0.5 2 -0.4 2 0.2 2 0.7 2 -0.2 2 -0.5 2 -0.6 2 0.1 2 1.1 2 0.8 2 -0.3 2 -1.2 2 -0.4 2 -0.5 2 0.0 2 0.4 2 0.9 2 -0.3 2 -0.1 2 0.1 2 -0.0 2 -0.3 2 -0.6 2 0.4 2 0.4 2 0.5 2 -0.2 2 -0.6 2 -0.0 2 0.3 2 0.2 2 -0.3 2 -0.2 2 0.3 2 -0.4 2 -0.4 2 -0.3 2 0.5 2 0.3 2 0.3 2 0.1 2 -0.5 2 -0.4 2 -0.6 2 0.2 2 0.2 2 0.2 2 -0.4 2 -0.2 2 0.0 2 0.4 2 0.0 2 0.3 2 0.0 2 -0.6 2 -0.6 2 -0.3 2 0.6 2 0.6 2 0.4 2 -0.3 2 -0.8 2 -0.8 2 -0.4 2 0.5 2 0.2 2 0.0 2 0.3 2 0.6 2 0.4 2 0.2 2 -0.4 2 -0.5 2 -0.0 2 -0.2 2 0.2 2 0.3 2 0.2 2 -0.7 2 0.7 2 0.7 2 0.1 2 -0.6 2 0.1 2 -0.3 2 -0.4 2 -0.5 2 -0.0 2 -0.5 2 0.1 2 0.1 2 -0.0 2 0.2 2 -0.2 2 0.4 2 -0.5 2 0.2 2 -0.4 2 0.7 2 0.5 2 0.5 2 -0.4 2 -0.2 2 -0.5 2 -0.3 2 -0.1 2 0.1 2 -0.0 2 -0.6 2 -0.3 2 0.3 2 0.3 2 0.1 2 -0.1 2 -0.2 2 -0.4 2 -0.2 2 0.2 2 0.2 2 0.5 2 -0.1 2 -0.7 2 -0.2 2 0.4 2 0.4 2 0.5 2 0.8 2 0.1 2 -0.5 2 -0.4 2 0.0 2 -0.4 2 -0.4 2 -0.4 2 0.6 2 0.8 2 -0.1 2 -0.3 2 -0.3 2 0.3 2 -0.3 2 0.2 2 -0.2 2 -0.1 2 -0.3 2 0.1 2 -0.1 2 -0.5 2 0.3 2 0.3 2 -0.3 2 -1.2 2 -0.7 2 0.3 2 1.2 2 0.5 2 -0.2 2 -0.8 2 0.6 2 0.5 2 0.5 2 0.1 2 0.4 2 0.2 2 -0.6 2 -1.0 2 -0.7 2 -0.3 2 0.8 2 0.6 2 0.3 2 -0.4 2 0.6 2 -0.0 2 0.0 2 -0.3 2 0.0 2 -0.9 2 -0.0 2 0.1 2 0.2 2 -0.2 2 0.3 2 0.4 2 -0.2 2 -0.2 2 -0.2 2 0.2 2 0.1 2 -0.1 2 0.2 2 -0.3 2 -0.5 2 -0.4 2 0.6 2 0.4 2 -0.3 2 -0.4 2 0.2 2 0.2 2 0.1 2 -0.5 2 0.3 2 0.4 2 0.1 2 -0.2 2 0.2 2 0.6 2 -0.6 2 0.1 2 -0.1 2 -0.4 2 -0.5 2 0.2 2 0.2 2 -0.3 2 -0.4 2 0.3 2 0.2 2 0.4 2 0.2 2 0.2 2 -0.2 2 -0.7 2 -0.1 2 0.6 2 0.2 2 -0.4 2 -0.1 2 0.4 2 0.2 2 0.3 2 -0.2 2 -0.2 2 -0.9 2 0.1 2 0.2 2 0.9 2 -0.2 2 -0.2 2 0.1 2 0.3 2 0.4 2 0.0 2 -0.4 2 -0.7 2 -0.4 2 0.5 2 0.5 2 0.3 2 -0.4 2 -0.0 2 0.6 2 -0.2 2 -0.7 2 -1.2 2 0.0 2 0.1 2 0.4 2 0.3 2 0.4 2 -0.3 2 0.2 2 0.3 2 0.2 2 -0.0 2 -0.2 2 -0.5 2 0.5 2 0.6 2 -0.3 2 -0.9 2 -0.0 2 -0.1 2 -0.1 2 0.2 2 0.4 2 0.3 2 -0.4 2 -0.6 2 0.1 2 0.6 2 0.6 2 0.0 2 -0.4 2 -0.4 2 -0.2 2 0.3 2 0.3 2 1.0 2 -0.0 2 -0.4 2 -0.4 2 0.2 2 -0.9 2 -0.5 2 0.1 2 0.9 2 -0.1 2 0.0 2 0.3 2 0.3 2 -0.4 2 -0.4 2 0.0 2 0.4 2 0.6 2 -0.1 2 -0.8 2 -0.7 2 0.1 2 -0.0 0 300.3 27.8 -35.9"/>
<path stroke="#ff7f4f" d="M221.3 1089.1l2 0.0 2 -0.1 2 0.1 2 -0.1 2 -0.5 2 -0.4 2 0.1 2 0.5 2 0.1 2 -0.2 2 0.3 2 0.1 2 0.0 2 -0.3 0.9 7.5 0.3 -14.9 0.3 2.2 0.4 -0.3 2 -0.5 2 -0.2 2 -0.0 2 0.5 2 -0.2 2 -0.4 2 -0.4 2 -0.2 2 -0.5 2 -0.7 2 -1.4 2 -1.7 2 -1.8 2 -0.8 2 -1.5 2 -1.7 2 -2.0 2 -2.3 2 -2.8 2 -3.0 2 -2.8 2 -2.7 2 -2.9 2 -2.9 2 -3.7 2 -3.9 2 -4.0 2 -3.8 2 -4.1 2 -3.7 2 -3.3 2 -3.3 2 -4.2 2 -4.1 2 -3.7 2 -3.6 2 -3.3 2 -4.0 2 -4.0 2 -3.9 2 -3.4 2 -3.9 2 -4.1 2 -3.8 2 -3.2 2 -2.6 2 -3.3 2 -3.6 2 -3.4 2 -2.7 2 -3.1 2 -3.1 2 -3.0 2 -3.3 2 -3.1 2 -3.4 2 -3.1 2 -2.9 2 -2.4 2 -1.9 2 -1.8 2 -2.0 2 -2.6 2 -2.6 2 -2.2 2 -2.1 2 -1.9 2 -2.1 2 -2.3 2 -2.2 2 -1.5 2 -1.6 2 -1.4 2 -1.9 2 -1.4 2 -2.2 2 -2.0 2 -1.8 2 -1.0 2 -1.4 2 -1.1 2 -1.3 2 -1.5 2 -2.1 2 -1.0 2 -0.9 2 -1.1 2 -2.2 2 -1.5 2 -1.2 2 -0.7 2 -0.9 2 -1.1 2 -1.3 2 -1.0 2 -0.7 2 -1.2 2 -1.6 2 -1.3 2 -1.2 2 -0.4 2 -0.5 2 -1.0 2 -1.3 2 -1.1 2 -1.5 2 -0.7 2 0.3 2 -0.3 2 -1.5 2 -1.0 2 -0.4 2 -0.8 2 -1.0 2 -0.6 2 -0.6 2 -0.5 2 -0.6 2 -0.8 2 -0.8 2 -1.0 2 -0.2 2 -0.8 2 -0.5 2 -0.8 2 0.0 2 -0.5 2 -0.3 2 -0.9 2 -0.9 2 -0.8 2 -0.4 2 -0.7 2 -0.2 2 -0.4 2 -0.7 2 -0.9 2 -0.4 2 -0.3 2 -0.4 2 -0.4 2 -0.4 2 -0.3 2 -0.2 2 -0.6 2 -0.3 2 -0.7 2 -0.2 2 -0.7 2 -0.4 2 -1.2 2 -0.2 2 -0.2 2 -0.3 2 -0.6 2 -0.0 2 0.2 2 -0.1 2 -0.2 2 -0.9 2 -0.7 2 -0.9 2 -0.6 2 -0.4 2 -0.1 2 -0.4 2 -0.7 2 -0.1 2 0.1 2 -0.3 2 -0.8 2 -0.1 2 0.3 2 -0.7 2 -1.1 2 -0.2 2 0.6 2 -0.3 2 -0.8 2 -0.9 2 -0.2 2 -0.2 2 -0.1 2 -0.4 2 0.1 2 -0.1 2 -0.4 2 -0.6 2 -0.1 2 -0.4 2 -0.3 2 -0.5 2 -0.2 2 -0.1 2 0.2 2 -0.5 2 -0.6 2 -0.9 2 -0.4 2 -0.0 2 0.5 2 -0.1 2 -0.5 2 -0.7 2 -0.3 2 -0.0 2 0.3 2 -0.1 2 -0.5 2 -0.6 2 -0.3 2 -0.2 2 -0.8 2 -0.7 2 -0.4 2 0.5 2 0.3 2 0.1 2 0.0 2 -0.4 2 -0.1 2 -0.2 2 -0.2 2 -0.2 2 -0.5 2 -0.6 2 -0.6 2 0.4 2 0.1 2 -0.8 2 -0.5 2 0.0 2 1.1 2 0.5 2 -0.2 2 -1.3 2 -0.6 2 -0.4 2 0.0 2 -0.0 2 0.1 2 -0.2 2 -0.3 2 -0.3 2 0.2 2 0.3 2 -0.2 2 -0.8 2 -0.3 2 0.2 2 0.3 2 0.2 2 -0.1 2 -0.8 2 -0.1 2 0.3 2 0.3 2 -0.3 2 -0.8 2 -0.7 2 -0.5 2 0.6 2 -0.2 2 -0.3 2 0.0 2 0.5 2 -0.2 2 -0.1 2 -0.4 2 -0.2 2 -0.5 2 0.3 2 -0.2 2 -0.3 2 -0.2 2 -0.3 2 0.1 2 -0.1 2 0.4 2 -0.3 2 -0.3 2 -0.3 2 0.4 2 -0.4 2 -0.5 2 -0.1 2 0.1 2 -0.5 2 -0.0 2 0.2 2 -0.2 2 0.2 2 0.1 2 -0.4 2 -1.2 2 -0.3 2 -0.1 2 1.0 2 0.8 2 -0.1 2 -0.2 2 0.1 2 0.1 2 -0.5 2 -0.1 2 -0.3 2 -0.9 2 -0.5 2 0.2 2 0.4 2 -0.1 2 0.2 2 -0.1 2 0.2 2 -0.3 2 0.1 2 -0.6 2 -0.1 2 -0.2 2 -0.3 2 -0.2 2 0.3 2 0.6 2 0.1 2 -0.4 2 -0.6 2 -0.8 2 -0.3 2 0.6 2 1.2 2 0.5 2 -0.4 2 -0.3 2 -0.1 2 -0.6 2 -0.6 2 0.2 2 0.9 2 0.2 2 -0.5 2 -0.5 2 -0.3 2 -0.2 2 -0.5 2 0.0 2 0.3 2 0.4 2 0.4 2 0.4 2 -0.3 2 -0.5 2 -0.5 2 0.2 2 0.1 2 0.2 2 -0.2 2 0.3 2 -0.0 2 -0.6 2 0.1 2 0.4 2 0.4 2 -0.7 2 -0.1 2 -0.5 2 0.2 2 -0.1 2 -0.1 2 0.2 2 0.3 2 -0.5 2 -0.7 2 -0.2 2 0.1 2 -0.2 2 0.1 2 0.3 2 -0.0 2 -0.5 2 -0.3 2 0.5 2 0.2 2 0.1 2 0.0 2 0.2 2 -0.2 2 -0.3 2 -0.1 2 -0.4 2 0.2 2 0.6 2 0.1 2 -0.0 2 -0.8 2 -0.4 2 -0.5 2 1.0 2 0.3 2 0.2 2 -0.9 2 -0.1 2 0.1 2 0.6 2 -0.8 2 -0.4 2 0.5 2 1.1 2 0.1 2 -0.8 2 -0.6 2 0.2 2 0.3 2 0.0 2 -0.3 2 0.1 2 0.1 2 -0.0 2 0.6 2 0.1 2 0.0 2 -1.0 2 -0.1 2 -0.1 2 -0.2 2 -0.6 2 0.1 2 0.5 2 -0.4 2 -0.9 2 -0.0 2 0.8 2 0.7 2 -0.2 2 -0.0 2 -0.1 2 0.1 2 -0.2 2 0.4 2 0.4 2 0.2 2 -0.4 2 -0.4 2 -0.5 2 -0.1 2 0.0 2 0.2 2 0.3 2 0.3 2 0.3 2 -0.1 2 0.1 2 -0.1 2 0.1 2 -0.1 2 0.1 2 -0.3 2 -0.6 2 -0.7 2 0.5 2 0.7 2 0.4 2 -0.6 2 -0.3 2 0.6 2 0.0 2 -0.3 2 -0.7 2 -0.0 2 -0.4 2 -0.2 2 0.3 2 0.2 2 0.4 2 -0.1 2 0.0 2 0.3 2 0.6 2 -0.5 2 -1.4 2 -0.2 2 0.8 2 0.6 2 0.0 2 -0.1 2 0.0 2 -0.6 2 0.1 2 -0.0 2 0.1 2 0.2 2 0.3 2 -0.4 2 -0.3 2 0.4 2 0.2 2 -0.5 2 -0.2 2 0.2 2 0.1 2 0.2 2 -0.0 2 0.4 2 -0.1 2 -0.3 2 -0.0 2 1.1 2 0.2 2 -0.8 2 -1.0 2 0.2 2 0.3 2 -0.0 2 -0.3 2 0.4 2 0.5 2 0.4 2 0.1 2 -0.2 2 -0.7 2 -0.2 2 0.3 2 0.3 2 0.1 2 -0.3 2 -0.1 2 0.1 2 -0.1 2 -0.7 2 0.0 2 0.5 2 0.1 2 -0.5 2 -0.2 2 -0.4 2 -0.3 2 -0.2 2 0.4 2 0.2 2 0.7 2 0.0 2 0.0 2 -0.3 2 -0.1 2 -0.5 2 0.3 2 0.4 2 0.1 2 -0.3 2 -0.1 2 -0.1 2 -0.0 2 0.5 2 0.2 2 -0.6 2 -0.6 2 0.6 2 0.4 2 0.2 2 -0.4 2 0.3 2 -0.3 2 -0.4 2 -0.4 2 0.7 2 0.6 2 0.1 2 -0.6 2 -0.1 2 -0.1 2 0.3 2 0.6 2 0.1 2 -0.4 2 -0.8 2 -0.4 2 -0.4 2 0.3 2 0.1 2 0.6 2 0.3 2 0.4 2 -0.8 2 -0.3 2 0.2 2 0.6 2 -0.1 2 -0.3 2 -0.3 2 0.2 2 -0.1 2 -0.5 2 -0.5 2 -0.0 2 0.5 2 0.7 2 0.9 2 0.6 2 -0.2 2 -0.2 2 -0.4 2 -0.4 2 0.1 2 -0.0 2 -0.3 2 -0.6 2 0.7 2 0.1 2 0.1 2 -0.4 2 -0.3 2 -0.2 2 0.3 2 0.0 2 -0.4 2 -0.2 2 0.6 2 0.5 2 0.2 2 -0.2 2 -0.2 2 -0.0 2 -0.2 2 -0.3 2 -0.4 2 0.3 2 0.5 2 0.5 2 -0.4 2 -0.3 2 -0.0 2 0.2 2 0.0 2 -0.1 2 -0.1 2 0.2 2 -0.1 2 0.3 2 -0.2 2 -0.0 2 -0.6 2 -0.1 2 0.0 2 0.3 2 -0.2 2 0.4 2 0.4 2 0.8 2 -0.6 2 -1.1 2 -0.7 2 0.4 2 0.7 2 0.1 2 -0.1 2 -0.0 2 -0.3 2 0.4 2 -0.0 2 0.2 2 -0.1 2 0.2 2 -0.2 2 0.2 2 0.3 2 0.1 2 -0.2 2 0.1 2 -0.1 2 -0.1 2 -0.2 2 0.1 2 0.2 2 0.1 2 -0.6 2 -0.2 2 0.3 2 0.7 2 0.1 2 -0.5 2 -0.5 2 0.0 2 0.6 2 0.3 2 0.1 2 -0.4 2 0.2 2 -0.5 2 -0.1 2 -0.5 2 0.3 2 0.3 2 0.0 2 -0.5 2 -0.3 2 -0.1 2 -0.1 2 -0.1 2 0.4 2 -0.0 0 335.2 27.8 -37.9"/>
<path stroke="#ffc86c" d="M221.3 1089.3l2 -0.1 2 -0.5 2 -0.3 2 0.0 2 -0.1 2 0.2 2 0.3 2 -0.0 2 -0.4 2 0.3 2 0.0 2 -0.0 2 -0.6 2 0.1 0.9 8.3 0.3 -15.9 0.3 2.3 0.4 -0.2 2 -0.1 2 0.2 2 -0.1 2 -0.6 2 -1.3 2 -0.4 2 -0.2 2 -0.0 2 -1.2 2 -1.6 2 -2.0 2 -1.9 2 -2.0 2 -2.8 2 -2.5 2 -2.5 2 -3.0 2 -3.2 2 -3.8 2 -3.8 2 -4.8 2 -4.6 2 -3.7 2 -3.2 2 -3.7 2 -5.6 2 -5.2 2 -4.7 2 -4.2 2 -4.7 2 -5.1 2 -4.9 2 -5.0 2 -4.6 2 -4.4 2 -4.5 2 -4.7 2 -4.7 2 -4.3 2 -4.0 2 -4.1 2 -4.2 2 -4.8 2 -4.4 2 -3.8 2 -3.7 2 -4.0 2 -4.2 2 -3.1 2 -3.4 2 -3.6 2 -3.6 2 -2.8 2 -2.9 2 -3.1 2 -3.3 2 -3.2 2 -3.3 2 -3.1 2 -2.9 2 -2.5 2 -2.4 2 -2.4 2 -2.4 2 -2.3 2 -2.8 2 -2.8 2 -2.4 2 -2.3 2 -1.9 2 -1.9 2 -1.9 2 -2.2 2 -1.3 2 -1.4 2 -1.3 2 -1.8 2 -1.8 2 -1.8 2 -1.3 2 -1.4 2 -2.0 2 -1.8 2 -1.7 2 -1.2 2 -1.1 2 -0.6 2 -0.7 2 -1.1 2 -1.4 2 -1.5 2 -0.7 2 -0.7 2 -0.6 2 -1.6 2 -1.6 2 -1.4 2 -1.0 2 -1.1 2 -1.5 2 -0.8 2 -0.8 2 -0.5 2 -1.1 2 -1.5 2 -1.1 2 -0.2 2 -0.6 2 -1.4 2 -1.1 2 -0.4 2 -0.9 2 -0.3 2 -0.1 2 -0.5 2 -1.8 2 -1.0 2 0.2 2 0.2 2 -0.5 2 -1.4 2 -1.0 2 -1.2 2 0.0 2 -0.2 2 -0.9 2 -1.8 2 -0.6 2 0.3 2 -0.2 2 -0.5 2 0.1 2 -0.2 2 -1.3 2 -1.3 2 -0.8 2 -0.3 2 -0.3 2 -0.1 2 -0.6 2 -0.6 2 -0.5 2 -0.1 2 -0.4 2 -0.2 2 -0.6 2 -0.2 2 -0.5 2 -0.4 2 -0.7 2 -0.4 2 -0.8 2 0.3 2 -0.2 2 -0.2 2 -1.2 2 -0.4 2 -0.3 2 -0.3 2 -0.4 2 -0.8 2 -0.5 2 -0.5 2 0.5 2 -0.2 2 -0.6 2 -0.7 2 0.5 2 -0.4 2 -1.1 2 -0.6 2 0.4 2 -0.2 2 -1.0 2 -0.7 2 0.4 2 0.3 2 0.1 2 -0.4 2 -0.3 2 -0.3 2 -0.2 2 -0.3 2 -0.6 2 -0.5 2 -0.2 2 0.0 2 -0.4 2 -0.2 2 0.1 2 -0.1 2 -0.7 2 -0.2 2 0.6 2 -0.1 2 -1.2 2 -1.2 2 -0.2 2 -0.2 2 -0.4 2 0.3 2 0.5 2 0.5 2 -0.2 2 -0.6 2 -0.4 2 -0.4 2 -0.3 2 -0.8 2 0.2 2 0.4 2 -0.0 2 -0.7 2 -0.4 2 0.0 2 0.1 2 -0.1 2 -0.2 2 -0.8 2 -0.4 2 -0.7 2 0.6 2 0.6 2 0.5 2 -0.4 2 0.0 2 -0.0 2 -1.0 2 -1.0 2 -0.9 2 -0.1 2 -0.3 2 0.5 2 0.3 2 -0.0 2 -0.3 2 -0.1 2 0.1 2 -0.1 2 -0.9 2 -0.4 2 0.3 2 0.7 2 -0.5 2 -0.6 2 -0.0 2 0.1 2 0.0 2 -0.3 2 -0.1 2 -0.3 2 0.7 2 0.1 2 -0.5 2 -0.5 2 -0.0 2 -0.0 2 -0.8 2 -0.1 2 0.1 2 0.1 2 0.1 2 0.1 2 0.1 2 -0.8 2 -0.6 2 -0.2 2 -0.1 2 0.4 2 0.5 2 0.2 2 -0.8 2 -0.5 2 -0.1 2 0.3 2 0.2 2 0.1 2 -0.2 2 0.2 2 0.6 2 -0.2 2 -0.4 2 -0.5 2 -0.3 2 0.0 2 0.3 2 0.2 2 -0.3 2 -0.2 2 -0.4 2 0.2 2 0.5 2 0.2 2 -0.3 2 0.1 2 -0.2 2 -0.3 2 -0.4 2 0.1 2 -0.2 2 0.6 2 -0.1 2 -0.1 2 -0.5 2 -0.1 2 -0.0 2 -0.1 2 -0.2 2 -0.3 2 -0.2 2 0.3 2 0.3 2 0.4 2 -0.7 2 -0.4 2 -0.4 2 0.2 2 0.3 2 0.3 2 -0.2 2 -0.1 2 0.3 2 0.5 2 -0.8 2 -0.6 2 -0.5 2 0.2 2 -0.1 2 -0.2 2 -0.5 2 -0.4 2 0.3 2 1.1 2 0.2 2 -0.5 2 -1.1 2 -0.0 2 0.4 2 0.5 2 -0.3 2 -0.3 2 -0.6 2 0.3 2 -0.0 2 -0.3 2 0.1 2 0.9 2 0.7 2 -0.3 2 -0.4 2 0.0 2 -0.2 2 0.6 2 0.0 2 -0.4 2 -0.5 2 0.7 2 0.5 2 -0.2 2 -0.5 2 -0.2 2 -1.1 2 0.2 2 0.4 2 0.6 2 -0.6 2 -0.3 2 0.2 2 0.4 2 -0.0 2 -0.7 2 0.1 2 0.4 2 0.2 2 -0.2 2 -0.5 2 0.4 2 0.1 2 0.1 2 0.1 2 0.2 2 -0.6 2 -0.8 2 -0.0 2 0.9 2 0.5 2 -0.1 2 -0.3 2 0.4 2 -0.1 2 -0.0 2 0.1 2 0.3 2 -1.1 2 -0.5 2 0.5 2 0.7 2 0.4 2 -0.1 2 -0.4 2 -0.6 2 0.2 2 0.5 2 -0.2 2 0.2 2 -0.3 2 -0.1 2 -0.6 2 -0.2 2 0.0 2 0.2 2 0.0 2 -0.1 2 0.3 2 0.4 2 0.3 2 0.2 2 -0.1 2 -0.4 2 -0.8 2 -0.3 2 0.0 2 -0.1 2 0.4 2 0.0 2 0.3 2 -0.1 2 0.4 2 0.5 2 0.1 2 -0.4 2 -0.3 2 -0.0 2 -0.4 2 -0.8 2 0.1 2 0.4 2 0.4 2 -0.2 2 -0.1 2 0.7 2 0.4 2 -0.4 2 -0.4 2 0.6 2 -0.1 2 -0.6 2 -0.6 2 0.5 2 0.7 2 -0.3 2 -1.2 2 -0.6 2 0.3 2 0.7 2 0.6 2 0.9 2 0.3 2 -0.1 2 -0.3 2 -0.4 2 -0.6 2 -0.4 2 0.6 2 0.0 2 -0.0 2 0.2 2 0.3 2 -0.3 2 -0.3 2 0.1 2 0.2 2 -0.1 2 0.1 2 0.2 2 0.4 2 -0.8 2 -1.0 2 -0.1 2 0.6 2 0.2 2 -0.4 2 -0.2 2 0.1 2 0.1 2 0.1 2 0.2 2 -0.0 2 0.3 2 -0.5 2 0.7 2 -0.3 2 0.4 2 -0.3 2 0.4 2 -0.0 2 -0.2 2 -0.6 2 -0.3 2 0.5 2 0.4 2 -0.7 2 -0.6 2 0.3 2 0.6 2 0.5 2 0.1 2 0.0 2 -0.9 2 0.2 2 0.3 2 0.6 2 -0.6 2 -0.2 2 -0.2 2 0.5 2 0.6 2 0.1 2 0.0 2 -0.4 2 -0.2 2 -0.6 2 0.4 2 0.0 2 0.3 2 0.2 2 -0.5 2 -0.0 2 -0.0 2 0.3 2 -1.2 2 -0.3 2 -0.4 2 0.4 2 0.3 2 1.1 2 0.1 2 0.1 2 -0.1 2 0.7 2 -0.3 2 -0.3 2 -0.9 2 -0.5 2 -0.3 2 0.5 2 -0.0 2 -0.2 2 0.3 2 0.3 2 -0.0 2 -0.4 2 0.4 2 0.7 2 0.3 2 -0.6 2 -0.1 2 0.2 2 -0.3 2 -0.9 2 -0.4 2 0.9 2 0.5 2 0.7 2 -0.3 2 -0.2 2 -0.5 2 0.1 2 0.0 2 -0.6 2 -0.4 2 -0.3 2 0.4 2 0.2 2 -0.4 2 -0.1 2 0.4 2 0.4 2 -0.3 2 -0.6 2 0.4 2 0.4 2 0.6 2 0.0 2 0.5 2 -0.1 2 -0.5 2 -0.2 2 0.2 2 0.2 2 -0.2 2 -0.2 2 0.0 2 0.3 2 -0.0 2 0.2 2 -0.0 2 0.1 2 -0.3 2 -0.3 2 -0.6 2 -0.1 2 0.4 2 0.7 2 0.1 2 -0.4 2 -0.5 2 0.4 2 0.3 2 -0.1 2 -0.2 2 -0.3 2 -0.0 2 -0.1 2 0.3 2 -0.4 2 0.2 2 0.7 2 0.0 2 -0.5 2 -0.2 2 1.0 2 -0.0 2 -0.7 2 -0.7 2 0.8 2 0.5 2 -0.1 2 -0.0 2 -0.5 2 -1.0 2 -0.2 2 1.1 2 0.2 2 -0.3 2 -0.0 2 0.4 2 -0.4 2 -0.2 2 -0.3 2 0.2 2 0.1 2 0.7 2 0.3 2 -0.5 2 -0.6 2 0.4 2 0.6 2 0.1 2 -0.3 2 0.0 2 -0.5 2 0.1 2 -0.4 2 0.4 2 -0.4 2 -0.5 2 -0.3 2 0.6 2 0.6 2 -0.0 2 0.1 2 -0.3 2 -0.1 2 0.2 2 0.4 2 0.5 2 -0.2 2 -0.4 2 -0.3 2 0.1 2 -0.4 2 -0.4 2 0.5 2 0.4 2 0.2 2 -0.4 2 0.1 2 -0.2 2 -0.1 2 -0.1 2 0.3 2 0.6 2 -0.4 2 -0.2 2 0.2 2 0.9 2 -0.3 2 -0.8 2 -0.5 2 0.2 2 0.3 2 0.2 2 0.1 2 -0.3 2 -0.6 2 -0.5 2 0.3 2 -0.0 0 370.4 27.8 -39.7"/>
<path stroke="#b668b8" d="M221.3 1088.1l2 0.2 2 1.1 2 0.4 2 -0.3 2 -0.4 2 -0.2 2 -0.1 2 -0.0 2 0.5 2 0.0 2 -0.4 2 -0.6 2 -0.2 2 0.2 0.9 8.9 0.3 -17.0 0.3 2.5 0.4 -0.0 2 0.0 2 0.1 2 -0.8 2 -0.3 2 -0.7 2 -1.0 2 -1.9 2 -1.4 2 -1.0 2 -1.5 2 -2.8 2 -3.5 2 -3.5 2 -3.9 2 -4.6 2 -5.0 2 -4.7 2 -5.5 2 -5.2 2 -5.4 2 -5.2 2 -5.9 2 -5.4 2 -5.8 2 -6.0 2 -6.3 2 -5.8 2 -6.1 2 -6.6 2 -6.8 2 -6.5 2 -5.9 2 -5.5 2 -5.5 2 -5.2 2 -5.5 2 -5.0 2 -5.1 2 -5.3 2 -5.4 2 -5.8 2 -4.6 2 -4.3 2 -3.6 2 -5.2 2 -3.8 2 -3.9 2 -3.8 2 -4.2 2 -3.5 2 -3.9 2 -3.6 2 -3.4 2 -2.9 2 -3.1 2 -2.5 2 -3.4 2 -2.7 2 -2.7 2 -1.8 2 -2.9 2 -2.3 2 -2.5 2 -2.0 2 -2.9 2 -2.3 2 -2.0 2 -2.0 2 -2.6 2 -2.3 2 -1.2 2 -1.2 2 -1.4 2 -1.9 2 -1.7 2 -1.8 2 -1.7 2 -1.3 2 -1.3 2 -1.3 2 -2.1 2 -1.5 2 -1.4 2 -1.1 2 -1.0 2 -1.2 2 -1.3 2 -1.2 2 -0.4 2 -1.1 2 -1.3 2 -1.2 2 -1.2 2 -1.8 2 -1.7 2 -0.5 2 -0.1 2 -0.8 2 -1.4 2 -1.0 2 -0.6 2 -0.7 2 -0.1 2 -0.7 2 -1.0 2 -1.5 2 -0.8 2 -1.0 2 -0.6 2 -0.7 2 -0.4 2 -0.5 2 -0.8 2 -0.4 2 -0.8 2 -0.6 2 -0.4 2 -0.4 2 -0.6 2 -0.6 2 -0.3 2 -1.6 2 -0.8 2 -0.4 2 -0.3 2 -0.7 2 -0.6 2 -0.3 2 -0.9 2 -0.3 2 -1.0 2 -0.6 2 -0.8 2 -0.4 2 -0.3 2 -0.2 2 -0.3 2 -0.1 2 -0.3 2 -1.2 2 -1.0 2 -0.2 2 0.4 2 0.0 2 -0.2 2 -0.8 2 -0.6 2 -1.0 2 -0.2 2 -0.2 2 0.1 2 -0.8 2 -0.6 2 -0.7 2 -0.2 2 -0.6 2 -0.1 2 -0.1 2 0.5 2 -0.5 2 -0.7 2 -0.8 2 -0.3 2 -0.3 2 -0.7 2 -0.7 2 -0.4 2 -0.0 2 -0.3 2 -0.5 2 -0.3 2 0.3 2 0.1 2 -0.1 2 -0.1 2 0.0 2 -0.6 2 -0.8 2 -1.0 2 -0.5 2 0.1 2 0.1 2 0.2 2 0.2 2 -0.0 2 -0.5 2 -0.9 2 -0.6 2 -0.5 2 0.2 2 0.1 2 -0.4 2 0.3 2 0.2 2 -0.0 2 -0.6 2 -0.2 2 -0.4 2 -0.6 2 -0.7 2 0.2 2 0.0 2 -0.4 2 -0.9 2 -0.3 2 0.8 2 0.5 2 0.5 2 -0.2 2 -0.1 2 -0.5 2 -0.8 2 -0.5 2 -0.4 2 0.0 2 -0.3 2 0.3 2 0.2 2 -0.0 2 -1.0 2 -0.3 2 0.4 2 0.3 2 -0.8 2 -0.4 2 0.3 2 -0.3 2 -0.4 2 -0.7 2 0.2 2 0.4 2 0.6 2 -0.2 2 -0.6 2 -0.2 2 0.4 2 0.6 2 -0.3 2 -1.0 2 -0.5 2 0.6 2 0.3 2 0.0 2 -0.7 2 -0.6 2 -0.1 2 0.2 2 -0.1 2 -0.7 2 -0.2 2 -0.0 2 -0.3 2 0.3 2 0.4 2 0.5 2 -0.5 2 -0.2 2 -0.2 2 0.3 2 0.1 2 -0.1 2 -0.6 2 -0.7 2 -0.4 2 -0.0 2 0.1 2 -0.2 2 0.5 2 0.4 2 -0.4 2 -1.0 2 -0.4 2 0.5 2 0.7 2 0.1 2 -0.1 2 -0.3 2 0.4 2 0.3 2 0.1 2 -0.3 2 -0.4 2 -0.3 2 -0.6 2 -0.0 2 0.2 2 0.1 2 -0.2 2 -0.1 2 -0.2 2 -0.3 2 0.4 2 0.3 2 0.4 2 -0.5 2 -0.6 2 -0.4 2 0.6 2 0.2 2 -0.0 2 0.1 2 0.5 2 -0.2 2 -0.4 2 -0.8 2 -0.1 2 0.2 2 0.8 2 -0.3 2 -0.6 2 -0.7 2 0.5 2 -0.3 2 -0.4 2 0.4 2 1.1 2 -0.2 2 -0.8 2 0.1 2 0.6 2 -0.1 2 -0.5 2 -0.0 2 0.2 2 0.3 2 -0.1 2 -0.2 2 0.1 2 -0.1 2 0.0 2 -0.5 2 -0.1 2 -0.2 2 -0.0 2 0.1 2 0.5 2 0.8 2 0.4 2 -0.5 2 -0.3 2 -0.2 2 0.4 2 -0.6 2 -0.0 2 -0.4 2 0.4 2 -0.4 2 0.2 2 -0.3 2 -0.5 2 -0.7 2 0.1 2 0.6 2 -0.3 2 -0.5 2 -0.1 2 0.6 2 0.4 2 -0.0 2 -0.5 2 -0.1 2 0.3 2 0.6 2 -0.1 2 0.1 2 -0.4 2 0.1 2 -0.1 2 0.3 2 -0.3 2 -0.2 2 -0.3 2 0.1 2 0.3 2 1.1 2 0.3 2 -0.3 2 -0.7 2 0.2 2 0.0 2 0.2 2 -0.2 2 0.5 2 0.3 2 -0.7 2 -0.9 2 -0.2 2 -0.2 2 -0.5 2 -0.0 2 0.4 2 0.2 2 -0.3 2 0.2 2 0.4 2 0.6 2 -0.3 2 -0.3 2 -0.2 2 0.3 2 0.3 2 0.6 2 -0.3 2 0.0 2 -0.5 2 -0.1 2 -0.6 2 0.2 2 0.2 2 0.4 2 0.3 2 0.1 2 -0.2 2 -0.1 2 0.0 2 -0.3 2 -0.2 2 0.2 2 0.4 2 0.1 2 -0.3 2 -0.2 2 0.2 2 0.1 2 -0.2 2 -0.4 2 0.1 2 0.4 2 0.4 2 -0.5 2 -0.5 2 0.1 2 0.5 2 -0.4 2 -0.5 2 -0.3 2 0.0 2 0.4 2 -0.3 2 -0.1 2 -0.6 2 0.3 2 0.5 2 0.7 2 0.4 2 -0.0 2 -0.7 2 -0.4 2 -0.5 2 0.2 2 -0.1 2 0.4 2 0.3 2 -0.0 2 0.5 2 0.3 2 0.4 2 -0.2 2 0.0 2 -0.3 2 0.2 2 -0.3 2 -0.1 2 -0.4 2 0.2 2 -0.1 2 -0.2 2 0.2 2 0.3 2 0.2 2 -0.1 2 -0.4 2 -0.7 2 -0.4 2 0.3 2 1.2 2 0.3 2 0.1 2 -0.3 2 0.6 2 -0.1 2 -0.2 2 -0.6 2 -0.3 2 -0.5 2 -0.2 2 0.6 2 0.5 2 0.1 2 -0.4 2 -0.2 2 -0.0 2 0.0 2 0.3 2 0.3 2 -0.4 2 -0.3 2 0.3 2 0.3 2 -0.3 2 -0.3 2 0.6 2 0.3 2 -0.2 2 -0.2 2 0.2 2 0.2 2 0.3 2 -0.0 2 -0.5 2 -0.8 2 -0.1 2 0.3 2 0.4 2 0.2 2 0.5 2 0.2 2 0.2 2 -0.6 2 -0.5 2 -0.2 2 0.3 2 0.2 2 -0.1 2 -0.2 2 0.2 2 0.4 2 -0.3 2 -0.9 2 -0.2 2 0.7 2 0.2 2 -0.4 2 -0.1 2 0.2 2 0.6 2 -0.0 2 0.2 2 -0.0 2 0.1 2 -0.4 2 -0.1 2 -0.0 2 -0.3 2 -0.5 2 -0.1 2 0.5 2 0.4 2 -0.2 2 -0.1 2 -0.0 2 -0.1 2 -0.1 2 -0.0 2 -0.2 2 -0.1 2 0.6 2 0.2 2 -0.1 2 0.2 2 0.0 2 0.1 2 -0.1 2 0.0 2 -1.2 2 -0.0 2 0.0 2 0.6 2 -0.5 2 0.3 2 0.5 2 1.0 2 -1.1 2 -0.7 2 -0.1 2 -0.0 2 -0.7 2 0.1 2 1.3 2 0.1 2 -0.1 2 -0.3 2 0.3 2 -0.1 2 0.2 2 0.3 2 -0.3 2 -0.1 2 -0.2 2 0.1 2 0.0 2 0.4 2 0.1 2 -0.0 2 0.2 2 -0.3 2 -0.6 2 -0.0 2 0.5 2 0.4 2 -0.3 2 -0.0 2 -0.0 2 -0.4 2 -0.3 2 0.3 2 0.6 2 -0.3 2 -0.5 2 -0.1 2 0.2 2 0.1 2 0.2 2 0.3 2 0.5 2 -0.0 2 0.2 2 -0.1 2 0.5 2 -0.3 2 -0.5 2 -0.3 2 -0.0 2 -0.3 2 -0.3 2 0.3 2 -0.2 2 -0.2 2 -0.0 2 0.3 2 0.0 2 0.1 2 0.3 2 0.2 2 -0.1 2 -0.3 2 0.2 2 0.3 2 0.3 2 -0.3 2 -0.3 2 0.2 2 0.2 2 0.2 2 -0.2 2 -0.2 2 -0.9 2 -0.1 2 0.1 2 0.1 2 -0.6 2 0.4 2 0.5 2 0.4 2 -0.2 2 0.1 2 0.0 2 0.0 2 -0.1 2 -0.8 2 -0.1 2 0.5 2 0.7 2 0.2 2 -0.3 2 -1.0 2 -0.2 2 0.9 2 0.2 2 -0.7 2 0.2 2 0.2 2 0.1 2 0.6 2 0.8 2 -0.2 2 -0.6 2 -0.6 2 -0.1 2 -0.1 2 -0.1 2 -0.5 2 0.6 2 0.6 2 -0.1 2 -0.7 2 0.4 2 0.9 2 -0.0 2 -0.5 2 -0.1 2 0.1 2 -0.5 2 -0.6 2 0.1 2 0.2 2 -0.2 2 -0.1 2 -0.0 0 407.6 27.8 -41.5"/>
</g>
<g stroke="#1e1e1e" stroke-width="2.8" fill="none" stroke-linecap="butt" stroke-linejoin="miter">
<path d="M237.3 42.2H223.3V484.9H1674.6"/>
<path d="M223.3 265H237.3"/>
<path d="M250.2 484.9V470.9"/>
<path d="M530.3 484.9V470.9"/>
<path d="M810.6 484.9V470.9"/>
<path d="M1087.4 484.9V470.9"/>
<path d="M1367.5 484.9V470.9"/>
<path d="M1647.8 484.9V470.9"/>
<path d="M237.3 687.5H223.3V1129.0H1674.6"/>
<path d="M223.3 818.7H237.3"/>
<path d="M223.3 953.9H237.3"/>
<path d="M223.3 1085.4H237.3"/>
<path d="M250.2 1129.0V1115.0"/>
<path d="M530.3 1129.0V1115.0"/>
<path d="M810.6 1129.0V1115.0"/>
<path d="M1087.4 1129.0V1115.0"/>
<path d="M1367.5 1129.0V1115.0"/>
<path d="M1647.8 1129.0V1115.0"/>
</g>
<text font-size="100" transform="translate(119.63,52.36) scale(0.5416,0.5221)">100</text>
<text font-size="100" transform="translate(173.58,275.25) scale(0.5548,0.5235)">0</text>
<text font-size="100" transform="translate(99.47,497.27) scale(0.5337,0.5162)">-100</text>
<text font-size="100" transform="translate(146.19,697.57) scale(0.5460,0.5254)">15</text>
<text font-size="100" transform="translate(145.93,832.94) scale(0.5517,0.5309)">10</text>
<text font-size="100" transform="translate(170.84,964.37) scale(0.6100,0.5288)">5</text>
<text font-size="100" transform="translate(173.05,1099.71) scale(0.5619,0.5426)">0</text>
<text font-size="100" transform="translate(214.81,556.21) scale(0.5235,0.5426)">0.1</text>
<text font-size="100" transform="translate(214.81,1201.41) scale(0.5235,0.5441)">0.1</text>
<text font-size="100" transform="translate(493.27,556.21) scale(0.5569,0.5426)">0.2</text>
<text font-size="100" transform="translate(493.27,1201.41) scale(0.5569,0.5441)">0.2</text>
<text font-size="100" transform="translate(773.19,556.21) scale(0.5530,0.5426)">0.3</text>
<text font-size="100" transform="translate(773.19,1201.41) scale(0.5530,0.5441)">0.3</text>
<text font-size="100" transform="translate(1054.21,556.21) scale(0.5487,0.5426)">0.4</text>
<text font-size="100" transform="translate(1054.21,1201.41) scale(0.5487,0.5441)">0.4</text>
<text font-size="100" transform="translate(1333.97,556.21) scale(0.5573,0.5426)">0.5</text>
<text font-size="100" transform="translate(1333.97,1201.41) scale(0.5573,0.5441)">0.5</text>
<text font-size="100" transform="translate(1615.76,556.21) scale(0.5356,0.5426)">0.6</text>
<text font-size="100" transform="translate(1615.76,1201.41) scale(0.5356,0.5441)">0.6</text>
<text font-size="100" transform="translate(855.68,1286.08) scale(0.6208,0.6056)">time (s)</text>
<text font-size="100" transform="translate(56.88,412.97) rotate(-90) scale(0.6561,0.6056)">Input (mV)</text>
<text font-size="100" transform="translate(104.10,1072.75) rotate(-90) scale(0.6629,0.6189)">Output (nA)</text>
</g></svg></body></html>
